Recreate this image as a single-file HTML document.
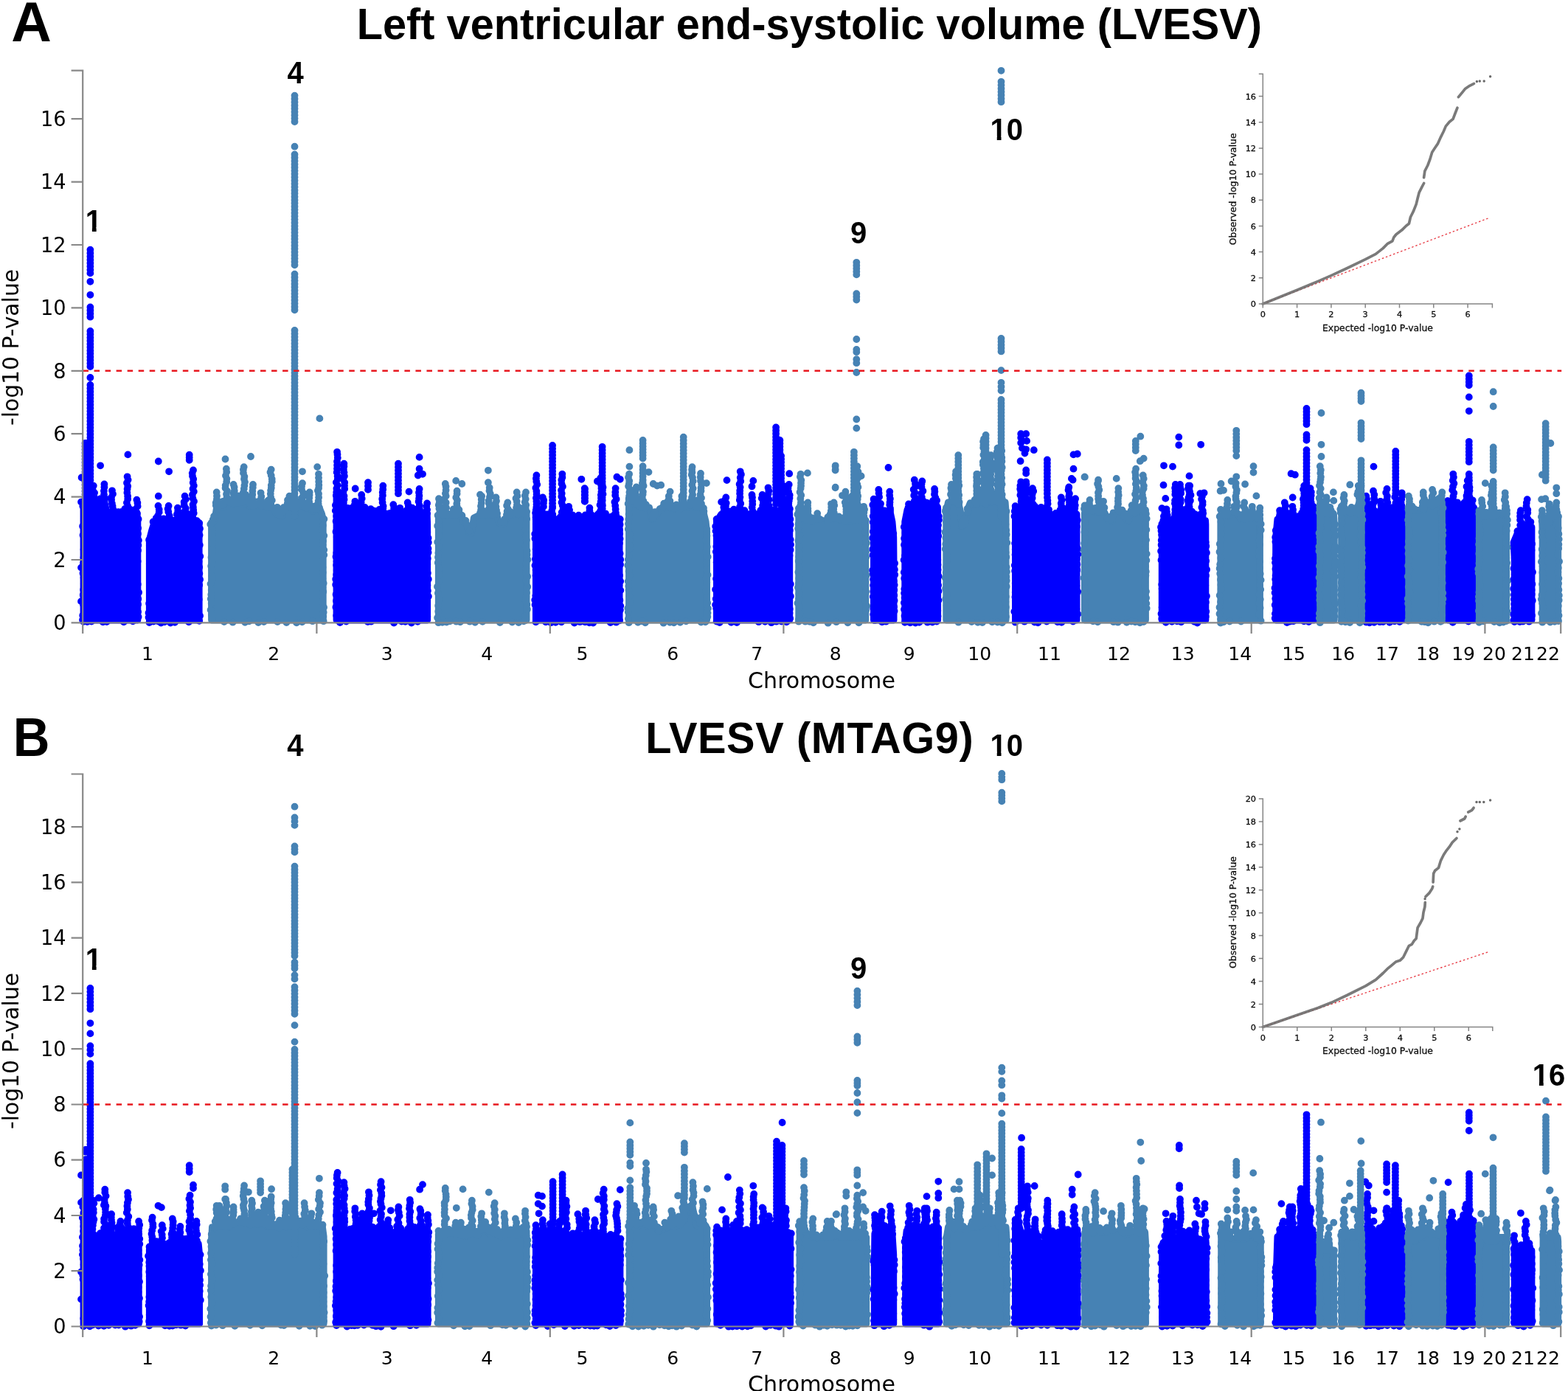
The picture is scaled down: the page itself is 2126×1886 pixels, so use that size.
<!DOCTYPE html>
<html lang="en">
<head>
<meta charset="utf-8">
<title>LVESV Manhattan plots</title>
<style>
html,body{margin:0;padding:0;background:#fff}
body{width:2126px;height:1886px;overflow:hidden}
svg{display:block}
text{font-family:"DejaVu Sans","Liberation Sans",sans-serif;fill:#000}
.tk text{font-size:28.2px}
.xl text{font-size:25.6px}
.at{font-size:30.1px}
.ti{font-family:"Liberation Sans",sans-serif;font-weight:bold;font-size:58.5px}
.le{font-family:"Liberation Sans",sans-serif;font-weight:bold;font-size:75.5px}
.an text{font-family:"Liberation Sans",sans-serif;font-weight:bold;font-size:42px}
.qt text{font-size:11.3px;fill:#111;stroke:#111;stroke-width:0.3px}
.qa{font-size:12.4px;fill:#111;stroke:#111;stroke-width:0.3px}
</style>
</head>
<body>
<svg width="2126" height="1886" viewBox="0 0 2126 1886">
<defs><filter id="bl" x="-5%" y="-5%" width="110%" height="110%"><feGaussianBlur stdDeviation="0.55"/></filter></defs>
<rect width="2126" height="1886" fill="#fff"/>
<path d="M113.2 840.8L113.2 686.2L126.4 679.2L126.8 679.2L130.8 679.2L141.4 679.2L144.9 695.2L152 695.2L154.6 695.2L156.7 705.6L160.8 696.8L166 695.2L169.6 695.2L172.6 695.2L175.4 695.2L177.5 695.2L181 695.2L185.4 695.2L186.7 703.8L186.7 840.8ZM202.5 840.8L202.5 732L205.7 719.7L208.3 711.1L210.1 711.1L214.5 711.1L216.2 711.1L221.5 711.1L225 711.1L228.6 711.1L231.2 711.1L235.6 709.1L240.9 709.1L246.2 709.1L250.6 702.1L255 703.8L258.5 709.1L262 709.1L265.6 709.1L266.4 709.1L267.3 709.1L270 709.1L270 840.8ZM456.2 840.8L456.2 672.1L457.1 672.1L462.9 695L466.4 695L468.2 695L469.1 695L472.6 695L475.2 695L481.4 695L484 695L490.2 698.7L496.4 698.7L499.9 698.7L506 700.3L510.4 698.7L512.2 698.7L515.7 698.7L519.3 698.7L521.4 698.7L528.1 699.4L533.3 698.7L540.4 698.7L545.7 698.7L552.7 698.7L559.8 695L563.3 695L568.6 698.7L573.8 698.7L579.1 698.7L579.5 710.9L579.5 840.8ZM726.5 840.8L726.5 704L727.4 704L728.8 704L734.1 704L735.9 704L737.6 704L744.7 705.6L749.1 704L755.3 709.1L759.7 704L762.3 704L767.6 704L769.3 704L771.1 704L775.5 704L781.7 705.6L787.8 704L794 707.4L780 705.6L787.9 704.7L792.3 707.4L796.7 710.9L799.4 704L804.7 704L810.8 702.1L812.6 695L814.3 696.8L816.6 703.8L821.4 703.8L824 703.8L826.7 703.8L829.3 704L832 704L834.6 704L838.1 704L840.8 704L839.9 704L839.9 840.8ZM971.6 840.8L971.6 705.6L973.7 703.8L978.1 697L984.3 697L989.6 697L994.9 697L996.6 697L1000.1 697L1003.7 697L1007.2 697L1009 697L1010.7 707.4L1014.2 697L1019.5 697L1023.9 697L1026.6 707.4L1030.1 697L1033.6 697L1038.9 697L1041.5 697L1044.2 697L1047.7 697L1054.7 697L1061.8 696.8L1065.3 696.8L1069.7 696.8L1070.6 696.8L1070.6 840.8ZM1184.6 840.8L1184.6 686.2L1186 686.2L1191.3 686.2L1195.7 695.2L1201 695.2L1206.3 695.2L1207.2 695.2L1209.8 707.4L1211.6 728.5L1211.9 763.7L1211.9 840.8ZM1226.9 840.8L1226.9 707.4L1230.1 691.5L1231.8 689.1L1236.2 689.1L1239.8 689.1L1243.3 689.1L1245.9 689.1L1250.3 689.1L1255.6 689.1L1256.5 689.1L1262.7 689.1L1267.1 689.1L1271.5 689.1L1271.5 691.5L1271.5 840.8ZM1376.6 840.8L1376.6 688L1380.7 688L1384.2 688L1391.2 679.2L1396.5 696.8L1400 696.8L1403.6 697L1408.8 697L1414.1 700.3L1417.6 697L1419.9 697L1422.9 697L1428.2 707.4L1433.5 697L1438.8 697L1442.3 697L1445.8 697L1449.3 697L1452.9 697L1458.1 697L1459.9 697L1459.9 840.8ZM1575.4 840.8L1575.4 719.7L1577.1 705.8L1581.5 705.8L1585 705.8L1588.6 705.8L1590.3 705.8L1593.8 705.8L1600 700.3L1600.9 700.3L1607.9 696.8L1611.5 696.8L1613.2 696.8L1615 696.8L1620.3 696.8L1625.6 705.8L1630 705.8L1634.4 705.8L1634.7 710.9L1634.7 840.8ZM1729.8 840.8L1729.8 728.5L1732.1 703.8L1736.5 702.3L1741.8 702.3L1748.8 702.3L1752.4 702.3L1755.9 707.4L1759.4 702.3L1762.9 702.3L1768.2 702.3L1771.4 693.3L1775.3 689.7L1777 689.7L1776.6 689.7L1781.9 689.7L1781.9 840.8ZM1852.3 840.8L1852.3 688L1857.6 689.7L1862 693.3L1866.4 695L1871.7 695L1875.2 695L1880.5 695L1883.1 695L1887.5 695L1892.3 695.2L1896.3 695.2L1900.7 695.2L1901.6 695.2L1901.6 840.8ZM1963.3 840.8L1963.3 679.2L1966.8 686.2L1970.3 688.2L1972.9 688.2L1974.7 688.2L1977.3 688.2L1981.7 700.3L1986.1 688.2L1989.7 688.2L1992 688.2L1995 688.2L1998.5 689.8L1998.5 840.8ZM2053.4 840.8L2053.4 756.7L2052.2 735.6L2056.6 725L2058.4 721.6L2061.9 721.6L2065.4 721.6L2068.9 721.6L2070.7 714.4L2074.2 714.4L2076.8 714.4L2076.8 840.8Z" fill="#0000ff" stroke="#0000ff" stroke-width="9.2" stroke-linejoin="round"/>
<path d="M113.2 682.2h0M113 686.4h0M118.4 674.1h0M119.3 677.6h0M117 682.7h0M122.8 679.6h0M127.5 668.9h0M126.5 672.4h0M127.2 676.8h0M132.9 678.1h0M136.2 676.1h0M136.4 680.2h0M139.7 676.6h0M157 697.4h0M158 701h0M155.8 705.1h0M160.3 694.1h0M165 693.9h0M169.3 689.9h0M168.2 693.3h0M172.8 692.1h0M176.7 690.8h0M176.2 694.4h0M180.7 693.4h0M186 696.1h0M185.1 699.6h0M141.4 656.5h0M141.4 660.6h0M140.9 665.6h0M141 670.7h0M142.1 675.5h0M152 665.3h0M153 669.8h0M151 674.4h0M151.1 677.8h0M151.9 682.8h0M152.6 686.3h0M153.2 690.3h0M151.7 693.7h0M172.6 646.3h0M173.6 650.6h0M172 654.8h0M173.2 659.3h0M172.6 663h0M172.4 668h0M173.1 672.7h0M173.2 676.8h0M171.9 681.6h0M173.2 686.2h0M172.2 690.8h0M172.7 695.1h0M185.4 677.6h0M186.4 681.7h0M186.6 686.4h0M184.1 690.2h0M185.1 694.4h0M126.8 658.6h0M125.6 663.6h0M128.1 668.1h0M127.5 673h0M127.7 677.2h0M112.3 686.2h0M114.1 693.6h0M114.3 700.7h0M114.6 707.7h0M112.1 713.5h0M114 719.3h0M112.5 725.6h0M114.1 732.7h0M114.2 739.9h0M113.6 745h0M114 750.8h0M113.5 755.9h0M113.1 763.5h0M114.6 769.5h0M112.5 777.3h0M113.6 783.3h0M113.8 791.4h0M113.2 799.4h0M112.7 806.7h0M112.5 814.5h0M113.1 819.8h0M114.3 825.4h0M112.2 834.4h0M112 840.4h0M187.6 703.8h0M185.3 711h0M187.2 716.1h0M187 723.7h0M187.9 732.6h0M187.4 739.2h0M187.1 746.2h0M185.3 752.1h0M186.7 761.1h0M186.1 766.7h0M185.9 773.5h0M185.9 780.5h0M185.6 785.7h0M186.8 792.3h0M186 798.2h0M188.1 803.2h0M187.3 812h0M187.1 819.5h0M185.2 824.6h0M187.1 829.6h0M187.6 836.4h0M113.2 842.9h0M118.3 843h0M124 842.5h0M139.6 843.4h0M144.7 843h0M167.8 843.4h0M180.1 842.4h0M136.1 631.3h0M173.4 616.4h0M110.6 647.5h0M110 680.6h0M110 769.6h0M110 815.4h0M122.4 381.8h0M122.4 399.8h0M122.4 512h0M115.5 600.9h0m0 4.34h0m0 4.34h0m0 4.34h0m0 4.34h0m0 4.34h0m0 4.34h0m0 4.34h0m0 4.34h0m0 4.34h0m0 4.34h0m0 4.34h0m0 4.34h0m0 4.34h0m0 4.34h0m0 4.34h0m0 4.34h0m0 4.34h0m0 4.34h0m0 4.34h0M117.6 600.9h0m0 4.34h0m0 4.34h0m0 4.34h0m0 4.34h0m0 4.34h0m0 4.34h0m0 4.34h0m0 4.34h0m0 4.34h0m0 4.34h0m0 4.34h0m0 4.34h0m0 4.34h0m0 4.34h0m0 4.34h0m0 4.34h0m0 4.34h0m0 4.34h0m0 4.34h0M122.4 338.6h0m0 4.54h0m0 4.54h0m0 4.54h0m0 4.54h0m0 4.54h0m0 4.54h0m0 4.54h0M122.4 416.4h0m0 4.43h0m0 4.43h0m0 4.43h0M122.4 448.9h0m0 4.38h0m0 4.38h0m0 4.38h0m0 4.38h0m0 4.38h0m0 4.38h0m0 4.38h0m0 4.38h0m0 4.38h0m0 4.38h0m0 4.38h0M122.4 522h0m0 4.45h0m0 4.45h0m0 4.45h0m0 4.45h0m0 4.45h0m0 4.45h0m0 4.45h0m0 4.45h0m0 4.45h0m0 4.45h0m0 4.45h0m0 4.45h0m0 4.45h0m0 4.45h0m0 4.45h0m0 4.45h0m0 4.45h0m0 4.45h0m0 4.45h0m0 4.45h0m0 4.45h0m0 4.45h0m0 4.45h0m0 4.45h0m0 4.45h0m0 4.45h0m0 4.45h0m0 4.45h0m0 4.45h0m0 4.45h0m0 4.45h0m0 4.45h0m0 4.45h0m0 4.45h0m0 4.45h0m0 4.45h0m0 4.45h0m0 4.45h0m0 4.45h0m0 4.45h0M207.6 707.4h0M209 712.2h0M211.7 702.5h0M211.5 707.7h0M213.1 711.5h0M221.8 703.3h0M222.3 707.5h0M234.3 705.6h0M233.7 709h0M239.1 705h0M239.6 708.8h0M244.2 707h0M247.7 696.8h0M248.6 700.6h0M246.5 705.3h0M252.1 694.7h0M250.7 698.1h0M251.6 702.9h0M255.6 697.3h0M256.7 700.9h0M259 698.6h0M258.9 702.7h0M259 707.4h0M263.3 706.1h0M267 706.2h0M214.5 685.9h0M215.7 690.8h0M215.7 694.4h0M214.1 699.2h0M215.8 703.4h0M214.1 706.8h0M228.6 685.9h0M227.6 689.9h0M228.3 694h0M229.7 699.1h0M229.8 703.1h0M229.2 708.2h0M262 637.5h0M260.7 641.6h0M261 645.5h0M262.2 649.5h0M261.7 654.4h0M262.8 658.5h0M261.5 662.8h0M262.8 666.5h0M260.9 670.7h0M261.4 675.6h0M263 679.7h0M261.5 684.2h0M261.9 687.8h0M262.2 691.4h0M262.7 695.7h0M261.2 699.3h0M261.9 703.2h0M261.7 707.2h0M240.9 688.6h0M241.2 693h0M239.9 697.4h0M240.9 701.4h0M240.7 705.5h0M250.6 672.7h0M251.8 676.9h0M249.6 680.6h0M249.7 685h0M251.8 689.1h0M249.7 694.2h0M250 698.7h0M202.1 732h0M202.8 739.6h0M203 745.1h0M203.6 752.4h0M203.1 758.7h0M202.8 764.8h0M203.3 772.6h0M202.9 779h0M203.4 786.8h0M203.1 795.4h0M203.3 803.8h0M202.8 811h0M202.1 818.3h0M203.6 826h0M201.5 831h0M201.5 837h0M270.2 709.1h0M271 716.7h0M270.6 725.6h0M268.6 731.8h0M270.8 739h0M268.8 747.7h0M271.3 754.3h0M269.5 761.3h0M270.2 769h0M270.4 777.6h0M271.1 785.7h0M270.2 793.2h0M269.1 801.4h0M269.1 806.8h0M269.7 812.8h0M268.6 819.4h0M268.7 826.3h0M271.1 834.9h0M270.2 841.9h0M202.5 844.1h0M208.2 842.6h0M214.2 842.3h0M218.3 844.6h0M223 843.3h0M231.2 844.5h0M237.1 843.8h0M256 843.3h0M214.8 625.5h0M229.1 639.3h0M214.8 672.7h0M256.7 616.7h0m0 3.55h0m0 3.55h0M456.2 667.5h0M455.8 671.6h0M460.1 680.2h0M459.6 684.2h0M463.3 688.4h0M463.5 692.6h0M471.2 688.8h0M470.5 692.5h0M474.5 689.3h0M473.5 694h0M478.8 687.7h0M479.7 691.1h0M477.3 695.9h0M487 687.7h0M486.8 692.4h0M487.5 696.4h0M490.5 688.4h0M490.6 692.6h0M491.1 697.6h0M494.7 688h0M495.8 693h0M493.6 697.2h0M502.7 690.2h0M502.7 694.3h0M503.1 699.3h0M507.3 692.7h0M508.1 697.8h0M514.4 690.8h0M515.5 694.8h0M513.6 698.9h0M519.3 689.2h0M518.5 693.7h0M519.4 698.6h0M523.6 696.4h0M528.7 696h0M529.3 700h0M534.2 695.7h0M534.8 699.1h0M537.7 690h0M536.3 693.5h0M538.4 697.4h0M542.3 688.8h0M543.5 692.5h0M541.9 697.6h0M546.6 696.4h0M551.7 691.6h0M550.3 696.7h0M559 688.7h0M559.4 693.9h0M564.3 690.6h0M565.4 695.2h0M569 691.3h0M569.3 696.4h0M576.1 695h0M575.4 698.9h0M457.1 612.8h0M457.5 616.3h0M457.8 620.7h0M457 625.7h0M457.1 630.7h0M457 635.5h0M456.7 640.4h0M457.6 645.5h0M457.8 649.6h0M455.9 653.9h0M457.5 658h0M456.4 662.5h0M458.2 666.4h0M458.1 670.9h0M490.2 671h0M490.7 675.9h0M489.7 681h0M489.3 686.1h0M491.2 690.3h0M491.2 695.5h0M519.3 658.6h0M519.2 663.5h0M518.7 667.6h0M518.9 671.8h0M518.2 676.4h0M518.6 681.3h0M519.6 686.3h0M518.6 691.3h0M520.2 695.3h0M533.3 684.2h0M534.1 689.1h0M533.1 693.8h0M532 697.4h0M568.6 663h0M568 667.8h0M568.4 672.1h0M568.1 676h0M567.6 680h0M568.7 685.2h0M568.8 690h0M568.5 694.1h0M466.4 628.7h0M466.4 632.3h0M465.9 636.8h0M466.5 640.6h0M466.9 645.5h0M465.4 649.8h0M467.2 654.2h0M467 658.6h0M467.2 662.8h0M465.4 668h0M466.5 672.4h0M466.6 677.3h0M465.9 681.9h0M466.1 685.6h0M467.2 690.7h0M465.3 694.6h0M481.4 679.8h0M480.9 684.1h0M482.2 688h0M482.1 693.2h0M552.7 681.5h0M553.7 685.4h0M553.7 688.9h0M552.2 692.8h0M552.3 696.5h0M579.1 682.4h0M578.3 686.6h0M579.1 691.1h0M579.2 696.1h0M456.8 672.1h0M456.9 679.5h0M454.9 685h0M454.8 692.4h0M456.2 699.7h0M455.6 706.7h0M457.6 714.5h0M455.5 720.9h0M456.7 728.1h0M457 735.1h0M457.6 741.8h0M456.3 749.7h0M455.5 754.8h0M456.6 761.2h0M456.2 766.3h0M456.7 773.1h0M456.2 779.2h0M455.2 785.3h0M455.2 792.7h0M456.9 799.3h0M455.6 806h0M456 814.7h0M455.4 823.3h0M457.4 828.4h0M456.2 834.6h0M457.3 840.3h0M578.1 710.9h0M578.2 716.2h0M579.3 721.4h0M580.6 729.5h0M580.8 735.5h0M580.5 743.8h0M580.6 749.1h0M579.8 757.2h0M579.3 765h0M578.9 770.1h0M579.9 776.9h0M580.8 785.2h0M579.4 793.4h0M579.9 800.9h0M580.9 808.6h0M579 814.3h0M578 821.3h0M578.3 828.8h0M579.3 835.9h0M461 844.1h0M469.4 842.5h0M498.7 843h0M503.1 842.7h0M534.1 844.6h0M544.6 842.5h0M549.6 842.8h0M557.9 844.5h0M566.3 842.8h0M554.5 666.6h0M481.7 662.5h0M568.6 619.9h0M568.6 635.7h0M573 642.8h0M566.8 644.5h0M499 654.2h0m0 4.85h0m0 4.85h0M540 628.7h0m0 4.5h0m0 4.5h0m0 4.5h0m0 4.5h0m0 4.5h0m0 4.5h0m0 4.5h0m0 4.5h0m0 4.5h0M726.5 701.4h0M731.8 698.3h0M732.3 703.1h0M737.3 701.2h0M741.9 697.5h0M743 702.5h0M746.4 703.2h0M749.9 702.1h0M754.7 704.9h0M753.3 709.3h0M759.6 701.1h0M763.8 696.5h0M765 700.8h0M763.2 704.4h0M768.1 697.5h0M768 702h0M772.4 698.4h0M772.1 702.5h0M776.3 698.3h0M775.8 702.3h0M780.7 703h0M784.6 698.6h0M784 703.3h0M793.5 698.4h0M792.6 702.4h0M794.3 705.9h0M801.8 697.9h0M802.2 702.7h0M806.1 700.5h0M810.5 697.4h0M812 702.2h0M815.9 691h0M815 695h0M815.5 698.8h0M821 696.3h0M821.5 700.9h0M828.8 700.7h0M829.9 704.5h0M833.8 696.9h0M834.9 701.8h0M727.4 644.5h0M726.9 648.8h0M727.3 652.7h0M728.2 656.9h0M726.4 661.5h0M727.4 665.9h0M727.6 670.2h0M726.9 675.2h0M727.4 679.7h0M727.5 683.9h0M727.3 688h0M726.7 691.7h0M726.1 695.4h0M726.6 699.1h0M728.2 703.2h0M749.1 688.6h0M748.2 692.8h0M749.3 697.5h0M750.2 701.8h0M762.3 642.8h0M762.4 647.3h0M761.3 650.8h0M761.5 655.9h0M762.9 659.8h0M761 664.6h0M761.7 668.9h0M761.3 673.3h0M762.7 676.8h0M761.5 681.2h0M762.7 685.3h0M763.6 689.8h0M761.7 694.6h0M762.3 698.5h0M761.3 703.3h0M814.3 648.1h0M814.8 652.6h0M815.1 657.4h0M815.4 662h0M815.4 666.9h0M814.8 671.1h0M815 675.2h0M814.6 680.1h0M813.5 684.6h0M815.2 688.1h0M814.4 692.1h0M816.6 648.1h0M816.3 652.7h0M816.6 656.8h0M817.5 660.7h0M816.9 664.8h0M817.5 669.9h0M816.4 674.5h0M816.7 678.3h0M816.3 682h0M816.9 685.5h0M816.7 689.8h0M815.7 694.1h0M816.9 698.4h0M817.7 703.2h0M834.6 662.1h0M834.3 667.2h0M834.2 671.6h0M835.6 676.8h0M833.4 680.7h0M834.2 685.8h0M834.6 690.5h0M834.9 695.4h0M835.5 699.5h0M835.3 703.5h0M735.9 674.5h0M737.2 678.3h0M736.9 681.9h0M736.9 686.9h0M734.8 691h0M735.5 695h0M736.6 699h0M771.1 686.8h0M772.1 691.6h0M772.2 696.3h0M770.9 700.3h0M799.4 688.6h0M799.4 692.5h0M799.8 696.4h0M800.6 700.5h0M726.7 704h0M726.8 710.2h0M728 715.3h0M725.2 724h0M725.4 730.3h0M728 736.5h0M726.6 744.7h0M728 750h0M725.9 758h0M725.4 766.6h0M726.6 772.7h0M726.5 780.4h0M727.8 788.4h0M727.8 795.5h0M727 802.4h0M726.3 807.7h0M725.2 813.5h0M725.5 819.9h0M726.8 825h0M727.3 830.3h0M727.3 838.9h0M840.7 704h0M840.6 711.1h0M840.1 718.6h0M840.2 723.7h0M840.6 730.4h0M839.9 736.5h0M838.4 744.7h0M840.6 750.4h0M841.2 758.7h0M841 765.5h0M839 771.9h0M840 780.2h0M841.2 788.1h0M839.4 793.8h0M841.3 800.4h0M838.5 807.5h0M840.4 813.8h0M841.3 821.6h0M840.9 827h0M839.1 834.3h0M840.1 841.3h0M726.5 843.4h0M740 843.3h0M747 844.2h0M753.3 843.8h0M761.1 843.4h0M778.8 844.6h0M786.3 843.2h0M793.2 843.4h0M799.1 844.3h0M804.2 844.6h0M827.7 844.1h0M835.4 843.7h0M788.4 649.8h0M788.3 649.8h0M836.4 646.7h0M840.8 649.8h0M809.9 652.5h0M749.1 604h0m0 4.36h0m0 4.36h0m0 4.36h0m0 4.36h0m0 4.36h0m0 4.36h0m0 4.36h0m0 4.36h0m0 4.36h0m0 4.36h0m0 4.36h0m0 4.36h0m0 4.36h0m0 4.36h0m0 4.36h0m0 4.36h0m0 4.36h0m0 4.36h0m0 4.36h0M793.1 663h0m0 4.2h0m0 4.2h0m0 4.2h0m0 4.2h0M792.7 662.1h0m0 4.42h0m0 4.42h0m0 4.42h0m0 4.42h0M816.6 605.8h0m0 4.31h0m0 4.31h0m0 4.31h0m0 4.31h0m0 4.31h0m0 4.31h0m0 4.31h0m0 4.31h0m0 4.31h0m0 4.31h0m0 4.31h0m0 4.31h0m0 4.31h0m0 4.31h0m0 4.31h0m0 4.31h0m0 4.31h0m0 4.31h0M971.6 704h0M981.3 687.8h0M981.6 693h0M982.4 697.7h0M986.4 695.8h0M990.9 693.3h0M990.7 697.8h0M995 690.7h0M995.3 695.1h0M1004.3 692.3h0M1003.8 697.5h0M1009.5 692.2h0M1008.8 697h0M1008.5 700.7h0M1026.1 697.3h0M1024.9 701.8h0M1031.3 692h0M1032.2 696.2h0M1036.3 690h0M1037.3 695h0M1041.3 695.7h0M1046.2 691.3h0M1044.9 696.2h0M1050.2 691.3h0M1051.7 696.3h0M1053.7 692.6h0M1053.6 697.7h0M1059.1 690.5h0M1059 695.7h0M1063.9 686.2h0M1063.7 691.1h0M1065.2 696.3h0M1067.8 691h0M1066.6 695h0M984.3 674.5h0M983 677.9h0M984.7 682.1h0M983.9 686.1h0M984.2 690.4h0M984.5 694.6h0M1003.7 639.3h0M1004.9 643.2h0M1003.7 647.6h0M1004.2 652.4h0M1002.6 656.5h0M1003.6 660.6h0M1003.2 665.2h0M1003.1 669.3h0M1003.4 674.1h0M1002.8 678h0M1004.2 682.8h0M1003.1 687.1h0M1004.4 690.7h0M1002.8 695.2h0M1019.5 671h0M1020 674.5h0M1020.2 679.6h0M1020.3 683.6h0M1019.7 687.9h0M1020.5 693h0M1033.6 671h0M1032.7 675.6h0M1034.8 680.7h0M1034.1 685.4h0M1034.2 689h0M1033.8 694.1h0M1041.5 661.3h0M1042.3 665.4h0M1041.7 669.6h0M1040.7 673.4h0M1042.6 677.4h0M1041.3 681.8h0M1042.6 685.6h0M1041.9 689.1h0M1041.4 692.6h0M1040.3 696.7h0M1061.8 658.6h0M1061.8 662.1h0M1063 665.9h0M1061 671h0M1061.5 674.8h0M1061.3 678.9h0M1060.6 683.9h0M1060.8 687.4h0M1062.2 692.3h0M1062 696.6h0M1069.7 656.9h0M1068.5 661.5h0M1069.1 666.7h0M1070.7 671.2h0M1070.5 675.3h0M1069.8 678.9h0M1069.3 682.6h0M1069.5 686.4h0M1070.9 689.9h0M1070.1 693.6h0M972.2 705.6h0M970.2 713.7h0M970.5 720.1h0M971.4 726h0M972.8 732.5h0M971.3 740.9h0M970.8 748.1h0M972.5 756.2h0M971.6 762.5h0M972.8 769.3h0M972.4 776.4h0M971 784.8h0M972.1 790.4h0M970.1 799.2h0M972.2 805.5h0M970.7 812h0M970.1 820h0M971.2 825h0M973 833.9h0M972.7 842.2h0M1069.3 696.8h0M1071.4 704h0M1071.6 711.5h0M1070.9 718.9h0M1070.2 726.5h0M1071.7 731.6h0M1072 738.4h0M1071.6 745.5h0M1070.5 753.3h0M1069.1 761.6h0M1069.1 769.3h0M1069.2 776.9h0M1069.2 783.3h0M1071.8 792h0M1070.6 800h0M1071.9 808.4h0M1069.6 817h0M1070.8 825.7h0M1070.5 831.2h0M1071.2 838.4h0M971.6 842.5h0M975.7 844h0M991.5 843.9h0M999 844h0M1028.7 843.2h0M1037.3 842.8h0M1045.9 844.2h0M1052.6 842.7h0M1059.7 842.6h0M1066.4 843.4h0M985.5 651.1h0M1021.3 651.9h0M1019.5 659.5h0M1070.2 642.2h0M978.1 680.6h0M1052.1 579.4h0m0 4.33h0m0 4.33h0m0 4.33h0m0 4.33h0m0 4.33h0m0 4.33h0m0 4.33h0m0 4.33h0m0 4.33h0m0 4.33h0m0 4.33h0m0 4.33h0m0 4.33h0m0 4.33h0m0 4.33h0m0 4.33h0m0 4.33h0m0 4.33h0m0 4.33h0m0 4.33h0m0 4.33h0m0 4.33h0m0 4.33h0m0 4.33h0M1057.4 597h0m0 4.31h0m0 4.31h0m0 4.31h0m0 4.31h0m0 4.31h0m0 4.31h0m0 4.31h0m0 4.31h0m0 4.31h0m0 4.31h0m0 4.31h0m0 4.31h0m0 4.31h0m0 4.31h0m0 4.31h0m0 4.31h0m0 4.31h0m0 4.31h0m0 4.31h0m0 4.31h0M1059.1 618.1h0m0 4.35h0m0 4.35h0m0 4.35h0m0 4.35h0m0 4.35h0m0 4.35h0m0 4.35h0m0 4.35h0m0 4.35h0m0 4.35h0m0 4.35h0m0 4.35h0m0 4.35h0m0 4.35h0m0 4.35h0M1184.6 676.7h0M1185.3 680.1h0M1183.3 684.5h0M1189.3 682.2h0M1190.1 685.8h0M1194 683h0M1193.2 686.5h0M1193.6 691.6h0M1199.3 692.3h0M1207.1 691.1h0M1205.7 695.3h0M1211.3 723.4h0M1191.3 663.9h0M1191.6 668.7h0M1192.1 673.8h0M1190 679h0M1192.2 682.5h0M1206.3 666.6h0M1206.2 671.6h0M1206.9 676.2h0M1206.5 681h0M1206.3 684.5h0M1207 689.3h0M1207 692.8h0M1184.7 686.2h0M1185.9 691.6h0M1183.7 700h0M1183.7 708.1h0M1184.9 715.6h0M1183.8 720.8h0M1183.2 729.5h0M1184.9 735.9h0M1183.3 744.7h0M1183.5 752.6h0M1185.1 760.7h0M1184.9 767.4h0M1183.1 773.2h0M1183.8 778.5h0M1184.1 785.4h0M1184.1 793.6h0M1184.3 802h0M1183.9 809h0M1184.9 817.4h0M1184.3 825.3h0M1184.2 833.1h0M1185.9 841.2h0M1213.1 763.7h0M1212.9 772.3h0M1213.2 779.2h0M1212 788h0M1212.7 793.1h0M1212.3 800h0M1212.3 807.2h0M1212.6 814.2h0M1212.1 822.7h0M1212.6 828.4h0M1210.7 836.1h0M1196 843.4h0M1201.3 842.7h0M1204.5 634h0M1232 683.4h0M1231.5 688.3h0M1235.8 685.4h0M1235.2 688.8h0M1239.8 686.8h0M1244.4 688h0M1248.2 678.9h0M1248.2 683.5h0M1248.3 687.8h0M1251.8 681.4h0M1252.7 685.6h0M1256.6 681.7h0M1255.5 686.6h0M1261.4 686.8h0M1265 678.9h0M1264.2 683.4h0M1264.3 687h0M1270.1 678.5h0M1269 683h0M1271 687.5h0M1239.8 650.7h0M1241 655.8h0M1241.1 659.9h0M1238.7 663.8h0M1240.1 667.5h0M1239.2 671.7h0M1241.1 675.2h0M1239.6 679.7h0M1239.2 683.6h0M1239.9 687.5h0M1250.3 652.5h0M1249.5 656.2h0M1249.5 660.6h0M1251.4 665.7h0M1249.1 669.3h0M1249.8 674h0M1251.3 678.6h0M1250 683h0M1249.7 687.8h0M1267.1 663h0M1267.4 666.4h0M1267 670.3h0M1268.3 674.8h0M1266.6 679h0M1265.9 684h0M1266.1 687.5h0M1228 707.4h0M1225.8 714.4h0M1227.6 722.6h0M1226.1 729.9h0M1226 738.7h0M1227.9 747.4h0M1227 753.4h0M1225.6 759.3h0M1228.3 767.7h0M1225.8 775.9h0M1226.2 784.3h0M1228 791.4h0M1226.3 798.6h0M1226.1 804.2h0M1226.6 810.6h0M1225.9 817.2h0M1226 826.2h0M1226.5 835.1h0M1228.1 840.5h0M1271.1 691.5h0M1272.8 699.9h0M1272.9 705h0M1272 712.1h0M1271.7 719.5h0M1272.2 726.7h0M1270.6 733.6h0M1271.3 738.9h0M1270.1 746.9h0M1270.4 753h0M1271.3 759h0M1271.5 765.8h0M1271.6 772.6h0M1272.6 781.2h0M1270.9 786.3h0M1272.1 793.4h0M1272.5 801.6h0M1271.2 808.8h0M1272.4 813.9h0M1270.2 821.6h0M1271.3 828h0M1271.5 835.4h0M1226.9 843.8h0M1234.1 844.4h0M1241.2 844.5h0M1246.3 843.9h0M1257.6 843.7h0M1264.2 843.6h0M1270.1 842.6h0M1376.6 686.1h0M1393.6 682.6h0M1392.4 686h0M1397.9 688.2h0M1397.2 693.4h0M1403.1 686.4h0M1402.7 691.4h0M1403.6 695.7h0M1407.4 695.7h0M1411.6 688h0M1410.3 692.5h0M1410.7 697h0M1416.8 689.8h0M1415.5 694.9h0M1422 691h0M1422.9 695.7h0M1426.5 699.7h0M1426.3 703.9h0M1431.4 695.9h0M1431 700.6h0M1436.7 695.4h0M1440.9 693.6h0M1444.3 690.2h0M1444.2 694.4h0M1448.7 688.1h0M1449.8 691.9h0M1447.4 695.7h0M1456 694.4h0M1384.2 653.3h0M1383.4 658.4h0M1383.2 663h0M1384.1 666.6h0M1383.4 671.3h0M1385 676.2h0M1384.6 680h0M1384.4 685.2h0M1391.2 653.3h0M1391.6 656.8h0M1390.9 661.8h0M1391.7 665.3h0M1390.5 669.5h0M1390.4 674.1h0M1392.1 678.8h0M1419.9 669.2h0M1420 674.4h0M1420.4 678.8h0M1420.6 683.1h0M1418.9 687.6h0M1420.3 692.4h0M1419.5 696.2h0M1438.8 674.5h0M1439.7 678.1h0M1438.7 682.5h0M1439.2 686.5h0M1437.5 691.5h0M1439.9 696.1h0M1449.3 660.4h0M1448.5 664.5h0M1449.9 669.3h0M1449.3 673h0M1449.2 676.8h0M1450 680.9h0M1449.8 684.9h0M1449.1 689.8h0M1449.1 694.7h0M1400 662.1h0M1401.2 666h0M1399.6 670.3h0M1399.6 675.2h0M1398.7 679h0M1400.8 683.8h0M1399 688.5h0M1399 692.5h0M1458.1 676.2h0M1457.1 680.5h0M1457.8 685.1h0M1457.3 689h0M1456.9 693.6h0M1378.1 688h0M1375.8 693.2h0M1375.5 700h0M1378 707.7h0M1377.3 713.9h0M1377.5 719.5h0M1377.1 727.8h0M1376.1 736.6h0M1376.7 745h0M1376.5 752.1h0M1376.8 759.1h0M1375.8 766.4h0M1376.1 774.2h0M1377.7 781.8h0M1376.7 790.7h0M1377.5 795.9h0M1376.7 803.1h0M1376.4 809.4h0M1376.8 814.7h0M1377.9 821.8h0M1375.3 829.3h0M1377.5 837.3h0M1458.4 697h0M1460.8 705.3h0M1459.9 714.1h0M1458.8 723h0M1458.5 728.2h0M1458.5 734.8h0M1460.9 743.7h0M1461.3 751.6h0M1459.9 757.7h0M1460.4 765.2h0M1460.3 772.6h0M1458.5 778.5h0M1458.5 785.2h0M1459.4 794.1h0M1461.2 802.3h0M1459.2 809.9h0M1458.9 816.7h0M1459.4 825.6h0M1461.3 832.6h0M1458.6 840.4h0M1376.6 843.7h0M1389 842.7h0M1402.8 843.6h0M1407.3 844.4h0M1419.2 842.6h0M1434 843.4h0M1439.3 843.9h0M1454.9 842.5h0M1384.2 588.2h0M1391.2 588.2h0M1384.2 593.5h0M1392.1 597.9h0M1384.2 600.5h0M1385.9 607.6h0M1391.2 609.3h0M1389.5 614.6h0M1383.6 625.2h0M1401.8 610.2h0M1391.2 637.5h0M1391.2 641.9h0M1455.5 616.4h0M1460.8 615.5h0M1455.5 635.7h0M1452.9 648.9h0M1454.6 650.7h0M1449 661.3h0M1419.9 623.4h0m0 4.58h0m0 4.58h0m0 4.58h0m0 4.58h0m0 4.58h0m0 4.58h0m0 4.58h0m0 4.58h0m0 4.58h0m0 4.58h0M1575.4 710.4h0M1574 714.8h0M1574.5 719.7h0M1579.3 695.2h0M1577.9 700h0M1580.8 703.7h0M1582.8 698.6h0M1583.6 702.9h0M1593.2 696.8h0M1592.5 701.4h0M1592.6 705.7h0M1605.2 691.2h0M1604.3 695.7h0M1608.8 691.2h0M1608.5 694.9h0M1616.2 693.7h0M1625.3 698.3h0M1626.5 703h0M1630 695.4h0M1630.6 699.9h0M1629.3 704.8h0M1581.5 690.3h0M1581.9 694h0M1580.6 698.6h0M1581.3 703.5h0M1593.8 656.9h0M1593.1 661.6h0M1593.5 666.3h0M1593.3 670.4h0M1594.8 674.2h0M1593.1 678.6h0M1592.9 682.6h0M1593.9 686.8h0M1593.3 690.9h0M1593.2 695.7h0M1594 700.4h0M1593.8 704.4h0M1600 656.9h0M1600.1 660.5h0M1601.2 664.3h0M1601.1 668.9h0M1599.2 673.2h0M1600.7 677.2h0M1600.6 681.3h0M1599.2 685.1h0M1600.3 689.9h0M1600.3 694.6h0M1598.8 698.5h0M1611.5 658.6h0M1611 662.5h0M1612.4 666.1h0M1612.6 671.2h0M1611.5 674.9h0M1610.5 678.8h0M1611.5 683h0M1611.2 686.6h0M1610.4 691.1h0M1612.2 695.2h0M1613.2 658.6h0M1612.4 663.1h0M1613.1 666.6h0M1614.5 671.2h0M1612.5 674.8h0M1613.9 678.8h0M1612.4 682.6h0M1612.6 687.5h0M1613.3 691.5h0M1614.2 695.1h0M1630 672.7h0M1629.1 676.8h0M1630.6 680.4h0M1630.6 684h0M1629.4 688h0M1630.8 692.4h0M1631.2 696h0M1629.9 700.1h0M1630.2 704.7h0M1575.3 719.7h0M1575.1 725.1h0M1574.7 732.6h0M1574.6 738.8h0M1574.1 747.2h0M1576.8 753.6h0M1574.5 759.4h0M1576.7 767.8h0M1576.3 773.6h0M1576.7 779.8h0M1576 786.3h0M1575.2 792.4h0M1575.6 798.2h0M1575.8 803.7h0M1576.8 809.4h0M1575.8 815.1h0M1575.6 823.4h0M1574.5 832.1h0M1575.3 839h0M1634 710.9h0M1633.5 718.4h0M1633.7 726.3h0M1634.7 735.2h0M1635.3 740.5h0M1635.9 749.5h0M1634.2 755.1h0M1635.2 760.6h0M1633.8 765.8h0M1636.1 772.2h0M1635 780.4h0M1633.3 786.4h0M1634.3 793.4h0M1633.7 801.8h0M1635.9 808.2h0M1634.9 816.6h0M1633.7 821.7h0M1635.3 829.1h0M1634.8 835.9h0M1580.8 843.8h0M1589 842.8h0M1595.9 842.4h0M1601.5 843.3h0M1619.3 842.9h0M1623.4 844.5h0M1598.3 592.6h0M1598.3 603.5h0M1628.2 602.8h0M1578 631.3h0M1590 632.6h0M1612.5 645.4h0M1577.5 657.7h0M1580.3 675.9h0M1575.4 689.1h0M1627.3 669.2h0M1632.6 668.3h0M1729.8 719.2h0M1730.8 724.2h0M1730.9 728.5h0M1735.1 692.2h0M1735.5 695.7h0M1735 699.2h0M1740 698.3h0M1739.7 702.6h0M1743.4 694.1h0M1743.7 698.7h0M1744.8 702.6h0M1748.7 696.2h0M1748.5 700.9h0M1756.8 702.5h0M1755.6 706h0M1761 699.9h0M1765.1 695.4h0M1763.6 700.4h0M1768.9 698.9h0M1772.6 690.7h0M1776.8 685.8h0M1780.9 687h0M1741.8 681.5h0M1742.9 685.4h0M1742 690h0M1741 694.9h0M1741.5 699.4h0M1768.2 658.6h0M1767 663.6h0M1768.2 668.8h0M1768.3 672.8h0M1766.9 676.7h0M1767.6 681.3h0M1767.7 685.6h0M1767.2 690.2h0M1767.9 694.8h0M1768.4 698.2h0M1766.9 701.9h0M1771.4 658.6h0M1771.1 662.3h0M1771.9 666.4h0M1771.1 671.3h0M1771.9 675h0M1770.9 678.4h0M1770.2 683.6h0M1771.7 687.1h0M1771.3 691.5h0M1776.6 662.1h0M1777.8 667.3h0M1777.7 671.8h0M1777.2 676.2h0M1777.7 681.3h0M1776.1 685.9h0M1752.4 686.8h0M1753.1 691.3h0M1753.3 696.2h0M1751.2 700.8h0M1729.2 728.5h0M1729.4 734.6h0M1730.9 743.1h0M1730.4 751.7h0M1729 757.3h0M1729 762.7h0M1729.4 771.5h0M1729.6 780.4h0M1729.2 785.5h0M1729.8 791h0M1728.5 797.2h0M1728.6 803.8h0M1729.2 811.6h0M1728.7 820.2h0M1731.3 826.6h0M1728.9 832.1h0M1728.7 838.3h0M1782.5 689.7h0M1782.8 696.8h0M1782 703.2h0M1781 711.5h0M1780.5 716.9h0M1780.9 724.4h0M1781.3 731.9h0M1783.3 739.5h0M1780.6 744.7h0M1781 753.2h0M1781.8 761.4h0M1780.7 769.9h0M1782.4 777.1h0M1782.2 784h0M1783.3 789.1h0M1782.4 797.5h0M1782.6 803h0M1782.6 811.1h0M1781.9 817.4h0M1783 823.2h0M1782.4 831.3h0M1783.1 838.5h0M1745 844.1h0M1749.2 842.5h0M1753.5 842.2h0M1768 842.4h0M1774.5 843.1h0M1750.6 642.2h0M1755.9 643.7h0M1752.7 674.5h0M1771.5 554h0m0 4.24h0m0 4.24h0m0 4.24h0m0 4.24h0m0 4.24h0M1771.5 589.4h0m0 3.75h0m0 3.75h0M1771.5 610.1h0m0 4.49h0m0 4.49h0m0 4.49h0m0 4.49h0m0 4.49h0m0 4.49h0m0 4.49h0m0 4.49h0m0 4.49h0m0 4.49h0m0 4.49h0m0 4.49h0m0 4.49h0m0 4.49h0m0 4.49h0m0 4.49h0m0 4.49h0m0 4.49h0m0 4.49h0m0 4.49h0M1852.3 682h0M1852.3 686.4h0M1856.1 683.9h0M1857.2 688.2h0M1859.7 685h0M1860.8 689.2h0M1864.3 693.1h0M1875.4 688.5h0M1874.2 692.4h0M1883.9 691h0M1884.4 695h0M1888.2 688.2h0M1889.3 693.1h0M1893.1 693.1h0M1898.3 685.3h0M1897.8 688.9h0M1897 693.9h0M1852.3 672.7h0M1853.1 676.8h0M1852.5 681.4h0M1851.4 685.5h0M1862 665.7h0M1863.3 670.7h0M1863.1 675.9h0M1863 680.8h0M1861.3 684.5h0M1861.4 689.2h0M1862.6 693.2h0M1880.5 663h0M1879.2 668h0M1880.8 672.8h0M1880.4 677.1h0M1881.3 681.5h0M1880.7 686.3h0M1879.5 689.7h0M1881.5 694.5h0M1892.3 669.2h0M1891.3 673.9h0M1893.6 677.9h0M1892.4 682h0M1893.2 686h0M1893.2 690.4h0M1891.1 694.6h0M1900.7 668.3h0M1901.2 672.3h0M1900.2 676.9h0M1899.6 681.2h0M1900.3 685.2h0M1900.3 689.4h0M1900.6 692.9h0M1871.7 679.8h0M1872.4 684.2h0M1872.6 689.3h0M1871.8 694.1h0M1851.8 688h0M1852.1 694h0M1853 702.6h0M1853.8 709.3h0M1852.7 716.8h0M1851.3 725.1h0M1851 731.4h0M1851.1 738.5h0M1851.7 743.5h0M1851.6 748.6h0M1852.5 755.5h0M1850.9 760.8h0M1852.4 767.3h0M1850.8 773.7h0M1850.9 778.7h0M1850.8 787.5h0M1851.3 794.9h0M1853.1 800.9h0M1852.9 806.2h0M1852.7 814.4h0M1853.3 820.7h0M1852.4 829.1h0M1851.3 836.5h0M1902.5 695.2h0M1901.5 703.9h0M1902.6 711.1h0M1902 719.5h0M1902.8 726.7h0M1901.3 732.2h0M1901.7 737.2h0M1902.9 745.4h0M1901.9 751.3h0M1900.9 759h0M1901.3 766.9h0M1900.1 775.4h0M1900.9 784.2h0M1902.9 792.3h0M1902.8 800.3h0M1901.7 808.5h0M1902.3 815.3h0M1902.1 822.6h0M1901.8 830.5h0M1901.6 835.5h0M1852.3 843.5h0M1856.9 844.3h0M1863.1 843.9h0M1871 843.2h0M1875.3 843h0M1884.1 843.8h0M1890.8 842.4h0M1897.7 843h0M1862.5 632.6h0M1892.3 612h0m0 4.4h0m0 4.4h0m0 4.4h0m0 4.4h0m0 4.4h0m0 4.4h0m0 4.4h0m0 4.4h0m0 4.4h0m0 4.4h0m0 4.4h0m0 4.4h0m0 4.4h0M1966.7 683.5h0M1970.9 682.8h0M1970 687.7h0M1976 681.3h0M1977.1 685.9h0M1980.2 695h0M1985.5 681.4h0M1984.9 684.9h0M1985.2 689.6h0M1989.3 682.3h0M1989.2 685.8h0M1992.9 682.6h0M1991.8 687.5h0M1996.7 678.3h0M1995.8 683.4h0M1998.1 688.2h0M1970.3 642.8h0M1970.9 647h0M1969.8 651.5h0M1971.4 655.5h0M1970 659.8h0M1969.2 664.4h0M1971.3 668.4h0M1970.4 672.9h0M1969.9 676.7h0M1969.8 681.1h0M1970.8 685.7h0M1989.7 651.6h0M1990.9 656.4h0M1988.5 659.8h0M1990 664.2h0M1989.6 667.8h0M1988.5 672.2h0M1988.8 675.9h0M1990 680.3h0M1988.6 683.8h0M1988.7 687.5h0M1992 651.6h0M1991.5 656.1h0M1992.5 660.8h0M1992.5 665.2h0M1991.3 669h0M1992.6 673.9h0M1991.4 679h0M1991.8 683.6h0M1962.7 679.2h0M1963.9 687h0M1963.4 692.2h0M1963.2 700h0M1961.9 708.5h0M1964.2 716.3h0M1962.4 723.5h0M1962 730.1h0M1961.8 739.1h0M1963.4 745.1h0M1964.1 751.8h0M1964.6 758.8h0M1962.8 764.6h0M1962.9 770.5h0M1964.2 776.9h0M1964.1 783.3h0M1962.8 789.6h0M1962 796.8h0M1963.7 802.8h0M1962.1 809.5h0M1964.6 818.1h0M1963.1 825.5h0M1964.2 830.7h0M1964.4 838.7h0M1997.1 689.8h0M1998.5 698.4h0M1999.8 704.6h0M1997.5 713.3h0M1997.1 719.6h0M1997.7 725.7h0M1999.2 732.8h0M1997.5 740.6h0M1997.6 746.6h0M1999.8 753.3h0M1997.5 758.7h0M1997.8 766h0M1999 772.9h0M1997.1 781.8h0M1997.6 787.8h0M1999.7 793.7h0M2000 799.1h0M1999.5 806.9h0M1998.2 813.5h0M1999.1 821.9h0M1998.9 828.9h0M1998.1 834.9h0M1969.8 843.9h0M1991 842.6h0M1991.8 538.4h0M1991.8 557.3h0M1991.8 509.5h0m0 4.27h0m0 4.27h0m0 4.27h0M1991.8 598.8h0m0 4.57h0m0 4.57h0m0 4.57h0m0 4.57h0m0 4.57h0m0 4.57h0M1991.8 643h0m0 4.38h0m0 4.38h0m0 4.38h0m0 4.38h0m0 4.38h0m0 4.38h0m0 4.38h0m0 4.38h0m0 4.38h0m0 4.38h0m0 4.38h0m0 4.38h0m0 4.38h0M2057.4 720.2h0M2065.2 713.6h0M2065.9 717.2h0M2064.4 720.9h0M2070.1 714.2h0M2075.4 707.8h0M2074.7 712.5h0M2061.9 692.1h0M2061.2 695.6h0M2061.1 699.9h0M2061.1 704.9h0M2062.6 708.4h0M2061.2 712.1h0M2062.8 715.8h0M2061.5 720.3h0M2070.7 677.1h0M2069.8 681.7h0M2069.5 686.4h0M2071.3 691.2h0M2071.3 695.2h0M2070 700.2h0M2071.9 704.1h0M2071.9 708.7h0M2071.7 713.2h0M2053.7 756.7h0M2054.8 765.5h0M2052.5 770.7h0M2053.7 778.5h0M2052.1 786h0M2054.5 792.8h0M2052.2 798.3h0M2053.1 806.4h0M2052.9 812.6h0M2053.2 818.9h0M2053.3 825h0M2052.2 833h0M2052.2 841.2h0M2075.3 714.4h0M2076 723.4h0M2075.9 732h0M2077.1 737.4h0M2076.5 746h0M2076 751.9h0M2075.7 760.7h0M2075.9 767.3h0M2078 775.8h0M2075.8 783.6h0M2077.4 791.9h0M2076.7 800h0M2076.8 805.8h0M2077.8 814.3h0M2075.9 820h0M2075.8 827.9h0M2077 834.5h0M2076.4 840h0M2053.4 843h0M2060.7 843h0M2065 842.5h0M2073.2 842.7h0" fill="none" stroke="#0000ff" stroke-width="9.8" stroke-linecap="round"/>
<path d="M286.7 840.8L286.7 710.9L291.1 705.6L293.7 688.2L298.1 688.2L302.5 688.2L305.2 680.9L306.9 682.7L310.5 682.7L311.3 682.7L316.6 682.7L319.3 682.7L325.4 682.7L330.7 682.7L333.4 670.4L338.6 686.2L343 686.2L346.6 686.2L353.6 686.2L358.9 686.2L362.4 688.2L367.7 688.2L369.5 688.2L374.7 696.8L381.8 700.3L387.1 688.2L392.4 688.2L399.4 688L406.4 686.2L410 686.2L413.5 688.2L419.7 688.2L424.1 693.3L429.3 688.2L432 688.2L432.9 688.2L436.4 696.8L438.1 703.8L438.1 840.8ZM594.5 840.8L594.5 698.7L595 698.7L599.4 698.7L601.1 698.7L603.8 698.7L606.4 698.7L607.3 698.7L613.5 698.7L616.1 698.7L619.6 698.7L624.9 698.7L626.7 698.7L626.7 707.4L632 709.1L635.5 721.5L639 723.2L642.5 702.1L649.6 698.7L653.1 698.7L658.4 698.7L663.7 698.7L669 698.7L672.5 698.7L674.2 700.3L676.9 709.1L683 710.9L688.3 698.7L693.6 698.7L698.9 695L700.7 695L704.2 696.8L709.5 696.8L713 696.8L713.9 696.8L713.9 840.8ZM852.7 840.8L852.7 677.4L853.1 677.4L857.5 677.4L862.8 682.7L868.1 688L871.6 688.2L875.1 688.2L880.4 688.2L883.9 703.8L889.2 700.3L894.5 689.8L901.5 688.2L906.8 688.2L913.8 689.8L920.9 691.5L924.4 688.2L929.7 688.2L933.2 688.2L935.9 686.2L938.5 679.2L941.1 688.2L945.6 688.2L950 688.2L951.7 688.2L953.5 693.3L957 707.4L958.4 721.5L958.4 840.8ZM1082.9 840.8L1082.9 696.8L1085.6 696.8L1090 705.8L1090.8 705.8L1095.3 705.8L1100.5 705.8L1105.8 706.5L1114.6 705.8L1121.7 705.8L1127 705.8L1120 705.8L1125.3 705.8L1130.6 703.8L1135.9 703.8L1141.1 705.8L1146.4 705.8L1149.1 705.8L1152.6 707.4L1155.2 705.8L1157.9 705.8L1162.3 705.8L1164 705.8L1168.4 705.8L1171.1 705.8L1173.7 705.8L1173.7 840.8ZM1282.9 840.8L1282.9 693.3L1285.6 681.1L1290 681.1L1294.4 681.1L1296.1 681.1L1299.3 681.1L1302.3 693.3L1304 714.4L1308.4 709.1L1313.7 686.2L1315.5 681.8L1320.8 684.5L1322.5 681.1L1325.2 681.1L1327.8 681.1L1331.3 681.1L1334 681.1L1339.3 681.1L1343.7 681.1L1345.4 679.2L1347.2 679.2L1350.7 679.2L1352.5 681.1L1357.4 681.1L1362.2 681.1L1363 681.1L1363.9 693.3L1363.9 840.8ZM1470.6 840.8L1470.6 721.5L1470.6 695.2L1477.6 695.2L1482 695.2L1484.7 691.5L1489.1 695.2L1490.8 695.2L1496.1 695.2L1497.9 695.2L1502.3 705.6L1507.6 707.4L1509.3 695.2L1516.4 695.2L1518.1 695.2L1523.4 695.2L1528.7 707.4L1532.2 695.2L1535.7 695.2L1538.4 695.2L1540.1 695.2L1546.3 691.5L1549.8 691.5L1551.6 691.5L1553.3 691.5L1553.3 840.8ZM1655 840.8L1655 700.3L1659 700.3L1664.3 700.3L1669.6 696.8L1671.3 696.8L1675.7 696.8L1678.4 696.8L1681.9 703.8L1687.2 703.8L1692.5 703.8L1697.8 703.8L1703 703.8L1708.3 702.9L1708.3 840.8ZM1789.8 840.8L1789.8 696.8L1789.8 696.8L1792.4 696.8L1794.2 696.8L1797.7 697L1798.6 697L1803 697L1808.3 697L1809.1 710.9L1809.1 840.8ZM1818.8 840.8L1818.8 695L1822.4 695L1828.5 696.8L1834.7 696.8L1838.2 696.8L1841.7 696.8L1845.6 696.8L1846.1 696.8L1846.1 840.8ZM1909.9 840.8L1909.9 691.7L1915.7 691.7L1921 691.7L1926.3 691.7L1929.8 691.5L1935.1 686.2L1942.1 686.2L1949.2 680.9L1955.3 680.9L1955.3 840.8ZM2005.5 840.8L2005.5 696.8L2009 700.3L2014.3 700.3L2019.6 700.3L2022.3 700.3L2024.5 700.3L2027.5 700.3L2033.7 696.8L2040.7 696.8L2042.5 696.8L2042.5 840.8ZM2091.3 840.8L2091.3 721.5L2090.9 709.3L2095.3 709.3L2100.6 709.3L2105.9 700.3L2110.3 700.3L2112.6 700.3L2112.6 840.8Z" fill="#4682b4" stroke="#4682b4" stroke-width="9.2" stroke-linejoin="round"/>
<path d="M286.7 708.6h0M290.1 699.9h0M288.7 704.5h0M293.3 680.4h0M292.8 685.2h0M294.8 690.3h0M297.3 685h0M302.1 680h0M301.9 684.9h0M310.7 680.7h0M315 678.5h0M315 682h0M323.5 672.3h0M323.6 677.1h0M322.9 682h0M328 681h0M332.4 671.2h0M332.2 674.7h0M338 680.1h0M339 683.8h0M342.8 680.5h0M341.3 685.5h0M346.8 680.3h0M345.3 685.2h0M353.8 677.2h0M354.1 680.7h0M353.9 685.7h0M358.3 683.4h0M363.4 678.6h0M362.9 683.3h0M362.1 688h0M375.9 687.8h0M376.2 692.4h0M377.3 696.2h0M380.6 691.3h0M381.8 695h0M379.5 698.7h0M384.9 687.8h0M386.3 692.1h0M390 678h0M389.7 682.8h0M388.7 686.4h0M399.7 679.8h0M400.8 683.3h0M399.1 687.4h0M404.4 680.8h0M403.3 685.6h0M409 675.4h0M408.4 680.1h0M409.7 684.2h0M414.3 685h0M414.8 688.9h0M418.4 680.6h0M417.2 685.4h0M423.1 686.3h0M424 690.3h0M428.6 685.7h0M429.7 689.7h0M306.9 635.7h0M307.2 640h0M306 644.9h0M307.4 649.1h0M307.2 653.3h0M305.7 658.1h0M305.6 661.7h0M308 665.7h0M307 669.9h0M307.5 674.5h0M306.4 679.1h0M330.7 633.1h0M329.9 636.7h0M330 641.4h0M331.4 646.1h0M331 649.5h0M332 653.6h0M331.4 658.3h0M330.8 662.7h0M329.9 667.6h0M331.7 671.8h0M330.5 676.7h0M330.3 680.3h0M353.6 668.3h0M354.3 673.2h0M352.6 678.2h0M353.9 682h0M354.1 686h0M367.7 636.6h0M366.5 640.3h0M367.7 644.6h0M368.7 649.4h0M368.8 652.9h0M367.8 657.9h0M367.8 661.6h0M367.1 665.1h0M366.8 669.6h0M367.1 674.1h0M368.8 678.4h0M367.3 683.1h0M368.3 687.2h0M392.4 672.7h0M392.3 676.9h0M392.7 680.4h0M392.8 685h0M410 655.1h0M409 659.5h0M409 663.8h0M411.2 668.4h0M410.4 673.6h0M409.6 678h0M410.1 682.6h0M419.7 667.4h0M419.6 671.1h0M419.3 675.1h0M419.2 680.2h0M418.6 685h0M432 642.8h0M432 647.8h0M432.2 652.9h0M432.3 657.7h0M432.1 661.7h0M430.9 665.2h0M432 669.5h0M432.1 674.4h0M431.6 679.5h0M431.7 683.5h0M432.9 688.1h0M293.7 667.4h0M294 672.5h0M293.9 676.9h0M292.7 681.7h0M294.3 686.2h0M316.6 656.9h0M317.6 660.5h0M317.8 665.4h0M316.8 669.5h0M317.1 673.4h0M316.1 678.1h0M316.7 682.3h0M343 656.9h0M342.8 660.9h0M342.3 665.7h0M342.3 670.5h0M341.8 674.3h0M342.8 678.8h0M343.6 682.8h0M285.3 710.9h0M287.7 717.7h0M288.1 725.2h0M287.5 731h0M288.2 736.5h0M287.8 744.6h0M288 749.8h0M286.5 755.7h0M288 762.3h0M286.2 767.5h0M287.3 772.6h0M287.5 780.9h0M287.5 786h0M285.5 791.6h0M286.7 800.1h0M286.3 806.3h0M285.8 812h0M286.7 818h0M285.6 826.9h0M287 833.9h0M288 839.2h0M439.4 703.8h0M437.8 712.5h0M436.8 718.5h0M439.3 726.3h0M438 733.5h0M437.6 738.8h0M439.3 745.6h0M439.3 752.4h0M437.2 760.6h0M437.5 769.2h0M437.7 776.3h0M437.4 784.4h0M438.7 790.8h0M437.4 796.6h0M438.3 802.2h0M436.9 808.5h0M437 816.1h0M439.1 823.5h0M438.7 830.2h0M438.3 835.8h0M438.7 842.2h0M303.9 843.1h0M315.6 843.7h0M332.2 843.8h0M337.8 842.3h0M350.3 844.1h0M357.7 843.1h0M376.2 843h0M388.4 844h0M402.1 844.4h0M409.6 843.4h0M423.8 842.2h0M305.5 622.5h0M340 619h0M410 639.3h0M430.2 633.1h0M433.4 567.4h0M399.5 198.7h0M399.5 129.6h0m0 4.43h0m0 4.43h0m0 4.43h0m0 4.43h0m0 4.43h0m0 4.43h0m0 4.43h0m0 4.43h0M399.5 209.4h0m0 4.41h0m0 4.41h0m0 4.41h0m0 4.41h0m0 4.41h0m0 4.41h0m0 4.41h0m0 4.41h0m0 4.41h0m0 4.41h0m0 4.41h0m0 4.41h0m0 4.41h0m0 4.41h0m0 4.41h0m0 4.41h0m0 4.41h0m0 4.41h0m0 4.41h0m0 4.41h0m0 4.41h0m0 4.41h0m0 4.41h0m0 4.41h0m0 4.41h0m0 4.41h0m0 4.41h0m0 4.41h0m0 4.41h0m0 4.41h0m0 4.41h0m0 4.41h0m0 4.41h0m0 4.41h0M399.5 371.6h0m0 4.43h0m0 4.43h0m0 4.43h0m0 4.43h0m0 4.43h0m0 4.43h0m0 4.43h0m0 4.43h0m0 4.43h0m0 4.43h0m0 4.43h0M399.5 448h0m0 4.42h0m0 4.42h0m0 4.42h0m0 4.42h0m0 4.42h0m0 4.42h0m0 4.42h0m0 4.42h0m0 4.42h0m0 4.42h0m0 4.42h0m0 4.42h0m0 4.42h0m0 4.42h0m0 4.42h0m0 4.42h0m0 4.42h0m0 4.42h0m0 4.42h0m0 4.42h0m0 4.42h0m0 4.42h0m0 4.42h0m0 4.42h0m0 4.42h0m0 4.42h0m0 4.42h0m0 4.42h0m0 4.42h0m0 4.42h0m0 4.42h0m0 4.42h0m0 4.42h0m0 4.42h0m0 4.42h0m0 4.42h0m0 4.42h0m0 4.42h0m0 4.42h0m0 4.42h0m0 4.42h0m0 4.42h0m0 4.42h0m0 4.42h0m0 4.42h0m0 4.42h0m0 4.42h0m0 4.42h0m0 4.42h0m0 4.42h0m0 4.42h0m0 4.42h0m0 4.42h0m0 4.42h0m0 4.42h0m0 4.42h0m0 4.42h0M597.9 688.4h0M598 692.3h0M599.4 697h0M601.9 693.4h0M600.9 698h0M605.1 688.6h0M604 693.4h0M605.3 698.3h0M609.4 697.1h0M614.7 690.4h0M615.9 694.3h0M614.1 698.2h0M618.2 693.7h0M618.8 698.1h0M622.4 691.2h0M623.3 696.4h0M631.5 706h0M636.4 719.9h0M652.1 691.5h0M651.1 695.3h0M651.7 698.8h0M657.6 693.5h0M657.7 698.3h0M660.8 696.9h0M666.1 690.9h0M664.9 694.7h0M667.3 698.1h0M674.1 696.3h0M679 708.2h0M684.3 703.8h0M683.9 707.5h0M687.6 693.3h0M686.9 697.9h0M690.9 693.1h0M692.2 697.6h0M695.1 695.3h0M700.1 688.5h0M700.3 692.9h0M703.8 688.1h0M703.2 692.5h0M703 697.3h0M711.1 687.7h0M710.9 691.6h0M710 696.3h0M603.8 656h0M604.6 659.6h0M604.6 664.6h0M603.9 669.1h0M604.7 672.6h0M602.5 676.7h0M604.7 681.5h0M604.1 686.5h0M603.2 691.3h0M602.7 696h0M619.6 665.7h0M619.6 669.4h0M618.3 674.5h0M619.9 678.1h0M619.3 682.9h0M619.9 687.4h0M620.2 691.7h0M619.1 695.5h0M663.7 661.3h0M663.5 665.4h0M664.8 669.5h0M663.9 673.9h0M662.7 678.9h0M662.9 682.5h0M664 686h0M663.2 689.4h0M663.4 693h0M664.2 696.9h0M700.7 667.4h0M701.4 672.4h0M699.5 675.8h0M700.7 679.8h0M700.9 684.6h0M701.9 688.3h0M701 692.5h0M713 667.4h0M711.8 672h0M712.7 676.6h0M711.7 680.7h0M713.2 684.8h0M712.7 688.9h0M714.1 693.7h0M595 676.2h0M595.7 681.3h0M594.8 684.8h0M595.4 689.6h0M596.3 694.5h0M653.1 672.7h0M652.7 677.2h0M652.7 682.1h0M652 686.2h0M652.8 690.9h0M652 695.1h0M672.5 674.5h0M673 679.2h0M671.9 682.9h0M672.5 687.1h0M673.1 692h0M672.6 696h0M688.3 681.5h0M687.1 685.5h0M688.8 690.1h0M688.3 693.6h0M688.4 698.7h0M593.6 698.7h0M594.9 707h0M593.2 713h0M595.4 719.3h0M595.4 727.2h0M593.2 734.9h0M595.4 741.3h0M594.4 749.8h0M594 755.5h0M593.8 763h0M596 770.7h0M595.8 779.7h0M594.9 788.6h0M593 795.4h0M593.9 804.2h0M595.3 813.1h0M594.2 821.3h0M594.3 829h0M593.1 837.6h0M712.5 696.8h0M714.2 703.6h0M712.9 710.9h0M712.7 718.4h0M712.8 726.7h0M713.8 732.2h0M712.6 740.7h0M714.5 746.7h0M714.5 752h0M715.4 758.8h0M713.3 764.1h0M713.3 771.1h0M713.2 776.5h0M715.2 781.7h0M713.3 787.2h0M715.3 795.6h0M713.9 803.8h0M713.3 809.2h0M712.7 814.5h0M714.3 819.7h0M714.9 826.1h0M712.6 834.9h0M712.5 841.1h0M594.5 844.2h0M599.8 843.9h0M605.5 843.5h0M610 842.4h0M618.7 842.7h0M624 843.3h0M636.9 842.7h0M644.1 843.8h0M654.3 842.8h0M677.9 844h0M694.5 843.6h0M703.2 844.1h0M710.1 842.4h0M661.9 637.8h0M661.9 654.2h0M618.2 651.9h0M626.3 656h0M651 670.6h0M852.7 675.8h0M856.1 673.7h0M854.6 677.5h0M861 671.9h0M862.3 675.4h0M860.7 680.4h0M865.2 680.5h0M863.7 684.1h0M868.6 677.8h0M869.8 681.7h0M867.4 686.3h0M872.3 679.3h0M871.5 684h0M873.2 688h0M875.9 684.2h0M875.4 688.7h0M884.7 698.1h0M885.5 703.1h0M888 694.1h0M888.2 698.2h0M900.2 682.6h0M898.7 687.3h0M904.9 680.4h0M905.6 685.4h0M908.4 679.3h0M909.4 683.6h0M908.3 687.7h0M912 685.9h0M917 684.4h0M915.6 688.7h0M926.5 677.5h0M927.3 682.5h0M927 687.7h0M936 680.1h0M935.8 685.1h0M945.1 678.3h0M944.6 682.5h0M944.2 687.6h0M948.5 679.4h0M948.4 682.9h0M948.2 686.6h0M954 689h0M954.4 693.2h0M958.2 717.3h0M853.1 642.8h0M852 647.3h0M853.2 651.9h0M852.9 655.8h0M852.1 659.3h0M854 663.4h0M853.4 667.5h0M853.1 672.6h0M853.1 676.7h0M871.6 651.6h0M870.9 655.3h0M872.6 658.8h0M870.8 662.3h0M871.9 666.7h0M871.6 670.3h0M870.8 674.6h0M871.3 679.3h0M871.5 683.9h0M906.8 672.7h0M906.6 677.4h0M906 682.2h0M907.8 685.6h0M938.5 633.1h0M938.1 636.8h0M938.4 640.4h0M937.7 643.8h0M939 647.5h0M939.6 652.4h0M938.3 657.4h0M939.6 662.2h0M938.5 665.8h0M939.1 670.8h0M938 674.5h0M937.7 678.9h0M950 641.9h0M949.7 647h0M950 652h0M951.1 656.8h0M950.5 661.4h0M950.5 665.6h0M949.5 670.8h0M951 675.1h0M949.3 679.2h0M951 682.9h0M951.1 687.3h0M862.8 660.4h0M861.9 665.2h0M861.9 670.2h0M862.9 674.2h0M862.5 678.3h0M924.4 672.7h0M924.4 677.9h0M924.4 682.6h0M924.1 686.6h0M852.7 677.4h0M851.6 682.9h0M853 689.9h0M852.6 697.2h0M852.3 704h0M852 710.1h0M851.8 717.4h0M853.9 724.5h0M853.5 731.5h0M854 739.3h0M853.3 744.5h0M852.8 753.4h0M851.8 758.6h0M851.3 766.5h0M852.6 774.4h0M853.6 780.7h0M851.7 788.1h0M852.3 794.7h0M852.5 800h0M853.4 808.3h0M854.2 817.1h0M851.3 824.6h0M851.8 829.9h0M851.9 838.9h0M958.3 721.5h0M958.4 726.5h0M957.2 732.9h0M958.8 741.4h0M957 748.2h0M959.6 754.9h0M957.7 763.1h0M957.8 772h0M959.5 779.4h0M957.1 784.5h0M958.3 789.7h0M957.8 796h0M957 801.5h0M957.9 810.4h0M959.2 817.4h0M959.9 824.9h0M959.5 831.1h0M959.3 836.2h0M852.7 844.2h0M865 843.8h0M870.7 842.2h0M874.9 844.3h0M899.6 844.7h0M908.3 843.8h0M913.7 844.4h0M922.2 843.9h0M930.2 842.3h0M950.6 843.6h0M956.4 843.4h0M853.4 610.2h0M853.4 632.6h0M879.5 640.1h0M885.7 656h0M891 658.6h0M896.2 657.7h0M908.6 666.6h0M957.9 655.1h0M871.6 597h0m0 4.1h0m0 4.1h0m0 4.1h0m0 4.1h0m0 4.1h0m0 4.1h0M871.6 632.2h0m0 4.58h0m0 4.58h0m0 4.58h0m0 4.58h0m0 4.58h0M926.7 592.6h0m0 4.45h0m0 4.45h0m0 4.45h0m0 4.45h0m0 4.45h0m0 4.45h0m0 4.45h0m0 4.45h0m0 4.45h0m0 4.45h0m0 4.45h0m0 4.45h0m0 4.45h0m0 4.45h0m0 4.45h0m0 4.45h0m0 4.45h0m0 4.45h0M1082.9 689.2h0M1082.9 693.9h0M1081.4 697.4h0M1087.6 693.7h0M1088.9 698.5h0M1091.5 701h0M1092.9 704.7h0M1096.9 699.9h0M1097.3 703.8h0M1100.5 702.1h0M1100.7 706.7h0M1108.2 696.1h0M1108.1 699.7h0M1107.7 703.8h0M1112.1 704.1h0M1122.4 701.1h0M1121.9 706.2h0M1127.9 698.5h0M1126.6 703.3h0M1132.5 701.9h0M1137.4 700.4h0M1138.4 704.5h0M1141.7 702.7h0M1145.2 701.9h0M1145.5 706.7h0M1149.2 700.2h0M1148.9 704h0M1153.9 699.5h0M1153.4 703.7h0M1158 697.2h0M1158.5 700.7h0M1158.2 705.1h0M1162.1 697.5h0M1161.8 701.1h0M1162.2 705.7h0M1166.2 704.4h0M1170.7 695.8h0M1170.7 700h0M1171.8 704.2h0M1085.6 642.8h0M1084.9 646.5h0M1086.3 651h0M1086 655h0M1086 658.8h0M1085.6 662.3h0M1084.6 667.2h0M1086.2 671.5h0M1085.3 676h0M1085.9 681.2h0M1085.3 685.1h0M1086.5 688.9h0M1085 692.4h0M1086.2 695.8h0M1127 683.3h0M1127.2 687.7h0M1126.8 692.8h0M1125.8 697h0M1127.7 701.3h0M1130.6 681.5h0M1131.2 685.2h0M1130.2 690.2h0M1130.8 695.2h0M1129.9 699.8h0M1146.4 667.4h0M1146.2 672.3h0M1147.7 675.9h0M1145.7 681.1h0M1146.7 685.4h0M1147.4 690.4h0M1147.4 694h0M1147.4 697.8h0M1147 702.8h0M1155.2 672.7h0M1155.4 677.6h0M1154.6 682.1h0M1155.5 685.9h0M1155.1 690.5h0M1154.3 695.5h0M1154.2 699.4h0M1156 703.2h0M1162.3 632.2h0M1161.5 635.8h0M1163.5 639.6h0M1161.3 644.4h0M1163.5 647.8h0M1161.2 652h0M1162.3 656.7h0M1163.4 660.4h0M1162 664.2h0M1162.2 667.7h0M1163.2 672.5h0M1162.7 676.7h0M1162.1 681.5h0M1163.5 685.1h0M1163.2 690.2h0M1162.4 693.9h0M1162.5 699.1h0M1162.7 704.1h0M1095.3 681.5h0M1095.1 685.6h0M1095.4 689.6h0M1095.5 693.1h0M1095.6 697.4h0M1095.8 701.2h0M1096.1 705.1h0M1171.1 686.8h0M1172.1 690.7h0M1171.4 694.7h0M1171.3 699.9h0M1172.1 703.5h0M1083.6 696.8h0M1083.8 704.1h0M1082.6 710.8h0M1082.2 716.8h0M1084.3 725.8h0M1082.5 732.9h0M1083.4 741.4h0M1083.6 750h0M1083.2 755.1h0M1082.7 760.7h0M1083.8 769.4h0M1082.4 775.7h0M1083.3 784.3h0M1082.9 791.4h0M1082 796.5h0M1083.4 805h0M1083.1 812.3h0M1081.5 817.7h0M1083.8 823.1h0M1084.4 832h0M1083 840.1h0M1173.7 705.8h0M1172.6 712.4h0M1173.2 721.2h0M1173.8 730.2h0M1175 736.3h0M1173.2 742.1h0M1174 747.8h0M1174.1 755.4h0M1172.4 762.6h0M1172.9 771.3h0M1174.7 780h0M1173.3 788.8h0M1173.1 793.8h0M1174 802.2h0M1173.1 807.4h0M1172.7 814.7h0M1175.2 821.7h0M1174 827.4h0M1173 835.5h0M1082.9 842.7h0M1091.9 842.7h0M1097.7 842.8h0M1102.8 844.4h0M1122.7 844.7h0M1134 843.2h0M1149.5 844.3h0M1164.5 844.4h0M1094.9 641.4h0M1132.6 632.2h0M1132.6 637.5h0M1132.6 661.3h0M1132.7 631.3h0M1132.7 636.6h0M1132.7 660.7h0M1146.4 666.6h0M1142 671.8h0M1167.6 645.4h0M1161.9 632.2h0M1161.3 460h0M1161.3 505h0M1161.3 568.5h0M1161.3 580.6h0M1157.9 612.8h0m0 4.41h0m0 4.41h0m0 4.41h0m0 4.41h0m0 4.41h0m0 4.41h0m0 4.41h0m0 4.41h0m0 4.41h0m0 4.41h0m0 4.41h0m0 4.41h0m0 4.41h0m0 4.41h0m0 4.41h0m0 4.41h0M1161.3 355.8h0m0 4.15h0m0 4.15h0m0 4.15h0m0 4.15h0M1161.3 398.2h0m0 4.15h0m0 4.15h0M1161.3 473.9h0m0 3.3h0M1161.3 487.2h0m0 5h0M1282.9 688.4h0M1282 692.2h0M1291 674h0M1290.9 678h0M1295.8 675.9h0M1296.3 679.8h0M1299.8 679.8h0M1300.2 683.4h0M1304 708.5h0M1304.3 712.8h0M1307.4 703.5h0M1308.2 706.9h0M1307.7 711.1h0M1311.6 689.8h0M1312.5 693.9h0M1321.6 677.7h0M1322.4 681.5h0M1326.3 675.8h0M1326.2 679.5h0M1330.8 677.6h0M1335.5 675.6h0M1335.2 680.1h0M1340.9 670.5h0M1339.4 675.4h0M1340.1 680.2h0M1346.4 671.1h0M1346.2 675.4h0M1347.5 679h0M1349.8 677.7h0M1353.2 676h0M1353.8 681.1h0M1357.3 670.8h0M1358.6 675.6h0M1356.4 679.5h0M1360.6 679.6h0M1290 656.9h0M1289.4 661.7h0M1290.1 665.3h0M1289 670.2h0M1290.6 674.3h0M1290 678.8h0M1296.1 639.3h0M1295.6 643.8h0M1295.9 648.6h0M1296.7 652h0M1295.1 656.8h0M1296.4 661.9h0M1295.7 666.4h0M1295 670.2h0M1296.9 675.3h0M1296.6 678.8h0M1299.3 639.3h0M1298.5 643.9h0M1298.6 648.1h0M1299.7 653.1h0M1300.3 658.2h0M1298.5 662.4h0M1299.3 667.2h0M1300.2 671.3h0M1299.7 675.9h0M1300.6 680.7h0M1325.2 642.8h0M1324.1 647h0M1326.2 651.3h0M1325.2 654.8h0M1324 659h0M1325.8 662.6h0M1326.4 667.4h0M1324.6 670.9h0M1326.4 675.5h0M1324.9 679.9h0M1334 595.2h0M1333.1 598.8h0M1333.4 603.6h0M1333.2 607.1h0M1334.5 612.3h0M1333.4 616.8h0M1334.9 621.8h0M1332.8 626.2h0M1332.9 630.3h0M1333.9 635.2h0M1333.7 640.2h0M1334.2 645.1h0M1334.1 650.1h0M1334.2 655.2h0M1334.7 659.4h0M1334.1 663.8h0M1334.7 668.3h0M1333.6 672.2h0M1334.3 676.1h0M1352.5 607.6h0M1351.8 612.6h0M1352.4 616.7h0M1352.3 620.4h0M1352.9 623.9h0M1351.3 627.3h0M1351.6 631.2h0M1353 635.5h0M1353.1 640.5h0M1353 645.6h0M1352.7 650.2h0M1353.4 654.4h0M1352.8 658.9h0M1353.6 663.9h0M1352.3 668.1h0M1353.4 673.2h0M1351.9 677.5h0M1357.4 607.6h0M1358.2 611.3h0M1356.3 615.3h0M1358.3 620.4h0M1358.4 625.4h0M1357.5 629.2h0M1358.7 633.8h0M1357.8 637.9h0M1357 642.9h0M1358.2 648h0M1357.7 652.7h0M1358.6 656.6h0M1357.3 660.4h0M1357.6 665.5h0M1358.7 670.5h0M1357.6 674.6h0M1356.6 678.7h0M1343.7 617.2h0M1342.5 621.3h0M1342.8 624.8h0M1344.1 629.2h0M1344.7 633.9h0M1343.9 638.1h0M1343.2 643h0M1343 647.7h0M1344 651.1h0M1343.9 655.9h0M1342.5 660h0M1343.8 664.3h0M1344.2 669.3h0M1343.7 672.8h0M1344.1 677.2h0M1281.9 693.3h0M1284.4 701.2h0M1283.1 707.4h0M1283.7 714.5h0M1281.6 721.5h0M1282.4 729.2h0M1282.3 737.6h0M1281.8 744.4h0M1283.7 752.5h0M1283.9 760h0M1283.1 768.8h0M1282.7 776.4h0M1281.7 783.3h0M1283.3 792.2h0M1282.1 798.2h0M1284.1 805.7h0M1282.2 812.2h0M1283.6 821.1h0M1283.9 829.1h0M1284.4 834.5h0M1364.5 693.3h0M1363 700.2h0M1362.9 706h0M1363.5 711h0M1364.3 719h0M1364.7 724.8h0M1363.6 730.6h0M1365.3 735.9h0M1362.8 742.7h0M1363.7 749.1h0M1364.4 755.3h0M1363.2 762.4h0M1364.6 768.9h0M1364.9 775.3h0M1364.4 781.9h0M1364.7 787.3h0M1364.7 795.3h0M1362.5 801.1h0M1363.9 808.9h0M1363.4 815.9h0M1363.9 823.3h0M1363.3 830.3h0M1364 836.2h0M1299.5 843.7h0M1317.4 843h0M1325.8 843.9h0M1332 844h0M1345.3 843.3h0M1352.5 843.6h0M1358.8 844.4h0M1357.5 95.8h0M1357.5 502.1h0M1299.3 617.2h0m0 4.41h0m0 4.41h0m0 4.41h0m0 4.41h0m0 4.41h0m0 4.41h0m0 4.41h0m0 4.41h0m0 4.41h0m0 4.41h0m0 4.41h0m0 4.41h0m0 4.41h0m0 4.41h0m0 4.41h0M1324.3 642.8h0m0 4.5h0m0 4.5h0m0 4.5h0m0 4.5h0m0 4.5h0m0 4.5h0m0 4.5h0m0 4.5h0m0 4.5h0M1336.6 589.9h0m0 4.45h0m0 4.45h0m0 4.45h0m0 4.45h0m0 4.45h0m0 4.45h0m0 4.45h0m0 4.45h0m0 4.45h0m0 4.45h0m0 4.45h0m0 4.45h0m0 4.45h0m0 4.45h0m0 4.45h0m0 4.45h0m0 4.45h0m0 4.45h0m0 4.45h0m0 4.45h0m0 4.45h0M1357.5 110.8h0m0 4.57h0m0 4.57h0m0 4.57h0m0 4.57h0m0 4.57h0m0 4.57h0M1357.5 458.9h0m0 4.38h0m0 4.38h0m0 4.38h0m0 4.38h0M1357.5 518.8h0m0 5.4h0m0 5.4h0M1357.5 542h0m0 4.39h0m0 4.39h0m0 4.39h0m0 4.39h0m0 4.39h0m0 4.39h0m0 4.39h0m0 4.39h0m0 4.39h0m0 4.39h0m0 4.39h0m0 4.39h0m0 4.39h0m0 4.39h0m0 4.39h0m0 4.39h0m0 4.39h0m0 4.39h0m0 4.39h0m0 4.39h0m0 4.39h0m0 4.39h0m0 4.39h0m0 4.39h0m0 4.39h0m0 4.39h0m0 4.39h0m0 4.39h0m0 4.39h0m0 4.39h0m0 4.39h0m0 4.39h0m0 4.39h0m0 4.39h0m0 4.39h0m0 4.39h0M1470.6 685.5h0M1470 689.7h0M1471.9 693.4h0M1481.7 693.1h0M1485.3 689h0M1488.9 688.9h0M1488.8 692.9h0M1493.2 689.9h0M1493.8 694h0M1497.4 688.2h0M1496.5 693.2h0M1501.6 702.7h0M1505.8 700.6h0M1505.9 704.7h0M1516.1 688.9h0M1516.9 692.8h0M1521.6 691.7h0M1525.3 696.3h0M1523.8 700.1h0M1529.3 697h0M1527.8 701.1h0M1530.4 705.2h0M1534.7 685.1h0M1535.2 688.6h0M1533.5 692.4h0M1539.4 691.3h0M1538.3 695.9h0M1542.6 689.6h0M1542 693h0M1548.1 686h0M1549.6 690h0M1489.1 651.6h0M1488.1 656h0M1489.4 659.8h0M1490.3 664.3h0M1489 667.9h0M1489.2 672.6h0M1489.2 676.4h0M1489.7 680.1h0M1490.2 685.2h0M1489.9 689.5h0M1489.3 693.5h0M1516.4 662.1h0M1516.2 667.1h0M1516.7 671.5h0M1516 675.6h0M1515.9 679.5h0M1516.1 683.3h0M1515.1 687.7h0M1516.4 692.3h0M1540.1 635.7h0M1539.1 640.1h0M1539.8 644.2h0M1539.6 648.4h0M1540.7 652h0M1539.9 656.3h0M1540.8 661.4h0M1540.3 665.7h0M1539 670.1h0M1540.6 675h0M1539.5 678.7h0M1538.9 683.1h0M1539.7 686.5h0M1539.2 690.7h0M1477.6 678h0M1477 682.2h0M1478.1 686.7h0M1478.3 690.8h0M1549.8 644.5h0M1550.7 649h0M1549.4 653.9h0M1550.9 658.6h0M1550.6 662.5h0M1548.9 666.6h0M1549 671.3h0M1550 675.9h0M1550.6 680.7h0M1550 685.8h0M1550.9 690.6h0M1470.4 721.5h0M1471.2 729.6h0M1470.1 736.6h0M1469.5 745.6h0M1471.8 751.4h0M1471.7 758.4h0M1470.8 766.4h0M1470.5 775.1h0M1469.4 783.6h0M1471.4 788.9h0M1471 796.4h0M1470.4 805h0M1471.7 811.6h0M1470.8 819.4h0M1470.9 825.4h0M1470.1 832.1h0M1471.5 837.6h0M1552.6 691.5h0M1553.9 696.7h0M1554.7 703.3h0M1552.6 710.6h0M1554.4 718.3h0M1552.2 723.8h0M1554.1 732.1h0M1552.7 737.7h0M1552.8 744.1h0M1554.7 751h0M1554.4 759.8h0M1553.1 767.8h0M1553.8 775h0M1553.4 780.3h0M1551.8 788.4h0M1552.2 794.3h0M1554 801.9h0M1554.1 810.8h0M1554.3 818.2h0M1554.7 824.7h0M1552 832.7h0M1552.5 838h0M1482 842.3h0M1488.3 843.4h0M1509.8 843.2h0M1515.7 843.7h0M1527.7 843.8h0M1533.9 842.5h0M1539.2 843.4h0M1545.6 844.3h0M1550.6 843.1h0M1470.9 646.7h0M1489.1 650.7h0M1513.7 648.9h0M1546.3 591.7h0M1545.8 625.2h0M1550.7 621.6h0M1496.1 679.8h0M1470.5 646.7h0M1539.8 597.9h0m0 4.4h0m0 4.4h0m0 4.4h0M1655 690.9h0M1656.2 695.5h0M1654.1 699.8h0M1659.9 698.3h0M1663.9 689.7h0M1663 693.6h0M1664.3 698.1h0M1673.1 686.8h0M1674.1 690.8h0M1672.8 694.2h0M1676.7 694.9h0M1681.2 697.9h0M1681.8 702.3h0M1691.5 699.2h0M1691.4 703.2h0M1696.5 694.9h0M1695.7 698.6h0M1696.3 702.2h0M1704.7 697h0M1704.4 701.9h0M1664.3 678h0M1664 683h0M1663.3 688.1h0M1663.6 692.5h0M1664.2 696.5h0M1675.7 655.1h0M1675.4 659.8h0M1676.9 664.4h0M1676.4 668h0M1675.4 672.9h0M1675.6 676.8h0M1676.9 680.9h0M1676.8 684.5h0M1676.6 688h0M1674.6 691.5h0M1676.2 695.4h0M1687.2 681.5h0M1686.2 686.5h0M1688.2 690.2h0M1688.2 694.3h0M1686.3 698.6h0M1687.5 703.8h0M1697.8 686.8h0M1697.8 691.5h0M1697.5 695.7h0M1697.3 699.7h0M1708.3 688.6h0M1708 692.9h0M1708.3 698h0M1707.2 702.8h0M1653.7 700.3h0M1655.5 707.5h0M1656 715.2h0M1656.1 723.8h0M1655.8 731.8h0M1653.8 737.5h0M1655.2 743.2h0M1653.5 748.3h0M1655.3 756.7h0M1654.2 765.2h0M1653.6 770.8h0M1654.2 777.7h0M1655 785.9h0M1655.5 792.9h0M1655.7 798.7h0M1653.7 807.2h0M1655.1 816.1h0M1653.5 823.5h0M1653.5 832.3h0M1655.1 839.6h0M1708 702.9h0M1709.7 710.4h0M1709.7 718.7h0M1708.1 727.5h0M1707.3 733.2h0M1708.1 738.5h0M1706.9 747.3h0M1707.3 753.6h0M1708 761.5h0M1707.9 770h0M1708.7 777.9h0M1709.6 786.4h0M1708 793.8h0M1709.2 799.2h0M1707.5 805.7h0M1708.8 812.6h0M1707.1 818h0M1708.6 824.3h0M1706.9 832.7h0M1709.6 841.7h0M1655 844.5h0M1659 843.4h0M1667.2 842.5h0M1682.7 842.5h0M1676.3 618.1h0M1676.3 646.3h0M1655.5 656h0M1654.6 665.7h0M1669.6 652.5h0M1688.1 656.5h0M1699.5 632.2h0M1699.5 640.5h0M1703.4 672.4h0M1659 664.8h0M1676.3 583.8h0m0 4.55h0m0 4.55h0m0 4.55h0m0 4.55h0m0 4.55h0m0 4.55h0M1794.6 686.6h0M1795 690.4h0M1793.4 694.9h0M1798.3 695.4h0M1803.4 687.8h0M1804.6 691.7h0M1803 696.3h0M1807 695.6h0M1789.8 632.2h0M1790.8 637.3h0M1790.3 641.6h0M1790.9 646.6h0M1790.5 650.1h0M1790 653.8h0M1789 658.4h0M1790.7 662.4h0M1789.5 667.5h0M1790.8 670.9h0M1788.6 675.3h0M1790 678.7h0M1789.9 683.2h0M1789.3 686.9h0M1789.5 690.6h0M1789 694.9h0M1798.6 674.5h0M1798.8 678.1h0M1797.5 682.6h0M1797.9 687.8h0M1797.7 692.9h0M1791.1 696.8h0M1791.1 703h0M1790.8 708.3h0M1790.6 715.6h0M1788.5 722.8h0M1789.3 728.3h0M1789.8 734.4h0M1788.4 741.1h0M1788.4 747.2h0M1790.3 752.7h0M1790 760.8h0M1788.9 767.5h0M1789.9 776.1h0M1788.5 783.1h0M1789.8 791.1h0M1788.7 799h0M1789.4 807.7h0M1789.3 813.6h0M1790.3 820.2h0M1790.7 826.3h0M1788.9 831.7h0M1788.8 838.1h0M1810 710.9h0M1809.3 718.2h0M1810.6 726.5h0M1808.3 732.5h0M1810.4 741.1h0M1809.4 747h0M1809.3 753.6h0M1810.5 760.8h0M1810.2 766.5h0M1807.6 774.8h0M1809.6 782.1h0M1808.2 787.5h0M1808.7 795.2h0M1809 800.6h0M1808.6 806.6h0M1808.8 813.3h0M1810.4 818.6h0M1809.7 827.1h0M1809.2 835.6h0M1789.8 844.2h0M1791.5 560h0M1791.5 602.8h0M1791.5 619h0M1807.9 667.4h0M1808.3 678.9h0M1818.8 686.7h0M1817.3 690.4h0M1819 693.8h0M1822.9 688.4h0M1823.9 692.7h0M1828 693.2h0M1832.4 687.9h0M1832.8 692.3h0M1832 696.1h0M1835.8 690.6h0M1835.6 694.2h0M1840.2 690.6h0M1839.3 695.2h0M1822.4 671.8h0M1821.6 675.2h0M1822.8 679.1h0M1822.1 682.6h0M1821.8 687.4h0M1822.1 692.6h0M1841.7 658.6h0M1842.7 662.3h0M1841.3 666.9h0M1840.4 670.5h0M1842.9 675.6h0M1843 680h0M1842.3 683.5h0M1840.4 687.1h0M1842.3 691.5h0M1842.6 696.6h0M1845.6 658.6h0M1845.1 662.5h0M1845.5 665.9h0M1845.5 669.9h0M1846.4 674.3h0M1845.6 678.5h0M1846.8 682.5h0M1844.9 687.3h0M1844.5 692.1h0M1844.9 695.9h0M1817.7 695h0M1819.4 702.7h0M1819.5 709.5h0M1818.5 718.3h0M1818 724h0M1819.9 729.9h0M1820 737.9h0M1817.5 746.9h0M1818.5 754.2h0M1818.1 761.6h0M1817.5 768.7h0M1817.8 773.9h0M1818 780.9h0M1818.8 789.9h0M1818.6 798.8h0M1818.4 806.5h0M1818.5 814.7h0M1819.6 822h0M1820.1 827.8h0M1819.2 836.4h0M1846.7 696.8h0M1847.4 704.7h0M1845.6 710h0M1844.9 716.1h0M1845.9 721.7h0M1844.7 726.7h0M1844.9 735.4h0M1846.7 743.1h0M1846.9 749.5h0M1846.3 755.7h0M1846.4 763.8h0M1847.2 769.2h0M1845.7 775.1h0M1845.6 782.9h0M1846.6 789.7h0M1846.1 798.4h0M1846.6 805.9h0M1847.1 814.6h0M1845.4 821h0M1846.5 828.6h0M1846.2 834.5h0M1846 841.7h0M1818.8 842.8h0M1824.2 843.3h0M1830.2 844.1h0M1843.8 844.4h0M1830.3 657.2h0M1822.4 671h0M1845.5 532.7h0m0 3.77h0m0 3.77h0m0 3.77h0M1845.5 573.3h0m0 4.34h0m0 4.34h0m0 4.34h0m0 4.34h0m0 4.34h0M1845.5 624.3h0m0 4.45h0m0 4.45h0m0 4.45h0m0 4.45h0m0 4.45h0m0 4.45h0m0 4.45h0m0 4.45h0m0 4.45h0m0 4.45h0m0 4.45h0m0 4.45h0m0 4.45h0m0 4.45h0m0 4.45h0m0 4.45h0m0 4.45h0M1909.9 687.2h0M1909.4 690.8h0M1914.6 686.4h0M1914.7 691.4h0M1918.1 690.1h0M1931.9 678.5h0M1932.6 683.2h0M1930.5 687.8h0M1936.4 683.3h0M1941.1 681.4h0M1942.5 685.9h0M1945.4 679.4h0M1945.9 684h0M1950.8 675.9h0M1950.9 681.1h0M1954.2 678.4h0M1909.9 672.7h0M1911 676.6h0M1911 680.1h0M1910.8 684.2h0M1911.2 688.8h0M1929.8 667.4h0M1929.8 671.2h0M1931 676.2h0M1928.8 680.9h0M1928.8 686h0M1930.3 690.6h0M1942.1 663.9h0M1943.3 668.2h0M1941.6 673.3h0M1941.4 678h0M1942.6 682.1h0M1955.3 667.4h0M1954.8 671.8h0M1954.6 676h0M1954.1 680.6h0M1910.6 691.7h0M1909.9 699.6h0M1909 704.9h0M1909.8 710.7h0M1910.9 719.4h0M1911.3 725.6h0M1909.9 734h0M1909.2 742.1h0M1909.5 750.7h0M1910.5 758.7h0M1909.1 766.9h0M1911.2 772.7h0M1908.8 781.5h0M1911.2 789.4h0M1909.7 795.8h0M1911.4 802.9h0M1908.7 811.7h0M1909.1 818.3h0M1910 826.5h0M1910.4 835.3h0M1909.2 841.6h0M1954.3 680.9h0M1956.6 688.8h0M1953.9 695.2h0M1954.9 702.8h0M1955.6 711.8h0M1956.3 719.1h0M1956.3 725.8h0M1954.6 734.3h0M1955.5 740.7h0M1956.7 749h0M1955.4 754.7h0M1956.2 762.5h0M1954.7 769.6h0M1954.1 776.5h0M1955.3 781.6h0M1955.8 790.4h0M1954.5 798.1h0M1956.3 804h0M1956.5 811.9h0M1955.7 818.1h0M1954.2 825.8h0M1955.2 834.3h0M1954.3 842.2h0M1927.5 842.8h0M1931.7 843.2h0M1936.3 844.4h0M1944.6 842.7h0M1953.2 842.8h0M2005.5 692.5h0M2005.2 696.6h0M2009.8 695.4h0M2010.8 699.9h0M2015.1 695h0M2015.3 700.1h0M2024.1 696h0M2022.9 700.1h0M2028.3 695h0M2028 698.8h0M2033.1 695.4h0M2042.2 687h0M2043 692h0M2043.1 696.5h0M2009 678h0M2009.3 681.5h0M2010.2 686.4h0M2008.9 690.4h0M2007.9 693.9h0M2009.4 698.6h0M2022.3 658.6h0M2023.3 663.6h0M2022.5 667.9h0M2021.9 671.6h0M2022.9 676.8h0M2021.1 681.9h0M2022.7 686.1h0M2022.3 691.2h0M2022.6 695.1h0M2021.7 699.5h0M2024.5 658.6h0M2024.2 662.9h0M2024.5 666.4h0M2023.7 671h0M2024.8 675.2h0M2023.7 679.8h0M2023.5 684.2h0M2025.6 688.6h0M2023.3 692.9h0M2023.7 696.9h0M2040.7 668.3h0M2040.9 673.4h0M2039.8 677.7h0M2041.3 681.5h0M2040.9 685.9h0M2040.7 690.1h0M2039.5 694.5h0M2006.6 696.8h0M2005.8 702.8h0M2005.9 711.4h0M2006.7 718.9h0M2007 724.5h0M2005.5 730h0M2005.1 738.1h0M2005.8 743.5h0M2005.3 750.8h0M2006.3 758.6h0M2005.5 763.7h0M2004.2 771.5h0M2004.6 777.1h0M2006.1 785.5h0M2006.9 794.2h0M2005.4 803.1h0M2004.9 809.1h0M2005 814.5h0M2006.2 822.7h0M2004.9 828.2h0M2006.1 835.5h0M2005.4 841.5h0M2041.7 696.8h0M2043.9 704.9h0M2043.4 712h0M2042.7 719.8h0M2041.5 727.7h0M2042.1 736.4h0M2043.8 741.9h0M2042.2 749.8h0M2042.3 756.5h0M2043.1 763.2h0M2041.7 770.5h0M2041.4 778.9h0M2043.7 787.9h0M2042.1 793.4h0M2041.1 798.9h0M2043 806.5h0M2041.1 815.4h0M2041.6 821.1h0M2043.4 828.9h0M2042.4 835.9h0M2042.4 842.1h0M2005.5 843.8h0M2011.1 842.4h0M2026 843h0M2033.3 844.4h0M2038.3 843.5h0M2013.8 655.1h0M2024.7 531.2h0M2024.7 551h0M2024.7 606.4h0m0 4.44h0m0 4.44h0m0 4.44h0m0 4.44h0m0 4.44h0m0 4.44h0m0 4.44h0M2024.7 653h0m0 4.27h0m0 4.27h0m0 4.27h0m0 4.27h0m0 4.27h0m0 4.27h0m0 4.27h0m0 4.27h0m0 4.27h0m0 4.27h0m0 4.27h0M2091.3 699.1h0M2092.1 702.7h0M2090.6 706.4h0M2095.8 702.3h0M2096.3 706.1h0M2100.1 706.1h0M2098.6 709.8h0M2104.9 691.4h0M2106.3 695.7h0M2105.3 700.6h0M2110.4 691h0M2109.4 695.4h0M2110.1 700.3h0M2100.6 683.3h0M2100.2 686.7h0M2100.8 691.6h0M2100.8 696.6h0M2101 700.7h0M2099.4 704.1h0M2100.8 707.9h0M2110.3 681.5h0M2109.8 686h0M2109.4 690h0M2111.2 694.9h0M2110.8 699h0M2090.9 692.1h0M2091.1 696.4h0M2089.9 700.8h0M2091.5 705.3h0M2090.5 721.5h0M2091.1 728.2h0M2092.6 733.3h0M2092.6 739.3h0M2090.7 744.8h0M2091.2 753.5h0M2089.9 761.6h0M2091.6 767.8h0M2091.4 776.3h0M2092.5 783.6h0M2091 792.1h0M2091.9 799.7h0M2090.5 806.8h0M2089.9 812.5h0M2091.1 817.8h0M2092.5 823.6h0M2090 831.4h0M2092.7 839.4h0M2113 700.3h0M2111.7 708.1h0M2112.7 715.9h0M2113.4 723.9h0M2113.7 731.1h0M2113.4 738.1h0M2113.2 743.5h0M2111.9 752.2h0M2114.1 761.2h0M2112.8 770h0M2112.4 775.8h0M2113.4 784.1h0M2113.1 791.1h0M2113.4 799.7h0M2113.8 807.2h0M2113.7 813.8h0M2112.8 821.5h0M2112.6 828.4h0M2113.5 834.4h0M2113 842h0M2091.3 843.7h0M2101.9 843.5h0M2107.8 842.9h0M2102.4 601h0M2090.9 643.7h0M2090.1 677.1h0M2095.3 676.2h0M2110.3 661.3h0M2110.3 669.2h0M2095.7 574.1h0m0 4.31h0m0 4.31h0m0 4.31h0m0 4.31h0m0 4.31h0m0 4.31h0m0 4.31h0m0 4.31h0m0 4.31h0m0 4.31h0m0 4.31h0m0 4.31h0m0 4.31h0m0 4.31h0m0 4.31h0m0 4.31h0m0 4.31h0m0 4.31h0" fill="none" stroke="#4682b4" stroke-width="9.8" stroke-linecap="round"/>
<path d="M112.2 502.8H2117.2" stroke="#e8181f" stroke-width="2.45" stroke-dasharray="7.5 7.53" stroke-dashoffset="-0.35" fill="none"/>
<path d="M96.6 95.7H112.2V858.9M96.6 844.4H2116.2V858.9M96.6 759H112.2M96.6 673.6H112.2M96.6 588.2H112.2M96.6 502.8H112.2M96.6 417.4H112.2M96.6 332H112.2M96.6 246.6H112.2M96.6 161.2H112.2M429.4 844.4V858.9M745.8 844.4V858.9M1062.4 844.4V858.9M1379.2 844.4V858.9M1696.7 844.4V858.9M2013.4 844.4V858.9" stroke="#888888" stroke-width="2.2" fill="none"/>
<g class="tk" text-anchor="end" transform="scale(0.965 1)">
<text x="92.8" y="854.2">0</text>
<text x="92.8" y="768.8">2</text>
<text x="92.8" y="683.4">4</text>
<text x="92.8" y="598">6</text>
<text x="92.8" y="512.6">8</text>
<text x="92.8" y="427.2">10</text>
<text x="92.8" y="341.8">12</text>
<text x="92.8" y="256.4">14</text>
<text x="92.8" y="171">16</text>
</g><g class="tk xl" text-anchor="middle" transform="scale(0.98 1)">
<text x="204" y="895.5">1</text>
<text x="378.8" y="895.5">2</text>
<text x="535.4" y="895.5">3</text>
<text x="673.7" y="895.5">4</text>
<text x="805.6" y="895.5">5</text>
<text x="930.8" y="895.5">6</text>
<text x="1047.3" y="895.5">7</text>
<text x="1155.8" y="895.5">8</text>
<text x="1257.9" y="895.5">9</text>
<text x="1355.3" y="895.5">10</text>
<text x="1452.1" y="895.5">11</text>
<text x="1547.9" y="895.5">12</text>
<text x="1636.4" y="895.5">13</text>
<text x="1715.5" y="895.5">14</text>
<text x="1789.9" y="895.5">15</text>
<text x="1858.4" y="895.5">16</text>
<text x="1919.3" y="895.5">17</text>
<text x="1975.6" y="895.5">18</text>
<text x="2024.6" y="895.5">19</text>
<text x="2067.4" y="895.5">20</text>
<text x="2107.1" y="895.5">21</text>
<text x="2141.8" y="895.5">22</text>
</g>
<text class="at" text-anchor="middle" x="1114" y="932.6">Chromosome</text>
<text class="at" style="font-size:29.8px" text-anchor="middle" transform="translate(25 471) rotate(-90)">-log10 P-value</text>
<g class="an" text-anchor="middle" transform="scale(0.952 1)">
<text x="133.2" y="313.6" clip-path="url(#k844_0)">1</text>
<text x="420.8" y="112.8">4</text>
<text x="1222.7" y="330">9</text>
<text x="1433.6" y="190.1" clip-path="url(#k844_3)">10</text>
</g>
<defs><clipPath id="k844_0"><path d="M117.51 271.6H148.87V308.01H117.51ZM131.17 307.01H137.23V316.6H131.17Z"/></clipPath><clipPath id="k844_3"><path d="M1406.26 148.1H1460.97V184.51H1406.26ZM1419.91 183.51H1425.97V193.1H1419.91ZM1433.61 183.51H1460.97V193.1H1433.61Z"/></clipPath></defs>
<text class="ti" text-anchor="middle" style="letter-spacing:0px" transform="scale(0.9867 1)" x="1112.2" y="52.7">Left ventricular end-systolic volume (LVESV)</text>
<text class="le" style="font-size:75.5px" transform="scale(1 1)" x="15.3" y="56.2">A</text>
<g filter="url(#bl)">
<path d="M1712.3 412L2017.9 295.9" stroke="#e8414a" stroke-width="1.4" stroke-dasharray="2.5 2.9" fill="none"/>
<path d="M1712.3 412L1758.7 393.2L1787.1 381.4L1804.9 373.6L1826.2 363.8L1851.3 351.7L1865.4 344.4L1875.2 336.6L1881 330.7L1887.9 326.8L1889.8 321.9L1892.8 318L1900.6 312.1L1906.5 306.2L1910.4 303.3L1912.4 294.5L1916.3 286.7L1920.2 276.9L1922.1 269L1924.1 261.2L1928 253.4L1930.6 248.5" stroke="#6b6b6b" stroke-opacity="0.9" stroke-width="3.7" stroke-linecap="round" stroke-linejoin="round" fill="none"/>
<path d="M1930.6 240.7L1931.9 231.8L1935.9 224L1938.8 216.2L1941.7 206.4L1945.6 200.5L1949.6 194.6L1953.5 185.8L1957.4 178L1960.3 171.1L1965.2 165.3L1970.1 161.4L1973.1 153.5L1976 146.1" stroke="#6b6b6b" stroke-opacity="0.9" stroke-width="3.7" stroke-linecap="round" stroke-linejoin="round" fill="none"/>
<path d="M1977.4 131.6L1982.8 125.1L1986.8 120.2L1992.6 116.3L1998.5 113.4" stroke="#6b6b6b" stroke-opacity="0.9" stroke-width="3.7" stroke-linecap="round" stroke-linejoin="round" fill="none"/>
<path d="M2002.4 110.5h0M2006.3 110.1h0M2012.2 110.1h0M2020.6 103.8h0" stroke="#6b6b6b" stroke-width="3.5" stroke-linecap="round" fill="none"/>
<path d="M1706.8 100.3H1712.3V412M1706.8 412H2023.4V417.5M1706.8 376.8H1712.3M1706.8 341.6H1712.3M1706.8 306.5H1712.3M1706.8 271.3H1712.3M1706.8 236.1H1712.3M1706.8 200.9H1712.3M1706.8 165.7H1712.3M1706.8 130.6H1712.3M1712.3 412V417.5M1758.6 412V417.5M1804.9 412V417.5M1851.2 412V417.5M1897.5 412V417.5M1943.8 412V417.5M1990.1 412V417.5" stroke="#858585" stroke-width="1.5" fill="none"/>
<g class="qt" text-anchor="end">
<text x="1703" y="416.1">0</text>
<text x="1703" y="380.9">2</text>
<text x="1703" y="345.7">4</text>
<text x="1703" y="310.6">6</text>
<text x="1703" y="275.4">8</text>
<text x="1703" y="240.2">10</text>
<text x="1703" y="205">12</text>
<text x="1703" y="169.8">14</text>
<text x="1703" y="134.7">16</text>
</g><g class="qt" text-anchor="middle">
<text x="1712.3" y="430.3">0</text>
<text x="1758.6" y="430.3">1</text>
<text x="1804.9" y="430.3">2</text>
<text x="1851.2" y="430.3">3</text>
<text x="1897.5" y="430.3">4</text>
<text x="1943.8" y="430.3">5</text>
<text x="1990.1" y="430.3">6</text>
</g>
<text class="qa" text-anchor="middle" x="1868" y="449.2">Expected -log10 P-value</text>
<text class="qa" text-anchor="middle" transform="translate(1675.5 256.3) rotate(-90)">Observed -log10 P-value</text>
</g>
<path d="M113.2 1794.9L113.2 1644.2L126.4 1674.3L128.2 1674.3L131.7 1681.7L135.2 1680L137.9 1674.3L142.3 1674.3L143.1 1674.3L144 1674.3L151.1 1674.3L154.6 1674.3L158.1 1674.3L163.4 1674.3L167.8 1674.3L169.6 1674.3L173.1 1672.4L174.9 1673.3L175.7 1673.3L181 1673.3L186.3 1673.3L188.1 1673.3L188.1 1794.9ZM202.5 1794.9L202.5 1694.1L205.7 1690.6L206.6 1686.7L210.1 1686.7L214.5 1686.7L219.8 1686.7L223.3 1686.7L228.6 1686.7L233.8 1686.7L239.1 1681.2L244.4 1681.2L247.9 1681.2L253.2 1679.4L255 1679.4L257.6 1686.7L262 1686.7L264.7 1686.7L266.4 1686.7L269.1 1686.7L270.5 1701.1L270.5 1794.9ZM456.2 1794.9L456.2 1640.7L457.6 1640.7L463.8 1670.8L466.4 1670.8L468.2 1670.8L470.8 1670.8L474.3 1674.7L477.9 1670.8L481.4 1670.8L485.8 1670.8L491.1 1661.8L494.6 1662.7L499.9 1670.8L501.6 1670.8L506 1670.8L507.8 1670.8L512.2 1671.2L514 1670.8L516.6 1670.8L519.3 1670.8L521 1670.8L526.3 1670.8L531.6 1670.8L536.9 1670.8L540.4 1670.8L543.9 1670.8L549.2 1670.8L552.7 1670.8L555.7 1670.8L558 1670.8L563.3 1670.8L566.8 1671.2L570.3 1670.8L575.6 1670.8L580 1670.8L580 1670.8L580 1794.9ZM726.5 1794.9L726.5 1677.7L728.8 1677.7L735.9 1677.7L741.2 1675.9L745.6 1679.6L749.6 1679.6L755.3 1679.6L758.8 1679.6L762.6 1679.6L767.6 1679.6L769.3 1679.6L774.6 1679.6L779.9 1680L785.2 1679.6L788.7 1679.6L794 1679.6L780 1679.6L787 1679.6L794.1 1679.6L795.9 1679.6L797.6 1680L802.9 1679.6L806.4 1679.6L811.7 1679.6L813.5 1679.6L815.2 1679.6L818.7 1679.6L821.4 1679.6L824 1679.6L827.6 1679.6L832 1679.6L832.8 1679.6L836.4 1679.6L840.8 1679.6L840.8 1679.6L840.8 1794.9ZM972 1794.9L972 1674.3L979 1674.3L984.3 1674.3L989.6 1674.3L994.9 1668.9L998.4 1665.3L1002.8 1674.3L1007.2 1674.3L1009 1674.3L1012.5 1676.5L1016 1674.3L1019.5 1674.3L1022.2 1674.3L1023.9 1674.3L1026.6 1674.3L1031.8 1674.3L1034.5 1674.3L1037.1 1674.3L1042.4 1674.3L1045.9 1674.3L1049.5 1674.3L1053 1674.3L1060 1674.3L1065.3 1674.3L1069.7 1672.4L1071.5 1672.4L1071.5 1794.9ZM1185.5 1794.9L1185.5 1709.9L1186 1672.6L1190.4 1672.6L1195.7 1672.6L1199.3 1672.6L1204.5 1672.6L1208.1 1672.6L1209.8 1672.6L1211.6 1701.1L1211.6 1794.9ZM1227.8 1794.9L1227.8 1683.5L1229.2 1669.1L1232.7 1669.1L1238 1669.1L1243.3 1667.1L1248.6 1668.9L1253.8 1668.9L1256.5 1668.9L1259.1 1668.9L1264.4 1668.9L1269.7 1668.9L1272.3 1665.3L1272.3 1794.9ZM1376.6 1794.9L1376.6 1658.3L1380.7 1658.3L1384.7 1672.4L1389.5 1672.4L1393 1672.4L1393.9 1672.4L1396.5 1672.6L1403.6 1672.6L1407.1 1680L1410.6 1690.6L1415.9 1687L1418.5 1672.6L1420.3 1672.6L1422.9 1672.6L1428.2 1672.6L1431.7 1672.6L1437 1672.6L1439.7 1672.6L1444.1 1672.6L1449.3 1672.4L1454.6 1672.4L1456.4 1672.4L1460.8 1667.1L1460.8 1794.9ZM1575.7 1794.9L1575.7 1690.6L1577.1 1684.9L1581.5 1684.9L1586.8 1684.9L1590.3 1683L1595.6 1683L1597.4 1683L1600 1677.7L1602.7 1677.7L1606.2 1677.7L1613.2 1677.7L1620.3 1677.7L1623.8 1684.9L1629.1 1684.9L1634.4 1684.9L1635.2 1684.9L1635.2 1794.9ZM1730.7 1794.9L1730.7 1718.7L1732.1 1676.5L1736.5 1674.3L1740 1674.3L1745.3 1674.3L1748.8 1674.3L1752.4 1674.2L1754.1 1674.2L1757.6 1674.2L1761.2 1674.2L1763.8 1674.2L1771.4 1674.3L1777 1674.3L1776.6 1674.3L1781 1674.3L1781.9 1674.3L1781.9 1794.9ZM1852.3 1794.9L1852.3 1667.3L1854.1 1667.3L1855.8 1667.3L1861.1 1667.3L1864.6 1685.3L1868.1 1678.2L1873.4 1667.3L1877 1667.3L1880.5 1667.3L1884 1667.3L1888.4 1667.3L1891.9 1667.3L1896.3 1667.3L1899.8 1667.3L1901.6 1680L1901.6 1794.9ZM1963.3 1794.9L1963.3 1663.8L1968.5 1663.8L1975.6 1663.8L1982.6 1654.8L1987.9 1661.8L1992 1661.8L1996.7 1661.8L1998.5 1661.8L1998.5 1794.9ZM2053.4 1794.9L2053.4 1701.1L2053.1 1695.5L2056.6 1695.5L2061.9 1695.5L2068.9 1695.5L2073.3 1695.5L2075.1 1695.5L2076.8 1695.5L2076.8 1794.9Z" fill="#0000ff" stroke="#0000ff" stroke-width="9.2" stroke-linejoin="round"/>
<path d="M117.8 1649.4h0M118.9 1653.7h0M122.4 1660.3h0M120.9 1663.9h0M135.9 1672.1h0M135.4 1676.8h0M144.2 1670.8h0M143.2 1674.7h0M149.4 1665.8h0M148.9 1669.4h0M149.5 1673.3h0M159.4 1664.5h0M160.3 1668.9h0M158.7 1673.3h0M163.9 1667.8h0M164.9 1672.7h0M168.4 1668.3h0M169.3 1673h0M171.9 1667.2h0M172.9 1670.7h0M176.2 1667.9h0M175.6 1672.4h0M181.4 1666.2h0M180.9 1670.8h0M185.3 1671.5h0M113.2 1627.7h0M113.4 1632.2h0M112.4 1636.4h0M114.3 1640.8h0M126.4 1627.7h0M127.4 1631.6h0M125.4 1636h0M126.7 1639.7h0M126.8 1644.1h0M125.8 1648.9h0M127.4 1653.2h0M126.5 1656.8h0M125.9 1661.3h0M125.4 1666.4h0M125.3 1671.6h0M142.3 1612.7h0M142.3 1616.7h0M143.6 1621.6h0M141.6 1626.6h0M141.9 1630.7h0M143.4 1635.3h0M142.8 1639.1h0M143.1 1643.8h0M142.8 1648.1h0M141.1 1652.7h0M141.1 1656.5h0M143.1 1660.5h0M141 1665.2h0M142.5 1668.7h0M142.8 1672.9h0M151.1 1646.2h0M150.8 1650.5h0M151 1654.1h0M151.6 1658h0M151.5 1662.7h0M150.5 1667.8h0M150.6 1671.8h0M173.1 1617.1h0M173.3 1622.3h0M174 1626.3h0M172.9 1630.7h0M172.4 1635.2h0M172.8 1639.7h0M171.8 1644.3h0M174.3 1649.5h0M172.9 1654.5h0M172.8 1658.8h0M173.9 1663.5h0M173.7 1668.4h0M188.1 1655.9h0M189.2 1660.7h0M188.3 1665.2h0M188 1669.6h0M188.2 1673.1h0M163.4 1655.9h0M162.8 1659.5h0M164.3 1664h0M162.1 1669.2h0M162.5 1672.9h0M113.6 1644.2h0M111.8 1651.1h0M113.6 1656.9h0M113.4 1662.7h0M113.2 1669.2h0M111.9 1677.4h0M114.5 1683.4h0M112 1689.3h0M112.4 1694.9h0M111.9 1701.1h0M113 1706.5h0M113.6 1714.7h0M114.4 1723.1h0M112.3 1729h0M112.5 1734.6h0M114 1742.5h0M114.5 1747.9h0M114.4 1756.1h0M113.8 1763.4h0M114.5 1772.3h0M114.4 1779.8h0M113.3 1787.6h0M114.1 1795h0M188 1673.3h0M189.3 1679.8h0M189.3 1686.7h0M187.6 1695.3h0M187.7 1700.4h0M189.4 1708.2h0M188.7 1715h0M187.7 1720.7h0M187.9 1729.2h0M189 1737.8h0M187.7 1745.2h0M187.5 1751.8h0M189 1760.3h0M187.3 1768.6h0M187.1 1777h0M189.1 1785.2h0M188.7 1791.7h0M113.2 1798.4h0M121.8 1798.3h0M126 1796.4h0M133.6 1797.5h0M140.9 1797.9h0M147.5 1796.8h0M156.2 1796.5h0M161 1796.5h0M169.9 1798.7h0M177.8 1797.7h0M183.3 1796.9h0M133.8 1624.2h0M140.9 1633.9h0M110 1593.4h0M110 1630.4h0M110 1724.6h0M110 1761.6h0M122.4 1387.3h0M122.4 1401.4h0M115.9 1559h0m0 2.7h0M115.9 1572.2h0m0 4.41h0m0 4.41h0m0 4.41h0m0 4.41h0m0 4.41h0m0 4.41h0m0 4.41h0m0 4.41h0m0 4.41h0m0 4.41h0m0 4.41h0m0 4.41h0m0 4.41h0m0 4.41h0m0 4.41h0M117.6 1559h0m0 2.7h0M117.6 1572.2h0m0 4.41h0m0 4.41h0m0 4.41h0m0 4.41h0m0 4.41h0m0 4.41h0m0 4.41h0m0 4.41h0m0 4.41h0m0 4.41h0m0 4.41h0m0 4.41h0m0 4.41h0m0 4.41h0m0 4.41h0M122.4 1339.9h0m0 4.72h0m0 4.72h0m0 4.72h0m0 4.72h0m0 4.72h0m0 4.72h0M122.4 1418.1h0m0 5.4h0m0 5.4h0M122.4 1442.2h0m0 4.37h0m0 4.37h0m0 4.37h0m0 4.37h0m0 4.37h0m0 4.37h0m0 4.37h0m0 4.37h0m0 4.37h0m0 4.37h0m0 4.37h0m0 4.37h0m0 4.37h0m0 4.37h0m0 4.37h0m0 4.37h0m0 4.37h0m0 4.37h0m0 4.37h0m0 4.37h0m0 4.37h0m0 4.37h0m0 4.37h0m0 4.37h0m0 4.37h0m0 4.37h0m0 4.37h0m0 4.37h0m0 4.37h0m0 4.37h0m0 4.37h0m0 4.37h0m0 4.37h0m0 4.37h0m0 4.37h0m0 4.37h0m0 4.37h0m0 4.37h0m0 4.37h0m0 4.37h0m0 4.37h0m0 4.37h0m0 4.37h0m0 4.37h0m0 4.37h0m0 4.37h0m0 4.37h0m0 4.37h0m0 4.37h0m0 4.37h0m0 4.37h0m0 4.37h0m0 4.37h0m0 4.37h0m0 4.37h0m0 4.37h0m0 4.37h0m0 4.37h0m0 4.37h0M202.5 1690.4h0M203.5 1694.9h0M207 1682.2h0M207.7 1687.1h0M212.1 1683.1h0M215.3 1684.8h0M229.3 1685.2h0M239.6 1674.1h0M239 1679h0M244.8 1678.7h0M248.6 1679.8h0M257.8 1680h0M258.1 1683.6h0M258.4 1687.5h0M266.4 1682h0M265.1 1686.9h0M206.6 1650.6h0M206 1654.5h0M207.3 1659.4h0M207.4 1663.5h0M206.2 1668.2h0M205.5 1673h0M206.3 1676.9h0M206.4 1681.7h0M206.5 1686.2h0M219.8 1661.2h0M220.8 1665.9h0M218.7 1669.6h0M219.7 1674h0M220 1678.5h0M218.7 1682.3h0M220.1 1686.2h0M233.8 1652.4h0M234.7 1656.2h0M234.6 1660.8h0M234.2 1665.2h0M233.8 1669.5h0M232.6 1673.2h0M233.1 1677.8h0M232.8 1681.6h0M233.5 1685.2h0M257.6 1620.7h0M256.4 1625.4h0M258 1629.7h0M257.5 1634.3h0M258.1 1637.9h0M256.9 1641.9h0M258.1 1647h0M258.1 1652.1h0M256.5 1656.2h0M258.2 1659.9h0M256.7 1663.3h0M256.3 1667.7h0M257.8 1672.1h0M258.2 1676.6h0M256.3 1681.2h0M257.6 1685.4h0M244.4 1662.9h0M243.9 1666.5h0M244.4 1671h0M243.9 1675.3h0M245 1679.7h0M266.4 1655.9h0M266.7 1660.3h0M265.7 1664.9h0M266 1668.7h0M267.4 1673.7h0M265.4 1677.4h0M267 1682.2h0M266.4 1685.8h0M203 1694.1h0M201.1 1703h0M202.3 1711.5h0M202.5 1716.8h0M202.3 1724.4h0M202.7 1730.4h0M203.5 1738.2h0M202.8 1744.5h0M203.5 1751.8h0M202.4 1758.5h0M202.2 1765h0M201.6 1770h0M203.5 1777.7h0M202.7 1782.8h0M202.1 1791.5h0M271.6 1701.1h0M269.6 1706.7h0M270.7 1714h0M271.9 1722.8h0M270.1 1730.1h0M271 1735.5h0M271.1 1742.4h0M270.7 1750.4h0M269.2 1757.6h0M271.8 1762.7h0M269.5 1768.1h0M269.2 1773.9h0M269.5 1779.1h0M269.7 1788h0M269.7 1793.5h0M202.5 1797.3h0M223.8 1797.3h0M229.7 1797.8h0M234 1797.5h0M239 1796.3h0M245.1 1796.7h0M251.4 1797.6h0M214.5 1634.8h0M218.9 1637.1h0M256.7 1580.2h0m0 4.4h0m0 4.4h0M262 1606.6h0m0 4.4h0M456.2 1632.2h0M456.7 1637.3h0M456.8 1640.9h0M461.1 1655h0M464.5 1660.4h0M465.9 1665.3h0M464.6 1670.3h0M469.2 1667.3h0M469.2 1670.8h0M474.7 1666.6h0M475.4 1670.4h0M475.3 1674.7h0M478.2 1666h0M478.4 1670.3h0M482.2 1662.2h0M481.4 1666.6h0M481.4 1670.8h0M487.5 1661.2h0M487.1 1665h0M492.6 1651.5h0M492.4 1656.2h0M493.2 1660.1h0M498 1664.3h0M498.2 1668h0M505.5 1663.9h0M506 1668.9h0M510.5 1668.3h0M513.9 1663.2h0M514.2 1667.7h0M515.1 1671.2h0M518.8 1667.9h0M518.3 1671.6h0M524.2 1661h0M524.8 1665.4h0M525.6 1668.8h0M528.2 1664.8h0M527.8 1669h0M538.1 1662.6h0M538.6 1667h0M537 1671.5h0M543.2 1665.2h0M542.8 1670.1h0M553 1666.3h0M554.4 1670.1h0M557.1 1662.1h0M555.8 1666.9h0M557.4 1671.4h0M561.9 1664h0M561.3 1667.7h0M569.9 1660.9h0M570.3 1665.3h0M570.1 1670.1h0M574.8 1665.9h0M575.8 1670.1h0M578.8 1667.1h0M579.6 1671.4h0M457.6 1589.9h0M456.9 1593.4h0M456.7 1597.2h0M458.6 1601.5h0M456.5 1604.9h0M458.1 1608.6h0M457.6 1612.2h0M456.4 1617.2h0M458.2 1622.1h0M456.3 1626.7h0M458.5 1631.4h0M458.3 1635.3h0M456.8 1640.3h0M481.4 1638.3h0M481.2 1642.4h0M482.4 1646.1h0M481.8 1649.7h0M482.6 1654.3h0M482.6 1659.2h0M481.7 1663.3h0M480.4 1666.7h0M499.9 1616.3h0M500.5 1620.7h0M499.8 1625.8h0M499.3 1629.7h0M499.4 1633.3h0M500.9 1638h0M499.6 1642.8h0M499.9 1647.1h0M501 1651.1h0M500.6 1654.9h0M500.3 1659.8h0M499.3 1664.9h0M499.2 1668.5h0M516.6 1602.2h0M516 1606.3h0M517.5 1609.9h0M515.9 1613.4h0M517.2 1617.4h0M517.4 1621.2h0M516.5 1624.9h0M515.9 1628.9h0M516.5 1632.5h0M517.8 1637.3h0M515.5 1641.5h0M517 1645.9h0M516.7 1649.5h0M515.6 1653.8h0M517 1657.7h0M517.6 1662.7h0M515.5 1667.9h0M540.4 1636.5h0M539.9 1640.5h0M540.8 1643.9h0M541.6 1648.6h0M539.3 1653.4h0M540.5 1658.2h0M540.7 1663h0M540.1 1667.9h0M555.7 1626.8h0M556.2 1630.5h0M555.4 1634.8h0M555 1638.6h0M556.3 1642.8h0M555.4 1646.2h0M555.4 1650.5h0M555.5 1655.4h0M556.3 1660.3h0M554.6 1664.8h0M556.2 1668.9h0M570.3 1641.8h0M570.7 1646.8h0M569.3 1651.5h0M570.8 1655.4h0M571.2 1660.1h0M569.2 1664.3h0M571.1 1669.3h0M466.4 1603.1h0M466.6 1607.6h0M467.6 1611.8h0M465.9 1616.9h0M467.1 1621.1h0M466.7 1625.1h0M465.4 1629.3h0M466.6 1633.7h0M466.8 1638.4h0M467.5 1642.9h0M466.5 1647.4h0M467.1 1652.4h0M467.3 1656.4h0M466.8 1661h0M465.6 1665.6h0M465.6 1670.6h0M491.1 1645.3h0M491.7 1648.9h0M490.3 1653h0M492.3 1658h0M526.3 1654.1h0M525.8 1658.3h0M526 1662.6h0M527.5 1666.2h0M580 1647.1h0M579.7 1651h0M580.4 1655h0M580.9 1660.2h0M579.3 1665h0M580.4 1669.8h0M457 1640.7h0M455.9 1648.1h0M456.6 1656.9h0M454.7 1665.8h0M455.8 1672.5h0M455.6 1679.8h0M456.1 1687.5h0M455.6 1695.9h0M457.5 1702.3h0M457.1 1709h0M456.2 1715.7h0M456.2 1724.2h0M457.1 1729.5h0M455.9 1736.8h0M455.5 1744.3h0M455.2 1750.3h0M456.2 1759h0M455.6 1764.6h0M454.9 1770.3h0M456.2 1776.5h0M455.9 1784.5h0M455.2 1792.7h0M581.3 1670.8h0M580.6 1676.4h0M580.3 1683.5h0M578.6 1690.6h0M580.1 1696.8h0M580 1703.7h0M579.5 1710.7h0M579 1716.6h0M579 1724.7h0M579.4 1733.1h0M581 1739.9h0M579.7 1745.8h0M578.7 1752.3h0M580.6 1761h0M580.2 1769.3h0M579.2 1774.8h0M578.6 1782.1h0M580.5 1789.6h0M456.2 1797.1h0M470.5 1798.5h0M476.5 1797.1h0M480.6 1797.3h0M485 1796.9h0M493.4 1796.6h0M505.1 1796.8h0M509.8 1798.2h0M516.5 1798.8h0M533.7 1798.2h0M556.1 1797.2h0M564.5 1796.8h0M573 1606.1h0M569.1 1612.7h0M529.8 1641.3h0M569.4 1639.2h0M506.9 1645.3h0M726.5 1675.4h0M729.8 1672.4h0M729.5 1676.3h0M733.6 1674.7h0M737.8 1668.3h0M737.8 1672h0M737.4 1676.7h0M743.2 1669.3h0M744.6 1673.2h0M742.3 1677.7h0M746.9 1669.2h0M745.8 1673.8h0M747.8 1678.5h0M752.3 1677.5h0M757.3 1674.2h0M758.4 1678h0M762.8 1673.3h0M763.1 1676.9h0M766.1 1671.2h0M764.7 1676.3h0M767.5 1680.5h0M776.6 1672.3h0M777.8 1677.3h0M785 1676.5h0M790.3 1675h0M791.7 1678.8h0M795.8 1678.3h0M801 1671.4h0M801.2 1676.2h0M801.6 1680.3h0M805 1674.8h0M804.6 1679.7h0M808.8 1673.9h0M807.8 1677.5h0M813.2 1671.7h0M814.3 1675.2h0M813.4 1680.4h0M817.4 1673.1h0M817.3 1678h0M822.4 1676.5h0M827.9 1673.9h0M827 1677.7h0M831.3 1676.6h0M831.2 1680.2h0M735.9 1654.1h0M735.7 1658.8h0M736.4 1663.2h0M735 1667.2h0M735.6 1671h0M734.7 1675h0M745.6 1659.4h0M746.3 1664.1h0M745.2 1667.8h0M744.8 1671.5h0M746.2 1675.6h0M746.3 1679.6h0M749.6 1659.4h0M748.7 1663.5h0M749.8 1667.2h0M748.9 1671.8h0M749.9 1675.5h0M748.6 1679.3h0M758.8 1655.9h0M758.1 1660.4h0M757.8 1665.4h0M757.9 1669.7h0M759.7 1674.3h0M759.4 1678.3h0M767.6 1627.7h0M767.4 1631.3h0M768.4 1635.8h0M767.5 1639.3h0M767.9 1643.7h0M766.5 1648.1h0M767.4 1652.7h0M766.6 1656.4h0M768.7 1660.1h0M768.9 1664.8h0M766.4 1668.5h0M767.7 1672h0M768.1 1676h0M794 1641.8h0M794.3 1646.9h0M794.4 1651.7h0M793.4 1656.8h0M794.7 1660.3h0M793 1664.8h0M794.2 1669.4h0M793.6 1673.5h0M795 1677.9h0M794.1 1641.8h0M793.6 1646.7h0M795.2 1651.5h0M793.6 1656.3h0M793.5 1661h0M794.4 1664.6h0M794.8 1669.3h0M794.2 1674.5h0M793.7 1678.8h0M818.7 1612.7h0M817.6 1617.7h0M818.8 1621.8h0M818.8 1626.4h0M817.8 1630h0M819.3 1635.1h0M818.8 1639.4h0M820 1643.2h0M818 1646.7h0M818.4 1651h0M819.1 1654.9h0M819.1 1659h0M817.5 1662.8h0M817.9 1666.4h0M818 1670.2h0M818.4 1674.1h0M819.4 1678.9h0M836.4 1632.1h0M837.4 1635.8h0M836.1 1640.5h0M835.6 1644.1h0M835.1 1648.2h0M836 1651.8h0M836.7 1655.4h0M837.1 1659.2h0M837.2 1663.5h0M837.5 1668.7h0M835.3 1673.9h0M836.8 1678.6h0M726.5 1661.2h0M726.9 1666.4h0M725.7 1671.2h0M727.2 1676h0M785.2 1652.4h0M785.4 1656.6h0M786.4 1661h0M785.6 1665.6h0M784 1670.3h0M784.3 1674.6h0M786.2 1678.7h0M806.4 1654.1h0M807.1 1657.9h0M805.5 1662.9h0M806 1667.4h0M807.1 1672.3h0M805.8 1677.4h0M726.1 1677.7h0M726.5 1683.2h0M725.6 1689.4h0M727.7 1696.5h0M726.1 1705h0M725.9 1711h0M725.7 1717.4h0M726.8 1724h0M726.2 1729.4h0M725.4 1735.7h0M725.9 1741.3h0M725.3 1746.6h0M726.6 1754.2h0M726.4 1761.7h0M726.5 1770.1h0M725.6 1776.9h0M725.5 1782.3h0M726.7 1788.2h0M725.3 1793.6h0M841.5 1679.6h0M840.3 1685.4h0M841.2 1693.8h0M841.3 1702.7h0M840.9 1708.3h0M840.8 1714.9h0M839.8 1721.3h0M839.4 1729.9h0M841.8 1735.5h0M839.7 1743.9h0M839.6 1749h0M841.8 1754.4h0M842.2 1760.2h0M841.5 1768.7h0M842 1777.1h0M841.9 1782.9h0M841.1 1790.6h0M726.5 1797.1h0M742.6 1798.1h0M750.8 1796.4h0M765.9 1798h0M778.5 1797.9h0M784.9 1797h0M793.4 1797h0M800.3 1797.5h0M805.4 1797.9h0M809.8 1797.6h0M821.8 1796.3h0M826.8 1798h0M835 1797h0M729.7 1620.7h0M735 1621.9h0M729.7 1632.1h0M735 1635.6h0M730.6 1645.3h0M783.4 1646.2h0M840.8 1613.1h0M810.8 1626h0M749.6 1602.2h0m0 4.4h0m0 4.4h0m0 4.4h0m0 4.4h0m0 4.4h0m0 4.4h0m0 4.4h0m0 4.4h0m0 4.4h0m0 4.4h0m0 4.4h0m0 4.4h0m0 4.4h0M762.6 1592.5h0m0 4.53h0m0 4.53h0m0 4.53h0m0 4.53h0m0 4.53h0m0 4.53h0m0 4.53h0m0 4.53h0m0 4.53h0m0 4.53h0m0 4.53h0m0 4.53h0m0 4.53h0m0 4.53h0M972 1663.7h0M971.2 1668.6h0M972.8 1672.1h0M976.3 1668.1h0M977.7 1671.9h0M980.7 1669.5h0M980.5 1673.2h0M985.2 1665.4h0M983.8 1669.2h0M985.7 1672.7h0M989.2 1669.7h0M989.5 1673.8h0M994.1 1660.9h0M994.8 1664.8h0M994.5 1668.8h0M998.9 1656h0M999.3 1660.7h0M997.8 1664.4h0M1007.5 1668.5h0M1006.2 1672.1h0M1012.4 1667.1h0M1011.8 1670.7h0M1012.4 1675h0M1017.5 1668.7h0M1016.6 1672.6h0M1022.4 1668.9h0M1022.5 1673.5h0M1026.9 1664.4h0M1025.6 1668.9h0M1027.4 1672.9h0M1031.9 1663.5h0M1030.5 1668.6h0M1031.2 1673h0M1041.4 1667.6h0M1041.9 1671h0M1042.5 1674.8h0M1050.3 1663.7h0M1051.5 1667.6h0M1048.8 1671.8h0M1059.5 1666.8h0M1059 1670.6h0M1060.9 1674.6h0M1063.4 1664.4h0M1063.4 1669.3h0M1062 1673.6h0M1068.3 1670.9h0M1002.8 1613.6h0M1003.3 1618.6h0M1002.3 1623.5h0M1001.7 1628.2h0M1003.9 1631.8h0M1002.4 1636.5h0M1003.9 1640.5h0M1001.6 1644.2h0M1003.4 1648.8h0M1003.8 1653.6h0M1003.7 1658.7h0M1002 1663.6h0M1003 1667.5h0M1003.5 1672.2h0M1022.2 1618.9h0M1021.6 1622.8h0M1021.6 1626.8h0M1022.2 1630.9h0M1022 1635.3h0M1021.5 1639.1h0M1022 1643.3h0M1021.9 1647.3h0M1021.9 1651.6h0M1022 1656.8h0M1021.1 1660.4h0M1021.5 1663.9h0M1021.4 1668.9h0M1021.3 1672.6h0M1034.5 1638.3h0M1035.1 1643.1h0M1035.3 1646.8h0M1033.3 1650.9h0M1034.9 1655.2h0M1034.4 1658.6h0M1035.3 1663.6h0M1034 1667.8h0M1035.1 1672.6h0M1042.4 1648.8h0M1043.6 1652.8h0M1042 1657.6h0M1042.6 1662.6h0M1041.3 1666.3h0M1042 1671.2h0M1049.5 1661.2h0M1049.6 1665.2h0M1050.3 1668.7h0M1050.8 1672.5h0M1060 1638.3h0M1060 1642.9h0M1059.2 1648.1h0M1059.2 1651.5h0M1060.8 1655.7h0M1060 1660.1h0M1058.8 1664.2h0M1059.1 1667.9h0M1059.6 1671.3h0M1065.3 1638.3h0M1065.6 1642.6h0M1064.2 1646.9h0M1064.3 1651.1h0M1066 1654.5h0M1065.3 1658.1h0M1065.9 1662.1h0M1064.3 1666.9h0M1064.9 1670.7h0M984.3 1652.4h0M984 1656.8h0M984.6 1661.1h0M984.2 1664.8h0M984.8 1668.7h0M985.5 1672.8h0M971.1 1674.3h0M972.9 1680.1h0M972 1688.9h0M971.5 1697.9h0M972.5 1705.6h0M971.9 1711.5h0M973.1 1718.3h0M971.5 1727.1h0M973.1 1734.2h0M970.6 1739.7h0M970.8 1748.1h0M971.4 1756.9h0M971.4 1763.2h0M972.8 1769.5h0M973.1 1776.1h0M971.7 1782.2h0M973.2 1789.4h0M1072.8 1672.4h0M1071.1 1679.8h0M1070.7 1685.1h0M1072.5 1693h0M1071 1699.2h0M1071 1707.5h0M1070.6 1715.4h0M1072.6 1721.1h0M1071.8 1729.9h0M1071.6 1738.4h0M1070.1 1744.3h0M1071.5 1753h0M1072.1 1758.8h0M1072.1 1766.7h0M1071.2 1773.1h0M1071.1 1780.3h0M1070.2 1786h0M1070.7 1792.1h0M976.9 1796.9h0M987.9 1798.7h0M993.1 1798.5h0M999.1 1798.2h0M1006.3 1798.6h0M1013.5 1798.3h0M1018 1797.3h0M1038.3 1798.6h0M1044.5 1796.7h0M1051.9 1797.7h0M1056.2 1798.7h0M1070.8 1797.6h0M1060.6 1522h0M986.9 1596h0M1021.3 1607.8h0M979 1640.4h0M1033.6 1637.4h0M1053 1547.6h0m0 4.37h0m0 4.37h0m0 4.37h0m0 4.37h0m0 4.37h0m0 4.37h0m0 4.37h0m0 4.37h0m0 4.37h0m0 4.37h0m0 4.37h0m0 4.37h0m0 4.37h0m0 4.37h0m0 4.37h0m0 4.37h0m0 4.37h0m0 4.37h0m0 4.37h0m0 4.37h0m0 4.37h0m0 4.37h0m0 4.37h0m0 4.37h0m0 4.37h0m0 4.37h0M1057.4 1555.5h0m0 4.4h0m0 4.4h0m0 4.4h0m0 4.4h0m0 4.4h0m0 4.4h0m0 4.4h0m0 4.4h0m0 4.4h0m0 4.4h0m0 4.4h0m0 4.4h0m0 4.4h0m0 4.4h0m0 4.4h0m0 4.4h0m0 4.4h0m0 4.4h0m0 4.4h0m0 4.4h0m0 4.4h0m0 4.4h0m0 4.4h0m0 4.4h0M1060.4 1552.9h0m0 4.33h0m0 4.33h0m0 4.33h0m0 4.33h0m0 4.33h0m0 4.33h0m0 4.33h0m0 4.33h0m0 4.33h0m0 4.33h0m0 4.33h0m0 4.33h0m0 4.33h0m0 4.33h0m0 4.33h0m0 4.33h0m0 4.33h0m0 4.33h0m0 4.33h0m0 4.33h0m0 4.33h0m0 4.33h0m0 4.33h0m0 4.33h0m0 4.33h0M1185.5 1702.6h0M1184.8 1706.7h0M1190.5 1668.1h0M1192 1673.3h0M1199.7 1662.2h0M1198.7 1667h0M1198.9 1672.2h0M1205.2 1669.3h0M1205.3 1672.8h0M1209.9 1663.7h0M1209.7 1668.3h0M1210.2 1673.1h0M1195.7 1642.7h0M1194.8 1646.9h0M1195.5 1650.4h0M1194.4 1655.2h0M1195.5 1659.8h0M1194.6 1664.7h0M1194.8 1669.5h0M1208.1 1641.8h0M1207.8 1646.6h0M1207.2 1650.6h0M1208.6 1655h0M1208.7 1659.5h0M1207.7 1664.6h0M1207.9 1669.6h0M1186 1647.1h0M1186.3 1651h0M1186.6 1654.6h0M1186.7 1658.1h0M1186 1661.8h0M1186.7 1665.3h0M1187.2 1669.6h0M1184.2 1709.9h0M1185.5 1714.9h0M1186.6 1720.4h0M1185.9 1727.2h0M1185.6 1733h0M1185.8 1741.9h0M1184 1748.3h0M1185.8 1754.6h0M1184.7 1761.5h0M1186 1769h0M1187 1776.5h0M1185.3 1781.7h0M1185.1 1790.6h0M1210.9 1701.1h0M1212.5 1708.1h0M1212.7 1714.9h0M1212 1723.7h0M1210.2 1730.4h0M1210.4 1738.8h0M1211.6 1745.9h0M1212.7 1754.2h0M1211.4 1762.5h0M1210.3 1769.5h0M1210.4 1775.4h0M1211.3 1781h0M1211.3 1789.3h0M1185.5 1797.2h0M1198.6 1798.2h0M1205.9 1796.8h0M1206.7 1635.3h0M1227.8 1678.6h0M1228 1683.7h0M1232.3 1660.4h0M1231.1 1664.6h0M1233.4 1668.2h0M1240.1 1660.8h0M1239 1664.3h0M1241 1668.8h0M1244.8 1663.1h0M1245.4 1666.8h0M1249.5 1663.6h0M1248.1 1667.2h0M1257.5 1664.5h0M1257.8 1669.1h0M1265 1663.4h0M1264.2 1666.8h0M1232.7 1634.8h0M1233.5 1639.8h0M1232.4 1643.8h0M1233.2 1647.4h0M1234 1652.6h0M1231.6 1657.6h0M1233.4 1662.4h0M1232.4 1667.1h0M1253.8 1638.3h0M1253 1641.9h0M1254.2 1645.9h0M1254.3 1650.1h0M1254.6 1654.4h0M1252.9 1659.1h0M1253.3 1663.9h0M1252.9 1668.2h0M1256.5 1638.3h0M1257 1641.8h0M1256 1646.2h0M1256.3 1650h0M1257.1 1654.2h0M1255.5 1658.9h0M1257 1663.8h0M1256.1 1668.1h0M1269.7 1643.6h0M1269.7 1647.4h0M1268.9 1651.9h0M1269.7 1655.9h0M1269.6 1660.6h0M1270.9 1664.1h0M1270.2 1667.7h0M1243.3 1641.8h0M1242.4 1645.9h0M1243.3 1650.4h0M1243 1655.1h0M1242.4 1658.8h0M1243.6 1663.7h0M1226.5 1683.5h0M1227.8 1691.9h0M1227.7 1697.7h0M1227.9 1706.4h0M1229.3 1712.4h0M1228.1 1718.3h0M1228.3 1723.6h0M1228 1731h0M1227.2 1739.9h0M1226.3 1746.4h0M1228.2 1754.7h0M1227 1761.2h0M1227.3 1767h0M1226.8 1772.3h0M1227.1 1781h0M1227.8 1788.5h0M1272.2 1665.3h0M1271.8 1670.6h0M1272.5 1679.4h0M1271.4 1685.1h0M1273.1 1691.5h0M1271.3 1700.2h0M1272.5 1705.4h0M1273.5 1711.3h0M1271.6 1720h0M1273.2 1728h0M1272.4 1736.2h0M1272.6 1742.2h0M1273.7 1747.7h0M1271.8 1756.2h0M1273.3 1762.8h0M1272.3 1771.1h0M1273.5 1779.9h0M1271.1 1785.3h0M1273.2 1792h0M1252.6 1796.7h0M1260.2 1798.7h0M1272.3 1601.8h0M1272.3 1618h0M1272.3 1624.2h0M1256.5 1622.1h0M1376.6 1653.7h0M1376.5 1658.5h0M1399.2 1671.5h0M1402.8 1663.1h0M1403.5 1666.7h0M1402.6 1670.2h0M1407.9 1676.1h0M1406.4 1679.6h0M1412.9 1685.8h0M1417.6 1667.6h0M1416.6 1672.1h0M1416.4 1677.2h0M1427 1669.2h0M1426.9 1673.1h0M1435.4 1670.7h0M1440.1 1670.5h0M1444.6 1667.1h0M1445.2 1671.2h0M1447.8 1667.1h0M1448.8 1671.3h0M1453.2 1670.6h0M1456.8 1666h0M1456.8 1670.2h0M1380.7 1638.3h0M1380.1 1643.4h0M1380.8 1648.3h0M1380.1 1652.5h0M1381.9 1657h0M1393 1608.3h0M1392.8 1612.9h0M1393.7 1616.4h0M1392.4 1621.1h0M1393.8 1624.8h0M1393.3 1628.4h0M1392.5 1632.8h0M1392.8 1636.5h0M1394 1640.7h0M1394 1645.4h0M1392.7 1649.1h0M1392 1654.1h0M1392 1659.1h0M1393 1662.6h0M1393.3 1667.5h0M1393 1672h0M1403.6 1654.1h0M1403.2 1658.3h0M1403.4 1662.2h0M1402.6 1667.3h0M1404.5 1670.8h0M1420.3 1627.7h0M1420.5 1632.2h0M1419.5 1636.6h0M1420.5 1641.6h0M1420.1 1646.7h0M1419.2 1650.3h0M1419.3 1655.1h0M1420.1 1658.8h0M1420.9 1662.7h0M1420.7 1667.1h0M1420.2 1670.9h0M1439.7 1647.1h0M1440 1652.2h0M1440.1 1656.7h0M1439.7 1661.5h0M1440.8 1665.3h0M1439.5 1670.1h0M1456.4 1636.5h0M1455.4 1641.5h0M1457.2 1646.3h0M1455.1 1649.8h0M1457.6 1654.4h0M1456 1658.1h0M1457.4 1661.8h0M1457 1666.3h0M1456.9 1670.5h0M1377.9 1658.3h0M1376.2 1666h0M1377.4 1674.2h0M1375.3 1681.9h0M1377.9 1689.1h0M1376.7 1698h0M1375.5 1704h0M1375.5 1711.4h0M1376 1719.5h0M1377.9 1727h0M1377.8 1734.2h0M1377.2 1741h0M1376 1749.4h0M1376.6 1757.4h0M1377.9 1764h0M1375.4 1773h0M1376.7 1778.9h0M1375.8 1786.5h0M1375.5 1793.4h0M1459.8 1667.1h0M1461.6 1674h0M1459.9 1680.5h0M1459.7 1688.1h0M1461.5 1694.7h0M1461.7 1702.2h0M1459.6 1708.8h0M1462 1713.9h0M1462.2 1720.8h0M1461.8 1729.5h0M1461.6 1735.6h0M1460.3 1740.7h0M1460.5 1747.5h0M1460.8 1754.7h0M1460 1759.9h0M1461.9 1767.5h0M1460.6 1773.5h0M1459.6 1779.4h0M1461.5 1787.2h0M1460.5 1795.8h0M1385.1 1798h0M1391.7 1797h0M1399.5 1797.1h0M1411.7 1796.5h0M1420 1796.8h0M1433.8 1797.2h0M1438.9 1797.7h0M1447.1 1796.8h0M1451.9 1798.7h0M1459.3 1798.5h0M1385.1 1542.7h0M1402.7 1608h0M1461.7 1592.5h0M1453.7 1612.7h0M1453.7 1619.8h0M1403.6 1653.3h0M1439.7 1646.2h0M1384.7 1558.1h0m0 4.46h0m0 4.46h0m0 4.46h0m0 4.46h0m0 4.46h0m0 4.46h0m0 4.46h0m0 4.46h0m0 4.46h0m0 4.46h0m0 4.46h0m0 4.46h0m0 4.46h0m0 4.46h0m0 4.46h0m0 4.46h0m0 4.46h0m0 4.46h0M1392.1 1610.1h0m0 4.4h0m0 4.4h0m0 4.4h0m0 4.4h0M1420.3 1627.7h0m0 4.58h0m0 4.58h0m0 4.58h0m0 4.58h0m0 4.58h0m0 4.58h0m0 4.58h0m0 4.58h0m0 4.58h0m0 4.58h0M1575.7 1688.6h0M1579.3 1675.6h0M1580.5 1680.5h0M1578.2 1684.5h0M1584.5 1683.6h0M1588.1 1682.8h0M1593.7 1678.1h0M1594.9 1682.1h0M1599 1669.7h0M1599.6 1674.3h0M1599.2 1678.8h0M1604 1669.7h0M1603.6 1673.7h0M1605.5 1678.2h0M1608.5 1671.3h0M1607.1 1676.1h0M1612.6 1668.5h0M1612.7 1673.4h0M1613.6 1678.2h0M1617.1 1671.6h0M1616.3 1675.7h0M1622.5 1678.7h0M1622.6 1683.2h0M1627 1680.5h0M1626.4 1684.7h0M1630.5 1682.9h0M1581.5 1655.9h0M1582.2 1660h0M1582.2 1664.2h0M1581.3 1667.8h0M1582 1672.7h0M1581.2 1676.3h0M1581.6 1681.1h0M1600 1626h0M1600 1630.5h0M1599.7 1635h0M1600.5 1638.9h0M1601 1643.7h0M1600.8 1648.7h0M1600.9 1652.4h0M1600.2 1656.2h0M1599.4 1661h0M1598.7 1664.4h0M1599.6 1668.3h0M1600.3 1672.9h0M1599.7 1677.4h0M1620.3 1659.4h0M1621.3 1664.5h0M1620.6 1668.9h0M1620.3 1674h0M1619.2 1677.4h0M1634.4 1656.8h0M1634.6 1661.6h0M1633.6 1665.6h0M1633.6 1669.2h0M1634.3 1673.1h0M1635.6 1676.8h0M1634.7 1681.9h0M1590.3 1648.8h0M1589.2 1653.9h0M1591.1 1657.8h0M1590.4 1661.6h0M1589.3 1666.7h0M1590.7 1670.2h0M1590 1674.2h0M1589.2 1679.1h0M1574.5 1690.6h0M1574.5 1697.3h0M1577.1 1704.8h0M1574.3 1712.9h0M1577.1 1719.4h0M1576.2 1724.5h0M1574.5 1730h0M1574.6 1736.7h0M1576.4 1744.2h0M1575.4 1750.5h0M1575.5 1757h0M1575.9 1765.9h0M1574.9 1772.1h0M1576.6 1778.8h0M1576.4 1786h0M1576.9 1791.2h0M1634.3 1684.9h0M1636.7 1691.9h0M1636.3 1698.7h0M1635.4 1706.6h0M1634.6 1714.5h0M1635.1 1721.6h0M1634.2 1728h0M1634.9 1735.8h0M1634.7 1742.6h0M1635.8 1751.5h0M1634.3 1757.8h0M1635.4 1763.5h0M1636.2 1771.5h0M1636.4 1780.2h0M1636.1 1786.1h0M1636.6 1792.3h0M1575.7 1798.5h0M1582.3 1797.9h0M1590 1797.6h0M1603.3 1797.1h0M1616.8 1796.5h0M1623.7 1796.4h0M1630.6 1798.1h0M1598.8 1552.9h0M1598.8 1557.3h0M1599.1 1607.5h0M1599.1 1611h0M1580.6 1645.3h0M1622 1627.7h0M1622.9 1636.5h0M1625.6 1645.3h0M1633.5 1632.1h0M1633.5 1638.3h0M1629.1 1646.2h0M1730.7 1716h0M1735.1 1666.9h0M1735.4 1671.4h0M1738.3 1672.1h0M1743.5 1666.6h0M1743.7 1671.4h0M1747.7 1668.9h0M1746.2 1673h0M1752.6 1664h0M1753.5 1668.9h0M1753.7 1674h0M1756.1 1666.9h0M1755.1 1671.6h0M1759.5 1671.8h0M1764.2 1665.5h0M1764.8 1670.3h0M1764.5 1674.7h0M1769.1 1668.4h0M1770 1672.5h0M1779.7 1667.5h0M1779.7 1672.3h0M1748.8 1636.5h0M1748.1 1640.7h0M1747.6 1644.2h0M1748.5 1647.7h0M1749.1 1651.4h0M1747.9 1654.8h0M1747.8 1658.6h0M1749.2 1663.1h0M1748.3 1667.2h0M1748.4 1671h0M1752.4 1636.5h0M1752.8 1641.6h0M1752.1 1645.3h0M1751.9 1649.7h0M1752 1653.9h0M1753.4 1658.6h0M1751.4 1662.9h0M1753.4 1666.7h0M1753 1671.2h0M1763.8 1611.9h0M1764.6 1616.6h0M1763.3 1620.6h0M1763.2 1624.2h0M1762.6 1628.7h0M1763.3 1633h0M1763.9 1636.8h0M1764 1641.2h0M1763.8 1646.1h0M1762.5 1650.1h0M1763.6 1653.7h0M1763.2 1658.1h0M1763.1 1663.1h0M1764.3 1667.4h0M1764.4 1672.3h0M1771.4 1611.9h0M1771.2 1616.5h0M1770.7 1620.5h0M1770.7 1624.5h0M1770.2 1628.3h0M1772.7 1633.1h0M1770.4 1638.3h0M1771.5 1643.3h0M1772.3 1646.9h0M1770.7 1650.6h0M1771.3 1655.6h0M1771.1 1659.5h0M1772.2 1664.7h0M1770.5 1668.7h0M1772.4 1673.4h0M1776.6 1638.3h0M1777.6 1641.7h0M1776.9 1645.6h0M1775.7 1650.1h0M1775.9 1654.9h0M1775.4 1659h0M1776.3 1662.9h0M1777.6 1666.6h0M1777.4 1671.5h0M1740 1655.9h0M1738.7 1659.7h0M1739.2 1664.3h0M1739.2 1668.9h0M1741 1673.8h0M1729.8 1718.7h0M1729.2 1724.4h0M1729.4 1732h0M1731.1 1740.6h0M1729.4 1748.6h0M1729.5 1756.6h0M1729.3 1765.2h0M1729.8 1770.4h0M1729.3 1776.4h0M1731.5 1781.7h0M1730.9 1786.8h0M1729.3 1793.1h0M1782.9 1674.3h0M1781.3 1679.3h0M1781.3 1684.5h0M1782.1 1692.6h0M1783.3 1700h0M1783 1705.5h0M1780.9 1714.2h0M1781.3 1719.7h0M1781.4 1726.9h0M1780.7 1732.9h0M1781 1739.6h0M1782.2 1748.5h0M1780.6 1753.7h0M1781.4 1761.7h0M1782.5 1769.2h0M1782.4 1775.1h0M1783 1780.3h0M1782.2 1786.1h0M1781.2 1795h0M1730.7 1797.2h0M1738.3 1796.7h0M1743.1 1798.5h0M1751.1 1797.7h0M1756.8 1798.3h0M1763.2 1796.5h0M1771.8 1796.8h0M1777.9 1797.6h0M1737.4 1632.1h0M1771.5 1511.3h0m0 4.39h0m0 4.39h0m0 4.39h0m0 4.39h0m0 4.39h0m0 4.39h0m0 4.39h0m0 4.39h0m0 4.39h0m0 4.39h0m0 4.39h0m0 4.39h0m0 4.39h0m0 4.39h0m0 4.39h0m0 4.39h0m0 4.39h0m0 4.39h0m0 4.39h0m0 4.39h0m0 4.39h0m0 4.39h0m0 4.39h0m0 4.39h0m0 4.39h0m0 4.39h0m0 4.39h0m0 4.39h0m0 4.39h0m0 4.39h0m0 4.39h0m0 4.39h0m0 4.39h0m0 4.39h0m0 4.39h0m0 4.39h0m0 4.39h0m0 4.39h0m0 4.39h0m0 4.39h0m0 4.39h0m0 4.39h0m0 4.39h0M1856.1 1656.6h0M1857 1660.3h0M1857.1 1663.9h0M1857.1 1668.2h0M1860.5 1665.9h0M1870.2 1665.1h0M1869.5 1668.9h0M1871.1 1672.3h0M1875.4 1662.6h0M1874.9 1667.7h0M1878.7 1658.1h0M1880.1 1662.3h0M1880 1667.1h0M1883.2 1661h0M1884.2 1666h0M1888.5 1656.7h0M1889.5 1661.6h0M1889 1665.9h0M1892 1658.4h0M1891.7 1663.5h0M1891 1667.7h0M1895.4 1665.8h0M1899.8 1661.7h0M1901.2 1666.5h0M1854.1 1618.9h0M1854.1 1623.8h0M1853 1627.5h0M1853.4 1632.3h0M1854.7 1636.2h0M1854.9 1639.7h0M1854.1 1644.5h0M1854 1648.1h0M1854 1652.2h0M1855.3 1656.8h0M1854.6 1660.5h0M1853.6 1664.1h0M1880.5 1638.3h0M1879.3 1642.1h0M1880.2 1647.3h0M1881.4 1651.8h0M1880.5 1656.7h0M1879.7 1660.8h0M1881 1664.7h0M1888.4 1641.8h0M1888.9 1646.7h0M1889.1 1650.5h0M1889.2 1653.9h0M1887.9 1657.5h0M1887.4 1662.5h0M1889.1 1666h0M1896.3 1627.7h0M1895.9 1632.6h0M1896 1637.1h0M1896.1 1640.9h0M1897.3 1645.7h0M1897.5 1650.3h0M1897.4 1655.4h0M1896.4 1658.9h0M1895 1662.8h0M1851.1 1667.3h0M1852.6 1674.6h0M1853.3 1680.2h0M1853.6 1687.2h0M1851 1693.2h0M1851.3 1700.4h0M1852.1 1707.1h0M1851.9 1713h0M1851.8 1721.8h0M1852.5 1729.8h0M1851.2 1738.7h0M1851.4 1745.6h0M1852.1 1752h0M1851.4 1760.8h0M1853 1766.1h0M1852 1774.5h0M1851.3 1782.5h0M1852.2 1790.6h0M1901.8 1680h0M1902.2 1688.2h0M1903 1693.5h0M1901.8 1701.6h0M1901.2 1709.8h0M1902.5 1716.8h0M1901.3 1723.5h0M1901.4 1731.2h0M1901.1 1739.9h0M1902.6 1745.4h0M1902.1 1753.1h0M1902.8 1760.9h0M1900.3 1766.5h0M1900.6 1772.6h0M1900.7 1779.5h0M1900.4 1788.2h0M1901.8 1794.1h0M1852.3 1797.8h0M1857.9 1797.2h0M1862.9 1796.5h0M1869.1 1798.3h0M1873.4 1797.4h0M1881 1797.1h0M1889.9 1797.6h0M1897.5 1798.2h0M1851.4 1602.5h0M1855.8 1607.5h0M1880.1 1616.6h0M1862.5 1641.3h0M1862.5 1655.9h0M1880.1 1638.3h0M1880.1 1578.4h0m0 4.12h0m0 4.12h0m0 4.12h0m0 4.12h0m0 4.12h0m0 4.12h0M1891.9 1580.2h0m0 4.4h0m0 4.4h0m0 4.4h0m0 4.4h0m0 4.4h0m0 4.4h0m0 4.4h0m0 4.4h0m0 4.4h0m0 4.4h0m0 4.4h0m0 4.4h0m0 4.4h0m0 4.4h0M1963.3 1657.2h0M1963.6 1662.4h0M1970.4 1657h0M1970.2 1662.1h0M1975.2 1661.5h0M1980.1 1656h0M1984.1 1647.5h0M1983.9 1650.9h0M1985 1655.2h0M1989.7 1659.6h0M1993 1651.7h0M1992.8 1655.8h0M1993.6 1660.7h0M1997.7 1655.1h0M1998.6 1660.2h0M1987.9 1633h0M1986.6 1638h0M1989.1 1642.8h0M1988.9 1646.4h0M1986.6 1650.1h0M1987.6 1654.9h0M1988.2 1658.9h0M1992 1633h0M1991.9 1636.8h0M1993.1 1640.8h0M1991.5 1644.3h0M1991.2 1648.9h0M1991.1 1652.4h0M1993.1 1656.1h0M1991 1661h0M1968.5 1643.6h0M1969.3 1647.8h0M1967.6 1651.3h0M1969.2 1655.7h0M1968.8 1660.7h0M1964.2 1663.8h0M1961.8 1671.2h0M1964.2 1680.1h0M1963.6 1685.9h0M1962.4 1692h0M1963.1 1699.3h0M1963.4 1704.5h0M1964.2 1711.2h0M1963.4 1717.5h0M1962.5 1725.4h0M1963.8 1733.7h0M1963.2 1739.4h0M1964.7 1747.2h0M1963.3 1754.3h0M1961.9 1762.9h0M1964.6 1770.7h0M1962.7 1775.8h0M1964.4 1784.5h0M1961.9 1793.2h0M1998.3 1661.8h0M1997.8 1668.6h0M1998.4 1673.8h0M1999.2 1682.4h0M1999.9 1691h0M1997.1 1697.8h0M1997.4 1704.9h0M1997.2 1709.9h0M1997.9 1716.7h0M1997.6 1724.9h0M1998.3 1730.2h0M1997.1 1739h0M1997.3 1745.3h0M1999.5 1752.6h0M1999.1 1759h0M1999 1767.6h0M1999.3 1773.7h0M1998.1 1781.5h0M1997.1 1786.6h0M1997.3 1792.6h0M1963.3 1796.7h0M1968.1 1797.6h0M1972.4 1798.4h0M1984.4 1798.5h0M1988.4 1797.1h0M1996.9 1796.9h0M1963.6 1603.1h0M1991.8 1533h0M1992 1591.6h0m0 4.25h0m0 4.25h0m0 4.25h0m0 4.25h0m0 4.25h0m0 4.25h0m0 4.25h0m0 4.25h0m0 4.25h0m0 4.25h0m0 4.25h0M1991.8 1508.4h0m0 3.8h0m0 3.8h0m0 3.8h0M2053.4 1692.4h0M2062.5 1688.2h0M2063.9 1691.9h0M2063.2 1695.5h0M2068.1 1688.9h0M2066.7 1692.9h0M2073.5 1686h0M2074 1690.5h0M2073 1694h0M2068.9 1655.9h0M2069.7 1660.5h0M2067.6 1665.3h0M2068.1 1669.5h0M2067.7 1674.6h0M2069.5 1679.7h0M2069.7 1683.4h0M2069.2 1688.4h0M2069.9 1692.7h0M2053.1 1675.3h0M2052.1 1679.8h0M2053.7 1684.1h0M2054.3 1688h0M2052.6 1693h0M2053.1 1701.1h0M2053.6 1708.6h0M2052 1715.6h0M2054.4 1721.1h0M2052.4 1728.2h0M2053.6 1734.6h0M2053.9 1742.8h0M2052.1 1748.3h0M2053.6 1756.7h0M2053.5 1762.3h0M2052.5 1770.4h0M2053.2 1778.5h0M2052.9 1786.5h0M2052.9 1793h0M2076.2 1695.5h0M2076.7 1704.5h0M2076.9 1713.4h0M2077.2 1721.8h0M2076.6 1727.1h0M2076.4 1732.2h0M2076.1 1738.9h0M2078.3 1746.4h0M2075.6 1754.6h0M2077.5 1763.2h0M2076.4 1770.7h0M2076.4 1776.1h0M2075.6 1783.1h0M2077.7 1791.2h0M2058.3 1797.2h0M2065.9 1798.6h0M2074.7 1796.8h0M2061.9 1644.8h0" fill="none" stroke="#0000ff" stroke-width="9.8" stroke-linecap="round"/>
<path d="M286.7 1794.9L286.7 1683.5L287.6 1663.8L293.7 1663.8L297.3 1663.8L300.8 1663.8L304.3 1663.8L306.1 1663.8L309.6 1663.8L316.6 1658.3L321.9 1658.3L329 1658.3L330.7 1658.3L334.2 1658.3L337.8 1660.1L341.3 1660.1L344.8 1660.1L350.1 1660.1L353.6 1660.1L358.9 1660.1L364.2 1663.8L367.7 1663.8L373 1663.8L376.5 1663.8L381.8 1663.8L387.1 1663.8L390.6 1661.8L394.1 1661.8L399.6 1661.8L406.4 1661.8L412.6 1661.8L417 1663.8L422.3 1663.8L427.6 1663.8L431.1 1663.8L432.9 1663.8L434.6 1663.8L437.3 1663.8L439 1676.5L439 1794.9ZM594.5 1794.9L594.5 1674.3L595.9 1674.3L600.3 1674.3L601.1 1674.3L603.8 1674.3L606.4 1674.3L607.3 1674.3L612.6 1674.3L617.9 1674.3L624.9 1674.3L630.2 1676.5L635.5 1674.3L637.3 1674.3L639.9 1674.3L642.5 1674.3L647.8 1674.3L653.1 1667.1L658.4 1667.1L665.4 1674.3L668.1 1674.3L670.7 1674.3L673.4 1674.3L676 1674.3L679.5 1676.5L683.9 1674.3L688.3 1674.3L693.6 1674.3L698.9 1674.3L704.2 1674.3L707.7 1668.9L712.1 1668.9L713.9 1668.9L713.9 1794.9ZM853.4 1794.9L853.4 1662.4L857.5 1662L862.8 1662L866.3 1662L870.7 1658.3L873.3 1658.3L876 1654.8L877.7 1662L882.1 1662L885.7 1662L889.2 1662L892.7 1669.4L899.8 1665.9L906.8 1664.1L910.3 1662L917.4 1662L922.7 1658.3L926.2 1654.8L927.9 1654.8L931.5 1638.9L936.7 1638.9L939.4 1638.9L944.7 1661.8L946.4 1662L952.6 1662L954.4 1662L957 1662L958.4 1665.9L958.4 1794.9ZM1084.2 1794.9L1084.2 1661.8L1088.2 1661.8L1090 1668.9L1091.7 1668.9L1095.3 1674.2L1097 1674.2L1102.3 1677.7L1107.6 1677.7L1114.6 1677.7L1121.7 1677.7L1128.7 1674.2L1120 1677.7L1127 1677.7L1134.1 1674.2L1139.4 1677.9L1142.9 1677.9L1145.5 1677.9L1148.2 1677.9L1152.6 1678.2L1157 1677.9L1159.6 1677.9L1162.3 1677.9L1164.9 1677.9L1167.6 1677.9L1171.1 1677.9L1174.6 1677.9L1174.6 1794.9ZM1283.3 1794.9L1283.3 1678.2L1285.6 1663.8L1287.3 1663.8L1290.8 1665.9L1294.4 1663.8L1297.9 1663.8L1301.4 1663.8L1303.2 1663.8L1306.7 1665.9L1312 1665.9L1317.3 1664.1L1322.5 1663.8L1325.2 1663.8L1328.7 1663.8L1331.3 1654.8L1337.5 1658.3L1341.9 1658.3L1347.2 1658.3L1350.7 1658.3L1354.2 1663.8L1358.6 1663.8L1363.9 1663.8L1364.8 1676.5L1364.8 1794.9ZM1470.9 1794.9L1470.9 1687L1470.9 1671.2L1472.3 1670.8L1477.6 1670.8L1479.4 1670.8L1484.7 1670.8L1489.9 1670.8L1488.2 1670.8L1489.9 1670.8L1495.2 1671.2L1502.3 1670.8L1507.6 1670.8L1512.8 1670.8L1519.9 1670.8L1521.6 1670.8L1525.2 1674.7L1530.4 1672.9L1534 1670.8L1537.5 1670.8L1539.3 1670.8L1540.7 1670.8L1542.8 1670.8L1547.2 1670.8L1549.8 1670.8L1552.5 1670.8L1553.3 1683.5L1553.3 1794.9ZM1655.8 1794.9L1655.8 1675.9L1660.8 1675.9L1664.3 1675.9L1671.3 1679.6L1676.6 1679.6L1681.9 1679.6L1685.4 1679.6L1689 1679.6L1696 1672.4L1703 1679.6L1708.3 1679.6L1709.2 1683.5L1709.2 1794.9ZM1789.2 1794.9L1789.2 1690L1789.2 1690L1791.5 1690L1792.4 1690L1795.9 1695.3L1801.2 1695.3L1808.3 1695.3L1808.3 1794.9ZM1819.2 1794.9L1819.2 1677.9L1822.4 1677.9L1825.9 1677.9L1831.2 1677.9L1836.4 1677.9L1841.7 1677.9L1844.7 1672.4L1846.1 1672.4L1846.1 1794.9ZM1909.9 1794.9L1909.9 1677.9L1915.7 1677.9L1919.2 1683.5L1922.7 1677.9L1928.9 1677.9L1933.3 1674.2L1938.6 1674.2L1943.9 1674.2L1949.2 1674.2L1954.4 1672.4L1956.2 1672.4L1956.2 1794.9ZM2005.5 1794.9L2005.5 1683L2010.8 1683L2014.3 1683L2017.8 1683L2021.4 1683L2024.5 1683L2028.4 1683L2033.7 1677.7L2039 1677.7L2042.5 1677.7L2042.5 1794.9ZM2092.2 1794.9L2092.2 1678.2L2092.7 1677.9L2097.1 1677.9L2102.4 1677.9L2107.7 1677.9L2109.4 1677.9L2112.1 1677.9L2112.6 1683.5L2112.6 1794.9Z" fill="#4682b4" stroke="#4682b4" stroke-width="9.2" stroke-linejoin="round"/>
<path d="M286.7 1673.5h0M287.2 1678.2h0M285.4 1683h0M291.7 1656.2h0M292.5 1661h0M291.4 1664.6h0M300.8 1655.1h0M301.1 1658.9h0M299.3 1662.7h0M304.7 1653.8h0M304.8 1657.2h0M304.4 1661.4h0M308.4 1661.9h0M311.6 1653.4h0M312.9 1658.3h0M310.9 1662.5h0M316 1654.9h0M316.7 1659.3h0M320.9 1657.3h0M326.1 1652.4h0M326.9 1656.6h0M330.7 1655.5h0M336.2 1658h0M341 1652.5h0M342.5 1657.2h0M339.9 1660.6h0M344.6 1653h0M343.7 1657.7h0M349.9 1651.2h0M351.1 1655.1h0M349.3 1659.9h0M353.4 1653.1h0M353.3 1657.8h0M356.7 1657h0M361.2 1656.6h0M362.3 1660.4h0M370 1660.7h0M375 1659.9h0M374.8 1663.4h0M379 1654.6h0M378.4 1659.6h0M378.8 1664.6h0M383.3 1658.5h0M384.6 1662.1h0M387.3 1654h0M386.3 1659h0M387.2 1663.3h0M392.6 1653h0M393.1 1657.9h0M391.3 1662.4h0M396.3 1653.7h0M397.5 1658.8h0M396.6 1662.6h0M401.9 1657.8h0M400.9 1662.6h0M407.2 1655.7h0M408.6 1660.3h0M410.4 1655.5h0M410.8 1660.4h0M420.8 1657.2h0M419.9 1661.9h0M425.4 1657.7h0M425 1662.7h0M429 1658.1h0M428.3 1662.6h0M433.8 1660.7h0M437.5 1660.7h0M437 1665.1h0M293.7 1634.8h0M293.2 1639.8h0M293.7 1644.4h0M294.9 1648.1h0M293.5 1652.4h0M293.7 1657h0M293.8 1660.9h0M297.3 1634.8h0M298.2 1638.3h0M298 1642h0M298.1 1646.1h0M297.8 1650.1h0M298 1654.8h0M297.6 1659.9h0M306.1 1626h0M306.9 1630.7h0M307.4 1634.9h0M306 1638.8h0M307.2 1643.6h0M305.3 1648.2h0M307.1 1652.8h0M305.4 1656.7h0M306.3 1660.2h0M316.6 1636.5h0M316.6 1640h0M316.7 1643.5h0M316.3 1647.5h0M315.3 1651.6h0M315.5 1656h0M330.7 1611.9h0M330.2 1616.5h0M329.7 1621.4h0M330.4 1625.5h0M331.2 1630h0M329.9 1633.9h0M330.1 1637.5h0M331 1641h0M331.4 1646h0M331.8 1650h0M331.6 1654.2h0M331.9 1657.9h0M367.7 1622.4h0M367.2 1626h0M367.7 1631h0M367 1634.9h0M367.1 1639h0M367.8 1642.7h0M368.1 1647.5h0M368.8 1651h0M366.9 1654.9h0M368.4 1658.3h0M366.4 1662.5h0M387.1 1631.2h0M387.9 1635.8h0M387.4 1639.4h0M387.2 1644.2h0M386.8 1648.2h0M386.4 1652h0M385.9 1656.6h0M386 1660.7h0M412.6 1631.2h0M413.1 1636.2h0M413.8 1641h0M412.3 1645.7h0M413.2 1649.3h0M413 1653h0M413.1 1657.8h0M432.9 1617.1h0M432.7 1621.5h0M431.8 1626.6h0M434 1631.2h0M433.6 1635.1h0M432.1 1639.4h0M434 1643.5h0M432.3 1647.5h0M431.8 1652.6h0M431.8 1657.7h0M431.8 1661.3h0M341.3 1627.7h0M342 1631.5h0M341.1 1635.1h0M341.7 1638.6h0M340.9 1643h0M341.1 1646.9h0M341.9 1650.7h0M340.2 1655.6h0M342.5 1659.5h0M350.1 1643.6h0M350.4 1647h0M349.4 1652.1h0M350.8 1657.1h0M358.9 1627.7h0M359.8 1631.4h0M357.6 1635.6h0M358.2 1639.3h0M358.9 1644.2h0M358.2 1647.8h0M359.8 1651.3h0M360.1 1656.3h0M358.1 1660h0M399.6 1645.3h0M400.6 1650.4h0M399.2 1654.9h0M400.6 1659.3h0M422.3 1645.3h0M421.6 1649.1h0M421.2 1654.2h0M421.5 1658.9h0M422.1 1662.5h0M287.2 1683.5h0M286.5 1690.3h0M286 1699.3h0M285.9 1708.1h0M287.8 1713.6h0M286.8 1720h0M285.9 1727.6h0M287.8 1734.8h0M286.1 1743.4h0M285.8 1749.6h0M286.3 1758.5h0M288.1 1766.8h0M285.3 1774.6h0M287.1 1780.1h0M285.5 1785.3h0M285.9 1793.4h0M437.8 1676.5h0M439.2 1683.1h0M438.3 1689.1h0M437.8 1697.3h0M437.5 1705h0M438.5 1713.8h0M437.8 1721.7h0M440.2 1729.7h0M438.2 1736.7h0M439.1 1743.6h0M438.7 1752.4h0M438.5 1758.7h0M438.5 1764.7h0M438.7 1771.3h0M439.6 1779.6h0M438.6 1785.8h0M439 1791.3h0M286.7 1797.5h0M293 1796.6h0M301.9 1797.2h0M318.4 1797.9h0M339.1 1796.8h0M355.5 1797.3h0M381 1796.6h0M385 1797.1h0M405.7 1797.8h0M420.3 1797.8h0M427.3 1798.1h0M436.7 1796.7h0M331.1 1607.5h0M336.9 1616.3h0M368.1 1612.2h0M432.9 1597.8h0M305.2 1626h0M399.5 1093.7h0M399.5 1390.1h0M399.5 1412.6h0M305.2 1608.3h0m0 4.4h0M353.1 1601.3h0m0 3.95h0m0 3.95h0m0 3.95h0m0 3.95h0M396.4 1585.4h0m0 4.28h0m0 4.28h0m0 4.28h0m0 4.28h0m0 4.28h0m0 4.28h0m0 4.28h0m0 4.28h0m0 4.28h0m0 4.28h0m0 4.28h0m0 4.28h0m0 4.28h0m0 4.28h0M399.5 1108.4h0m0 5.25h0m0 5.25h0M399.5 1147.5h0m0 3.95h0m0 3.95h0M399.5 1174.6h0m0 4.34h0m0 4.34h0m0 4.34h0m0 4.34h0m0 4.34h0m0 4.34h0m0 4.34h0m0 4.34h0m0 4.34h0m0 4.34h0m0 4.34h0m0 4.34h0m0 4.34h0m0 4.34h0m0 4.34h0m0 4.34h0m0 4.34h0m0 4.34h0m0 4.34h0m0 4.34h0m0 4.34h0m0 4.34h0m0 4.34h0m0 4.34h0m0 4.34h0m0 4.34h0m0 4.34h0m0 4.34h0M399.5 1304.8h0m0 4.15h0m0 4.15h0M399.5 1322.1h0m0 5.3h0M399.5 1338.2h0m0 4.57h0m0 4.57h0m0 4.57h0m0 4.57h0m0 4.57h0m0 4.57h0m0 4.57h0m0 4.57h0M399.5 1423h0m0 4.4h0m0 4.4h0m0 4.4h0m0 4.4h0m0 4.4h0m0 4.4h0m0 4.4h0m0 4.4h0m0 4.4h0m0 4.4h0m0 4.4h0m0 4.4h0m0 4.4h0m0 4.4h0m0 4.4h0m0 4.4h0m0 4.4h0m0 4.4h0m0 4.4h0m0 4.4h0m0 4.4h0m0 4.4h0m0 4.4h0m0 4.4h0m0 4.4h0m0 4.4h0m0 4.4h0m0 4.4h0m0 4.4h0m0 4.4h0m0 4.4h0m0 4.4h0m0 4.4h0m0 4.4h0m0 4.4h0m0 4.4h0m0 4.4h0m0 4.4h0m0 4.4h0m0 4.4h0m0 4.4h0m0 4.4h0m0 4.4h0m0 4.4h0m0 4.4h0m0 4.4h0m0 4.4h0m0 4.4h0m0 4.4h0m0 4.4h0m0 4.4h0m0 4.4h0m0 4.4h0m0 4.4h0m0 4.4h0m0 4.4h0m0 4.4h0m0 4.4h0m0 4.4h0m0 4.4h0m0 4.4h0m0 4.4h0m0 4.4h0M594.5 1668.9h0M594.7 1673.4h0M600.1 1669.6h0M600 1673.3h0M603.8 1671.3h0M608.6 1666.9h0M610.1 1671.7h0M613 1671.3h0M617 1665.9h0M617.6 1669.9h0M618.1 1673.9h0M621.2 1663.6h0M622.6 1667.8h0M622.4 1672.1h0M625.9 1670.3h0M627 1675.1h0M630.9 1666.9h0M629.6 1670.4h0M631.5 1674.3h0M635.8 1664.3h0M636.9 1668.9h0M637.2 1673.1h0M641.1 1667.4h0M641.7 1671.2h0M646 1670h0M647.3 1674.9h0M651 1667.6h0M654.8 1666h0M658.2 1657h0M658.4 1660.9h0M657.2 1665.7h0M662 1664.1h0M663 1669h0M669.1 1671.7h0M674.1 1666.9h0M675.4 1670.8h0M674.8 1674.3h0M678.3 1673.9h0M682.8 1669.2h0M684.1 1674h0M688.2 1672.7h0M692.5 1667.5h0M691.4 1672.1h0M696.1 1669.8h0M695.6 1674.1h0M700 1666.3h0M699.6 1670.1h0M701.5 1675h0M704.5 1667.6h0M705.4 1671.3h0M709.1 1664.1h0M710.1 1667.7h0M713.3 1659.1h0M714 1663.3h0M712.6 1668.3h0M603.8 1611h0M603.7 1614.5h0M604.6 1619.1h0M604.8 1622.8h0M604.6 1626.8h0M602.6 1631h0M602.7 1634.5h0M602.9 1639.6h0M602.6 1643.9h0M602.7 1648.1h0M605 1651.9h0M602.9 1656h0M602.7 1660.3h0M603.4 1665.1h0M602.9 1669.3h0M603.7 1674.1h0M617.9 1657.7h0M617.2 1662.3h0M617 1667.1h0M618.8 1670.6h0M624.9 1657.7h0M624.5 1661.3h0M626.1 1665.3h0M624.3 1669.6h0M624.9 1673.6h0M639.9 1627.7h0M639.4 1632.1h0M640.6 1635.7h0M640.7 1640.3h0M639.5 1644h0M638.8 1647.6h0M639 1651.4h0M640.7 1654.9h0M639.4 1659.3h0M640.7 1662.7h0M640 1667h0M640.7 1670.8h0M670.7 1631.2h0M669.7 1635.5h0M670.8 1640h0M670.2 1645h0M671.4 1648.8h0M670.8 1652.9h0M671.8 1657.8h0M669.7 1662.1h0M671.2 1666h0M671.1 1670.2h0M683.9 1645.3h0M683.7 1650.2h0M684.7 1653.9h0M684.4 1658.4h0M684.9 1662.4h0M684 1667.1h0M684.2 1670.5h0M712.1 1641.8h0M711.9 1645.4h0M712.6 1650.1h0M711.8 1655.1h0M712.8 1658.9h0M710.9 1663.7h0M712.1 1667.5h0M653.1 1645.3h0M652.3 1649.3h0M652.8 1653.9h0M653 1657.6h0M651.9 1662.6h0M652.2 1666.8h0M698.9 1652.4h0M700.2 1657.5h0M699.8 1662.5h0M698.9 1667.5h0M699.7 1671.4h0M594.8 1674.3h0M595.5 1680.4h0M593.6 1686.3h0M593.5 1693.6h0M594.9 1698.8h0M595.4 1704h0M593.8 1712.7h0M593.3 1718.9h0M593.2 1724.2h0M595.8 1729.6h0M593.2 1735.6h0M593.9 1742.1h0M595.3 1748.7h0M593.8 1757.3h0M595.7 1764.2h0M593.4 1773.1h0M593.2 1779.7h0M595.1 1787.6h0M593.4 1793.6h0M713 1668.9h0M713.5 1675.7h0M715.4 1681.4h0M715.2 1688h0M713.1 1695.7h0M713.9 1704h0M713.6 1710.5h0M713.4 1715.6h0M714.9 1724.4h0M715.4 1732.5h0M715.2 1737.8h0M714.9 1745.4h0M714.2 1750.5h0M713.2 1759.2h0M714.8 1767.9h0M712.8 1774.3h0M714.9 1779.3h0M714.8 1787.1h0M714.4 1795.3h0M615.1 1797.4h0M630.4 1798.4h0M636.5 1798h0M665.1 1797.2h0M681.2 1796.3h0M685.9 1796.9h0M698.5 1797.8h0M712.2 1798.6h0M627.6 1612.4h0M662.8 1616.6h0M618.8 1637.8h0M853.4 1656.6h0M854.7 1660.9h0M857.1 1655h0M857.5 1658.8h0M865.9 1659.3h0M869.9 1657.3h0M875.3 1648.8h0M875 1653h0M879.5 1656.9h0M879.3 1661.5h0M883.2 1655.4h0M884.6 1660.2h0M892.1 1664.2h0M893.2 1668.6h0M901.3 1657.6h0M902.7 1662.4h0M904.6 1658.8h0M904.4 1663.9h0M911.6 1657.7h0M911.1 1661.3h0M916.1 1654h0M917.4 1658.7h0M920.3 1649.5h0M921.2 1653.1h0M920.7 1656.5h0M921.6 1660.7h0M923.8 1649.7h0M923.3 1653.8h0M924.7 1657.6h0M927.6 1653.6h0M932.9 1636.5h0M937.8 1633.9h0M937.4 1637.5h0M942.8 1649.6h0M948.3 1653.9h0M949.1 1659h0M953.5 1654.6h0M954.5 1659.2h0M876 1585.4h0M876.4 1588.8h0M875.7 1593.7h0M874.9 1597.9h0M875.5 1601.7h0M875 1606h0M877 1610.9h0M877 1614.7h0M877 1618.6h0M876.2 1622h0M875.4 1627.1h0M876 1632.1h0M876.5 1636.3h0M875.6 1640.3h0M874.7 1644.2h0M876 1648.6h0M877 1653.1h0M885.7 1636.5h0M886.1 1640.3h0M885.3 1644.5h0M886.9 1649.1h0M884.5 1653.5h0M886.9 1657.7h0M885.2 1661.2h0M926.2 1620.7h0M927.1 1625.7h0M926.5 1629.1h0M927.3 1633.8h0M925.2 1637.6h0M926.2 1641.4h0M926.4 1646.4h0M925.4 1650.6h0M925.8 1654.8h0M927.9 1620.7h0M927.1 1625.4h0M927.1 1630.5h0M928.7 1635.4h0M928.5 1640.2h0M927.7 1645.3h0M926.9 1650.1h0M939.4 1603.1h0M939.9 1608.2h0M939.5 1613.3h0M940.5 1617.1h0M940.5 1621.6h0M938.6 1626.1h0M940 1631h0M938.8 1636h0M862.8 1641.8h0M863.5 1646h0M862.2 1650.7h0M863 1655.4h0M863.1 1660.5h0M910.3 1641.8h0M911.5 1645.7h0M911.5 1649.8h0M909.2 1653.3h0M910.2 1657h0M952.6 1629.5h0M953.4 1633.1h0M953.3 1637.9h0M952.2 1642.3h0M953.2 1646.3h0M951.4 1649.8h0M953.1 1654.8h0M953.2 1659h0M852.1 1662.4h0M853.5 1670.7h0M853.8 1679.5h0M852.7 1686.6h0M852.9 1694.4h0M852.1 1701.5h0M854.6 1706.9h0M853.6 1715.7h0M854.7 1722.1h0M854 1730.7h0M852 1739.3h0M853.8 1747.6h0M852.1 1756.6h0M854.4 1764.3h0M852.9 1770.6h0M854.4 1776.7h0M852.8 1782.1h0M852.6 1788.4h0M852.2 1795.5h0M958.7 1665.9h0M958.4 1671.7h0M959 1680.4h0M959.5 1687.6h0M957 1693.7h0M957.9 1700.9h0M958.7 1709.6h0M959.1 1716.9h0M959.9 1724.5h0M959.7 1730h0M957.8 1736.1h0M959.2 1742.3h0M957 1750h0M959.9 1758.8h0M958.1 1766.1h0M959.3 1774.5h0M957.2 1782.7h0M959.2 1790.2h0M857.6 1798.3h0M865.7 1798.5h0M872.9 1797.9h0M879 1796.9h0M885.9 1798.7h0M894.4 1796.4h0M901 1797.3h0M906.6 1798.4h0M911.2 1797.3h0M917.2 1798.7h0M924.2 1797.5h0M938.7 1796.5h0M944.5 1798.5h0M854.3 1522.4h0M854.3 1600.4h0M876 1577h0M958.8 1611.9h0M860.1 1634.8h0M919.1 1621.2h0M885.7 1637.4h0M854.3 1548.5h0m0 4.4h0m0 4.4h0m0 4.4h0m0 4.4h0M854.3 1576.6h0m0 4.4h0M854.3 1610.1h0m0 4.58h0m0 4.58h0m0 4.58h0m0 4.58h0m0 4.58h0m0 4.58h0m0 4.58h0m0 4.58h0m0 4.58h0m0 4.58h0M927.9 1550.2h0m0 4.13h0m0 4.13h0m0 4.13h0M927.9 1582.8h0m0 4.6h0m0 4.6h0m0 4.6h0m0 4.6h0m0 4.6h0m0 4.6h0m0 4.6h0m0 4.6h0m0 4.6h0M1084.2 1656.1h0M1084.2 1660.7h0M1089.8 1657.5h0M1090.2 1662h0M1090.9 1667.1h0M1102.6 1675.6h0M1106.7 1674.3h0M1107.4 1678.5h0M1115.7 1674.5h0M1120 1669.3h0M1119.9 1674.2h0M1120.4 1677.9h0M1123.4 1668.9h0M1122.3 1673.5h0M1126.7 1666.4h0M1126.4 1671.6h0M1128.1 1676h0M1132.1 1669h0M1130.8 1673.4h0M1135.5 1671.6h0M1136.8 1675.2h0M1140.6 1673.1h0M1140.8 1678.2h0M1146.2 1669.3h0M1146.3 1673.8h0M1145.4 1677.6h0M1151.5 1668.9h0M1150.3 1672.4h0M1152.4 1677.1h0M1155.8 1671.3h0M1156.9 1675.7h0M1161 1668.2h0M1161.4 1672.5h0M1159.8 1677.4h0M1166.3 1676.3h0M1173.1 1672.4h0M1171.8 1677.4h0M1090 1610.1h0M1090.7 1614.7h0M1090.2 1619.9h0M1089.5 1624.6h0M1091 1628.3h0M1090.7 1632.3h0M1090.5 1636.7h0M1090.2 1641.3h0M1090 1645.7h0M1090.1 1650.3h0M1089.4 1654.4h0M1089.2 1658.8h0M1089.1 1663.3h0M1091.2 1666.7h0M1121.7 1655.9h0M1122.6 1659.8h0M1120.8 1663.9h0M1121.9 1667.7h0M1121.5 1671.8h0M1122.7 1675.5h0M1127 1655.9h0M1126.1 1660.4h0M1127.4 1665.2h0M1127.3 1668.6h0M1126.9 1672.5h0M1126.5 1676.8h0M1145.5 1638.3h0M1145.6 1642.9h0M1144.5 1647.2h0M1145.9 1652.1h0M1145.3 1655.7h0M1146 1659.4h0M1144.9 1663.3h0M1144.9 1667.1h0M1145.8 1670.5h0M1145.3 1674.1h0M1162.3 1620.7h0M1161.9 1624.9h0M1163.2 1628.9h0M1162.2 1632.3h0M1161.3 1636.7h0M1163.5 1641.6h0M1162 1645.3h0M1161.9 1648.7h0M1163.6 1653.1h0M1162.6 1656.6h0M1162.2 1660.1h0M1161 1665h0M1161.9 1668.6h0M1161.9 1672.1h0M1161.2 1675.8h0M1102.3 1652.4h0M1101.3 1656.9h0M1102 1662.1h0M1102 1666.7h0M1101.6 1671.1h0M1103.3 1675.9h0M1171.1 1659.4h0M1171.3 1664.2h0M1170 1668.7h0M1171 1673.2h0M1171.1 1677.5h0M1082.8 1661.8h0M1084.3 1670.1h0M1084.8 1676.4h0M1083.2 1684.6h0M1085.4 1692.8h0M1084.2 1701.4h0M1085.7 1709.4h0M1084.3 1716.3h0M1084.1 1724.6h0M1085.3 1732.9h0M1085.2 1741.7h0M1083.1 1748.2h0M1085.2 1754.5h0M1083.7 1759.8h0M1084.9 1768.5h0M1083.4 1776.5h0M1082.7 1785.2h0M1083.3 1791.9h0M1174.3 1677.9h0M1173.3 1684.9h0M1175.1 1690.7h0M1175.9 1695.9h0M1176.1 1704.3h0M1173.3 1712.7h0M1173.3 1718.2h0M1173.7 1723.6h0M1174.9 1731.8h0M1175 1737.4h0M1175.7 1745h0M1175.2 1752.8h0M1174.4 1760.9h0M1174.1 1767.9h0M1174.2 1776.7h0M1176 1782.4h0M1174.6 1790.8h0M1088.9 1797.6h0M1105.2 1796.6h0M1111.3 1798.7h0M1116.9 1796.8h0M1121.6 1797.9h0M1128.1 1796.4h0M1134.5 1796.7h0M1140 1796.9h0M1146.6 1798.6h0M1151.6 1797.6h0M1156.2 1797.9h0M1162.5 1797.3h0M1133.6 1646.7h0M1162.3 1607.5h0M1170.2 1617.1h0M1147.3 1616.3h0M1147.3 1621.6h0M1134.1 1646.2h0M1170.2 1636.5h0M1173.7 1641.8h0M1162.4 1482h0M1162.4 1494.5h0M1162.4 1509.1h0M1090 1574h0m0 4.62h0m0 4.62h0m0 4.62h0m0 4.62h0M1162.3 1586.3h0m0 3.55h0m0 3.55h0M1162.4 1343.6h0m0 4.88h0m0 4.88h0m0 4.88h0m0 4.88h0M1162.4 1405.5h0m0 4.15h0m0 4.15h0M1162.4 1464.9h0m0 3.55h0m0 3.55h0M1288.4 1654.2h0M1287.4 1658.2h0M1287.1 1662.6h0M1292.4 1656.7h0M1291 1661.9h0M1293.8 1665.3h0M1298 1658.6h0M1298.7 1662.5h0M1301.8 1654.3h0M1301.7 1658.1h0M1301.3 1661.5h0M1306 1662.8h0M1318.2 1656.4h0M1316.9 1660.5h0M1318.2 1664.1h0M1323.7 1653.4h0M1323.7 1657.1h0M1324.8 1662.2h0M1331.5 1648.9h0M1331.1 1653.3h0M1334.7 1649.6h0M1335.7 1654.6h0M1343.6 1653.6h0M1344.2 1657.9h0M1347.8 1651.2h0M1348.6 1656.1h0M1351.3 1657.5h0M1360.1 1655h0M1358.7 1659.8h0M1359.4 1663.7h0M1287.3 1641.8h0M1286.8 1646.9h0M1286.8 1650.5h0M1286.9 1654.9h0M1288 1659.3h0M1288.6 1663.2h0M1297.9 1627.7h0M1298.2 1632.2h0M1298.8 1636.6h0M1298.3 1640.7h0M1299.1 1644.2h0M1298 1648.4h0M1298.9 1653.5h0M1298.1 1658.6h0M1297.2 1662.9h0M1301.4 1627.7h0M1302.6 1631.3h0M1302.5 1635.9h0M1301.2 1641h0M1300.7 1645.3h0M1300.6 1650.2h0M1302.3 1654.6h0M1302 1658.4h0M1301.1 1662.7h0M1322.5 1638.3h0M1322.2 1642.1h0M1322.8 1645.6h0M1321.9 1649.7h0M1321.4 1654.4h0M1323 1658.4h0M1323.7 1663.3h0M1328.7 1620.7h0M1328.1 1625h0M1328.5 1628.4h0M1328.1 1633h0M1329.3 1638.2h0M1327.9 1643.3h0M1328.6 1647.5h0M1327.7 1652.2h0M1329.2 1657.1h0M1329.6 1661.6h0M1337.5 1638.3h0M1338.3 1642.6h0M1338.5 1646.1h0M1337.1 1649.6h0M1338 1654.5h0M1336.3 1658.1h0M1341.9 1638.3h0M1341.3 1643.2h0M1341.4 1647.6h0M1341.9 1651.4h0M1341.1 1655.2h0M1354.2 1617.1h0M1354.5 1621.2h0M1354.8 1625.8h0M1353 1630.7h0M1353.7 1635.7h0M1353.6 1640h0M1353.6 1645h0M1353.5 1648.9h0M1353.2 1653.3h0M1355.2 1658.2h0M1354.1 1661.7h0M1358.6 1617.1h0M1357.4 1621.7h0M1357.6 1626.2h0M1358.7 1630.8h0M1359.4 1634.7h0M1359.6 1639.9h0M1359.2 1644h0M1358.3 1649h0M1359.5 1653.2h0M1357.8 1656.6h0M1358.2 1660.6h0M1283 1678.2h0M1283.6 1686.7h0M1283.9 1692.5h0M1282.7 1698.5h0M1282.3 1707.4h0M1282.3 1714.4h0M1282.7 1720.2h0M1283.5 1728.2h0M1284.5 1735.3h0M1282.5 1740.3h0M1282.3 1748.2h0M1284.2 1756.6h0M1282.8 1764h0M1283.9 1769.6h0M1282.3 1775.7h0M1282.4 1781.9h0M1284.4 1788.7h0M1283.4 1794h0M1363.8 1676.5h0M1365.5 1682h0M1363.4 1690.9h0M1365.4 1699.3h0M1365 1707.3h0M1364.4 1713.2h0M1364.2 1721.6h0M1363.6 1728.7h0M1366 1734.8h0M1366.2 1741.1h0M1366.3 1749.1h0M1364.2 1756.1h0M1363.4 1761.4h0M1364.5 1769.3h0M1364.5 1777.5h0M1365.7 1786.5h0M1365.4 1793.9h0M1290.4 1797.9h0M1295.5 1796.4h0M1306.6 1796.4h0M1313.4 1797h0M1327.4 1796.9h0M1333.4 1796.8h0M1341.6 1798.7h0M1348.4 1797h0M1354.3 1797.9h0M1300.5 1602.2h0M1293.5 1612.4h0M1300.5 1612.4h0M1345.1 1570.5h0M1345.1 1593.4h0M1287.3 1640.9h0M1358.3 1509.4h0M1325.2 1579.3h0m0 4.54h0m0 4.54h0m0 4.54h0m0 4.54h0m0 4.54h0m0 4.54h0m0 4.54h0m0 4.54h0m0 4.54h0m0 4.54h0m0 4.54h0m0 4.54h0m0 4.54h0M1337.5 1564.3h0m0 4.35h0m0 4.35h0m0 4.35h0m0 4.35h0m0 4.35h0m0 4.35h0m0 4.35h0m0 4.35h0m0 4.35h0m0 4.35h0m0 4.35h0m0 4.35h0m0 4.35h0m0 4.35h0m0 4.35h0m0 4.35h0m0 4.35h0M1358.3 1048.9h0m0 4.15h0m0 4.15h0M1358.3 1074.7h0m0 3.9h0m0 3.9h0m0 3.9h0M1358.3 1447.6h0m0 5.3h0M1358.3 1465.4h0m0 5.8h0M1358.3 1485.3h0m0 4.2h0M1358.3 1523.6h0m0 4.41h0m0 4.41h0m0 4.41h0m0 4.41h0m0 4.41h0m0 4.41h0m0 4.41h0m0 4.41h0m0 4.41h0m0 4.41h0m0 4.41h0m0 4.41h0m0 4.41h0m0 4.41h0m0 4.41h0m0 4.41h0m0 4.41h0m0 4.41h0m0 4.41h0m0 4.41h0m0 4.41h0m0 4.41h0m0 4.41h0m0 4.41h0m0 4.41h0m0 4.41h0m0 4.41h0m0 4.41h0m0 4.41h0m0 4.41h0m0 4.41h0m0 4.41h0m0 4.41h0m0 4.41h0m0 4.41h0m0 4.41h0m0 4.41h0m0 4.41h0m0 4.41h0m0 4.41h0M1475.3 1664.1h0M1476.1 1669.2h0M1480.5 1662.8h0M1481.7 1666.9h0M1481.9 1671.7h0M1490.8 1664.8h0M1492.2 1670h0M1495.7 1667.3h0M1500.7 1664.4h0M1499.8 1669.3h0M1509.4 1667.8h0M1520 1660.6h0M1521 1665.2h0M1521.5 1669.1h0M1523.8 1667.5h0M1522.7 1671.9h0M1532.1 1661.8h0M1530.6 1666.1h0M1530.9 1671h0M1537.4 1669.1h0M1541.1 1665.8h0M1539.9 1669.8h0M1545.9 1666.7h0M1544.8 1671.5h0M1550.3 1659.9h0M1549.7 1664.6h0M1551.3 1669.3h0M1484.7 1617.1h0M1483.8 1621.4h0M1485.6 1625.3h0M1483.5 1628.9h0M1484.8 1632.6h0M1485.4 1636.1h0M1485.7 1639.9h0M1485.2 1644.1h0M1485.8 1648.6h0M1484.6 1653.6h0M1485.3 1657.7h0M1485.2 1662.4h0M1484 1666.8h0M1519.9 1634.8h0M1520.3 1639.7h0M1520.4 1644.5h0M1520.3 1647.9h0M1520.2 1651.5h0M1518.8 1655h0M1519.2 1658.5h0M1520.5 1662.2h0M1518.8 1666.6h0M1521 1670.3h0M1540.7 1597.8h0M1540.8 1602.3h0M1541.3 1605.9h0M1540.6 1610h0M1540.9 1614.6h0M1541 1619.2h0M1541.2 1624.1h0M1539.6 1628.3h0M1540.6 1632.6h0M1540.9 1637.7h0M1541.2 1642h0M1540.6 1646.2h0M1541.9 1650.9h0M1540.8 1655.7h0M1541.4 1659.2h0M1541.2 1663.1h0M1541.5 1668.2h0M1472.3 1640h0M1472.5 1643.8h0M1471.4 1648.2h0M1471.5 1653h0M1472.6 1657.5h0M1472.9 1661.7h0M1471.7 1666.1h0M1473 1670.2h0M1507.6 1645.3h0M1506.5 1650h0M1508.1 1653.9h0M1507.7 1658.8h0M1507.4 1663.7h0M1507.4 1667.8h0M1549.8 1638.3h0M1549.7 1643.4h0M1549.6 1648.5h0M1550.6 1652.9h0M1549.4 1656.6h0M1549.3 1660.9h0M1548.9 1665.8h0M1550.9 1670.2h0M1469.8 1687h0M1470.6 1693.9h0M1470.3 1700h0M1470.4 1708.8h0M1470.3 1714.8h0M1469.8 1722.7h0M1471.9 1730.9h0M1469.7 1736.1h0M1470.8 1743.1h0M1470.3 1750.5h0M1472.4 1756.4h0M1472.1 1764.6h0M1469.9 1771.8h0M1472.3 1777.9h0M1471.7 1783.3h0M1472.4 1790.8h0M1552.2 1683.5h0M1553.9 1688.9h0M1552 1696.8h0M1554.6 1703h0M1551.9 1709.9h0M1554 1715.6h0M1552.6 1722.8h0M1552.1 1728.1h0M1554.1 1734.5h0M1553.1 1739.9h0M1553.7 1747.1h0M1553.5 1755.7h0M1554.4 1763.9h0M1554.8 1772.2h0M1553.8 1779.6h0M1552.2 1785.3h0M1553 1792.5h0M1470.9 1796.6h0M1479.7 1798.3h0M1484.7 1797.6h0M1491.7 1796.4h0M1496.8 1798.7h0M1514 1797.1h0M1522.7 1798.2h0M1527 1796.4h0M1533.8 1798h0M1539.7 1797.8h0M1546.4 1798.3h0M1546.3 1548.8h0M1547.2 1574h0M1496.1 1642.2h0M1551.6 1639.2h0M1660.3 1666.4h0M1661 1671.5h0M1659.9 1675.3h0M1663.6 1672.3h0M1662.2 1676.3h0M1668.7 1670.4h0M1667.3 1674.4h0M1667.7 1678.5h0M1677.3 1669.6h0M1678 1673.8h0M1677.5 1678.4h0M1682.6 1674.3h0M1681.7 1678.4h0M1686.2 1669.4h0M1686.8 1673.1h0M1686.1 1678.2h0M1699.1 1673.2h0M1708.3 1670.3h0M1706.8 1675.2h0M1709.4 1679.3h0M1664.3 1651.5h0M1665 1656.4h0M1663.6 1660.4h0M1663.4 1664h0M1663.2 1667.6h0M1664.4 1672.3h0M1689 1648.8h0M1689.9 1653.4h0M1688.8 1657.3h0M1688.3 1662.2h0M1688.9 1666h0M1688.8 1669.5h0M1689.5 1673.4h0M1690.2 1678.4h0M1655.8 1659.4h0M1656.9 1663.4h0M1656 1668.1h0M1654.9 1672.1h0M1676.6 1655.9h0M1677.2 1659.3h0M1675.4 1664.1h0M1676 1669.2h0M1677.8 1674.3h0M1677.4 1677.8h0M1703 1654.1h0M1701.9 1658.3h0M1704.2 1662.9h0M1701.8 1667.2h0M1703.7 1671.3h0M1704.3 1675.5h0M1703.9 1679h0M1656 1675.9h0M1656.3 1684.3h0M1655.5 1689.8h0M1657.1 1696.3h0M1655.7 1705h0M1655.8 1710h0M1656.8 1717.2h0M1656.9 1724h0M1655.5 1732.8h0M1657.1 1741.1h0M1656.4 1746.7h0M1656.3 1753.8h0M1656.7 1759.7h0M1656.6 1766.2h0M1655.5 1772.4h0M1656.6 1780.7h0M1656.9 1788.4h0M1655.5 1795.3h0M1710 1683.5h0M1708.2 1691.4h0M1709 1698.8h0M1710.4 1704.4h0M1710.1 1710h0M1710.4 1715.6h0M1709 1724.1h0M1709.7 1731.2h0M1709 1737.1h0M1708.8 1745.4h0M1709.4 1754h0M1708.7 1760.5h0M1709 1768.4h0M1709.9 1776.4h0M1710.2 1783.7h0M1709 1792.5h0M1660.9 1798h0M1677.5 1796.9h0M1686 1798.4h0M1699.8 1798.4h0M1704.1 1796.6h0M1708.4 1796.8h0M1676.3 1615h0M1676.3 1626h0M1676.3 1636.5h0M1676.3 1641.8h0M1699.2 1590.4h0M1664.3 1640.4h0M1688.1 1640.9h0M1699.5 1640.4h0M1676.3 1574.9h0m0 4.62h0m0 4.62h0m0 4.62h0m0 4.62h0M1793.4 1683.6h0M1794 1688.8h0M1793.3 1692.2h0M1797.6 1685h0M1798 1688.8h0M1796.7 1693.2h0M1802.4 1686.6h0M1802.7 1691h0M1803 1695.1h0M1789.2 1587.2h0M1790.1 1592h0M1790 1596.2h0M1788.2 1600.3h0M1790.1 1605.3h0M1789.8 1609.3h0M1788.5 1614.4h0M1788.2 1618.4h0M1789.8 1622.2h0M1789.8 1626.4h0M1790 1630.3h0M1788.9 1635.1h0M1788.4 1639.5h0M1790.1 1644.2h0M1788.8 1649.2h0M1789.8 1654.4h0M1788.8 1658.4h0M1790.4 1662.7h0M1790.2 1667.5h0M1789.3 1672.1h0M1789.6 1676.2h0M1789.3 1680.4h0M1789 1684.3h0M1789.5 1688h0M1801.2 1673.5h0M1800.1 1677.1h0M1801.8 1680.7h0M1802.2 1685.7h0M1802.4 1690h0M1799.9 1695.1h0M1789.9 1690h0M1790.7 1696.2h0M1789.4 1703h0M1787.7 1708.7h0M1787.9 1714h0M1789.2 1719.7h0M1789.9 1726.9h0M1790.6 1735.1h0M1789 1740.8h0M1788.9 1746.7h0M1789.2 1753.7h0M1790 1759.3h0M1790.3 1768h0M1788.8 1773.5h0M1788 1779h0M1790.2 1787.4h0M1790.4 1794.4h0M1808.9 1695.3h0M1808.5 1702.7h0M1807.3 1708h0M1808 1714.7h0M1807.4 1719.8h0M1807 1726.9h0M1808.7 1734.1h0M1808 1742.7h0M1807.7 1748.2h0M1809.4 1755.1h0M1807.9 1760.1h0M1809 1765.3h0M1808.9 1771.7h0M1808.1 1779.1h0M1808.9 1788.1h0M1809.2 1795.6h0M1789.2 1797.1h0M1802.7 1797.2h0M1807.9 1796.7h0M1791 1521.7h0M1789.4 1571h0M1795.1 1655h0M1802.1 1664.7h0M1808.3 1657.7h0M1819.2 1670.7h0M1818.1 1674.9h0M1824.4 1667.3h0M1824.4 1671.1h0M1824.7 1675.5h0M1833.4 1670.3h0M1833.5 1674h0M1833.8 1677.9h0M1840.7 1667.8h0M1840.5 1672.5h0M1841 1676h0M1846 1671.2h0M1822.4 1640h0M1821.7 1643.6h0M1823.6 1648.6h0M1821.3 1653.3h0M1822.7 1657.8h0M1821.6 1661.2h0M1823.6 1665.9h0M1822.5 1669.5h0M1822.2 1674.6h0M1841.7 1645.3h0M1840.4 1649.2h0M1841.4 1653.6h0M1843 1658.3h0M1840.5 1662.6h0M1841.3 1667.1h0M1842 1672h0M1842.7 1675.9h0M1844.7 1645.3h0M1843.7 1648.9h0M1844.6 1653.8h0M1845.5 1657.4h0M1844.4 1661.8h0M1845.3 1665.7h0M1845.2 1670.2h0M1819.4 1677.9h0M1819.1 1686.1h0M1820 1694.8h0M1818 1702.4h0M1819 1710.6h0M1818.3 1717.4h0M1817.9 1725.9h0M1819.9 1734.4h0M1818.8 1740.6h0M1817.8 1747.8h0M1818 1754h0M1818.6 1761.3h0M1818.2 1766.4h0M1819.4 1771.7h0M1817.8 1777.5h0M1819.6 1785.3h0M1818.8 1791.5h0M1845.7 1672.4h0M1846.4 1679.1h0M1846.4 1687.7h0M1846.6 1696.5h0M1845.9 1705.4h0M1847.5 1710.7h0M1847.2 1719.7h0M1847.3 1728.1h0M1845.8 1736.4h0M1846.6 1745.1h0M1846 1752.3h0M1847.3 1758.5h0M1845.8 1766.5h0M1847.2 1773.1h0M1845.3 1780.3h0M1845.4 1789h0M1845.9 1795.6h0M1819.2 1798.4h0M1843.2 1796.4h0M1845.3 1547.1h0M1845.6 1577.5h0M1829.9 1604.3h0M1829.9 1621.9h0M1822.9 1627.7h0M1835.6 1640h0M1844.7 1587.2h0m0 4.29h0m0 4.29h0m0 4.29h0m0 4.29h0m0 4.29h0m0 4.29h0m0 4.29h0m0 4.29h0m0 4.29h0m0 4.29h0m0 4.29h0m0 4.29h0m0 4.29h0m0 4.29h0m0 4.29h0m0 4.29h0M1909.9 1674.7h0M1908.7 1678.2h0M1913.9 1667.5h0M1913.4 1672.2h0M1913.4 1677h0M1919.2 1673.3h0M1918.4 1676.9h0M1918.5 1682h0M1922.5 1667.5h0M1921.3 1672.4h0M1923.2 1676.3h0M1926.2 1667.6h0M1926.6 1672.5h0M1926.1 1676.6h0M1931.5 1664.9h0M1930.9 1668.8h0M1932.2 1672.5h0M1940.7 1670.2h0M1940 1673.9h0M1945.6 1672.9h0M1950.2 1666.3h0M1950 1671h0M1949.8 1674.4h0M1954 1663.5h0M1955.2 1668.2h0M1953.2 1672h0M1909.9 1641.8h0M1910.6 1645.9h0M1909 1649.8h0M1910.2 1653.7h0M1911.1 1658.3h0M1910.1 1662.8h0M1910.9 1667.4h0M1909.8 1671.5h0M1908.9 1676h0M1928.9 1638.3h0M1930.1 1641.7h0M1927.8 1646.4h0M1929 1651.2h0M1930.1 1654.6h0M1927.8 1658.3h0M1928.3 1662.8h0M1928.5 1666.9h0M1929.3 1671.3h0M1928.5 1675.4h0M1954.4 1645.3h0M1953.6 1649.4h0M1954.3 1653h0M1954.6 1657.2h0M1955.5 1661.1h0M1955.7 1665.1h0M1954.3 1669.6h0M1956.2 1645.3h0M1955.6 1649.5h0M1956.5 1653.5h0M1956.8 1658.1h0M1955.9 1663.2h0M1956.6 1667.3h0M1957 1671.8h0M1938.6 1657.7h0M1937.9 1662.4h0M1937.3 1667.5h0M1937.7 1671.7h0M1909.7 1677.9h0M1910.6 1685.4h0M1908.4 1691.2h0M1908.6 1696.4h0M1910.6 1703.2h0M1910.4 1709.2h0M1910.2 1717.1h0M1909.1 1726h0M1909 1734h0M1908.8 1740.6h0M1910 1747.9h0M1910 1756.4h0M1908.5 1762.2h0M1908.9 1770.5h0M1909.3 1777.8h0M1910.4 1784h0M1908.5 1792.4h0M1957.1 1672.4h0M1956.2 1679.2h0M1956 1684.3h0M1955.2 1692h0M1957 1697.4h0M1956.5 1705.6h0M1956.9 1711.1h0M1956.2 1716.4h0M1955.8 1723.8h0M1956.3 1732.6h0M1956.1 1740.3h0M1955.7 1746.2h0M1955.9 1751.3h0M1957.1 1759.1h0M1956.5 1767.8h0M1956.9 1773.4h0M1957 1778.9h0M1954.8 1786.9h0M1955 1792.5h0M1909.9 1798.4h0M1920.1 1796.4h0M1928.8 1797.5h0M1935 1798.1h0M1942.7 1797.5h0M1948.7 1798.1h0M1954.5 1796.6h0M1943.4 1600.8h0M1938.2 1624.2h0M1956.2 1618.9h0m0 4.62h0m0 4.62h0m0 4.62h0m0 4.62h0m0 4.62h0m0 4.62h0m0 4.62h0m0 4.62h0M2005.5 1672.6h0M2006.2 1677.7h0M2004.3 1681.5h0M2016 1677.4h0M2016.4 1682.2h0M2020 1679.2h0M2020.7 1683.2h0M2023.6 1681.8h0M2028.7 1677.4h0M2027.6 1682.4h0M2014.3 1654.1h0M2015.4 1658.1h0M2015.2 1662.9h0M2013.5 1667.1h0M2013 1670.6h0M2014.8 1675.5h0M2015.4 1680.3h0M2021.4 1652.4h0M2022.1 1657.1h0M2021.3 1661h0M2022.6 1665.2h0M2020.5 1669h0M2022.4 1673.1h0M2022.7 1677.6h0M2021.6 1681.1h0M2024.5 1652.4h0M2023.5 1657h0M2025.1 1661.4h0M2024.2 1665h0M2024.5 1669.3h0M2024.1 1673.1h0M2024.9 1677.7h0M2024.5 1682.6h0M2028.4 1652.4h0M2028.7 1656.2h0M2028.4 1660.3h0M2027.4 1664.5h0M2029.1 1668.3h0M2028.4 1672.1h0M2028.2 1676.1h0M2029.3 1680.7h0M2042.5 1657.7h0M2043.1 1661.8h0M2041.6 1665.6h0M2043.3 1669.2h0M2043.8 1674.1h0M2005.5 1661.2h0M2005.6 1664.7h0M2005 1669.3h0M2005.6 1672.9h0M2005.9 1677.7h0M2005.4 1682.3h0M2006.2 1683h0M2006.5 1689h0M2006 1696.6h0M2004.2 1704.6h0M2004.3 1710.1h0M2005.7 1715.7h0M2006.1 1721.1h0M2005 1729.2h0M2006 1734.6h0M2005.6 1741h0M2006.9 1747.7h0M2005.7 1753.5h0M2006.7 1761.9h0M2007 1768.9h0M2004.4 1774.8h0M2004.7 1780.6h0M2004.3 1788.1h0M2006.3 1793.9h0M2042.9 1677.7h0M2043.8 1684.8h0M2041.7 1691.3h0M2042.5 1697.4h0M2042 1706h0M2042.4 1712.9h0M2042.8 1720.7h0M2042.3 1726.3h0M2041.4 1734.9h0M2041.3 1741.1h0M2041 1746.4h0M2041.7 1754.5h0M2041 1761h0M2041.2 1770h0M2041.2 1776.2h0M2042.5 1782.3h0M2042.4 1789.7h0M2005.5 1796.6h0M2019 1797.7h0M2024.9 1798h0M2033.5 1796.5h0M2038.5 1796.8h0M2024.5 1542.3h0M2013.8 1591.6h0M2008.2 1645.7h0M2024.5 1583.7h0m0 4.51h0m0 4.51h0m0 4.51h0m0 4.51h0m0 4.51h0m0 4.51h0m0 4.51h0m0 4.51h0m0 4.51h0m0 4.51h0m0 4.51h0m0 4.51h0m0 4.51h0m0 4.51h0m0 4.51h0m0 4.51h0M2092.2 1676h0M2101.8 1672.2h0M2100.8 1677.3h0M2109.4 1676.4h0M2092.7 1638.3h0M2093.8 1642.9h0M2093.5 1647.7h0M2091.4 1651.2h0M2093.2 1655.5h0M2093.3 1660.7h0M2093.2 1665.3h0M2092.5 1670.1h0M2092 1674.1h0M2109.4 1636.5h0M2108.4 1640.2h0M2108.2 1645h0M2108.4 1648.5h0M2109.2 1653.7h0M2110.4 1657.8h0M2108.8 1661.5h0M2108.6 1666h0M2108.2 1669.5h0M2109.7 1674.3h0M2093.1 1678.2h0M2093.7 1685.4h0M2091.1 1693.9h0M2093.6 1702.7h0M2092.8 1708.1h0M2092.9 1717.1h0M2093.1 1725.7h0M2091.6 1732.2h0M2092.7 1737.4h0M2092.2 1745.4h0M2093.3 1752.2h0M2092.9 1760.1h0M2093.7 1768.7h0M2091.7 1775.3h0M2092.4 1782.3h0M2092.7 1788.4h0M2091.7 1793.6h0M2111.2 1683.5h0M2112.4 1689.7h0M2113.8 1696.8h0M2112.6 1702.7h0M2113.2 1707.9h0M2113.4 1713.4h0M2114.1 1721.9h0M2112.6 1728.9h0M2112 1736.8h0M2113.4 1743.9h0M2112.8 1749.2h0M2113.9 1754.7h0M2111.2 1763.4h0M2113.7 1772h0M2113.8 1779h0M2112.1 1784.9h0M2113.4 1792h0M2106 1797.2h0M2101.5 1613.6h0M2108.6 1627.7h0M2096 1492.7h0M2101 1614.4h0M2109 1627h0M2096 1514.5h0m0 4.32h0m0 4.32h0m0 4.32h0m0 4.32h0m0 4.32h0m0 4.32h0m0 4.32h0m0 4.32h0m0 4.32h0m0 4.32h0m0 4.32h0m0 4.32h0m0 4.32h0m0 4.32h0m0 4.32h0m0 4.32h0m0 4.32h0" fill="none" stroke="#4682b4" stroke-width="9.8" stroke-linecap="round"/>
<path d="M112.2 1497.5H2117.2" stroke="#e8181f" stroke-width="2.45" stroke-dasharray="7.5 7.53" stroke-dashoffset="-0.35" fill="none"/>
<path d="M96.6 1049.5H112.2V1813M96.6 1798.5H2116.2V1813M96.6 1723.2H112.2M96.6 1648H112.2M96.6 1572.7H112.2M96.6 1497.5H112.2M96.6 1422.2H112.2M96.6 1346.9H112.2M96.6 1271.7H112.2M96.6 1196.4H112.2M96.6 1121.2H112.2M429.4 1798.5V1813M745.8 1798.5V1813M1062.4 1798.5V1813M1379.2 1798.5V1813M1696.7 1798.5V1813M2013.4 1798.5V1813" stroke="#888888" stroke-width="2.2" fill="none"/>
<g class="tk" text-anchor="end" transform="scale(0.965 1)">
<text x="92.8" y="1808.3">0</text>
<text x="92.8" y="1733">2</text>
<text x="92.8" y="1657.8">4</text>
<text x="92.8" y="1582.5">6</text>
<text x="92.8" y="1507.3">8</text>
<text x="92.8" y="1432">10</text>
<text x="92.8" y="1356.7">12</text>
<text x="92.8" y="1281.5">14</text>
<text x="92.8" y="1206.2">16</text>
<text x="92.8" y="1131">18</text>
</g><g class="tk xl" text-anchor="middle" transform="scale(0.98 1)">
<text x="204" y="1849.6">1</text>
<text x="378.8" y="1849.6">2</text>
<text x="535.4" y="1849.6">3</text>
<text x="673.7" y="1849.6">4</text>
<text x="805.6" y="1849.6">5</text>
<text x="930.8" y="1849.6">6</text>
<text x="1047.3" y="1849.6">7</text>
<text x="1155.8" y="1849.6">8</text>
<text x="1257.9" y="1849.6">9</text>
<text x="1355.3" y="1849.6">10</text>
<text x="1452.1" y="1849.6">11</text>
<text x="1547.9" y="1849.6">12</text>
<text x="1636.4" y="1849.6">13</text>
<text x="1715.5" y="1849.6">14</text>
<text x="1789.9" y="1849.6">15</text>
<text x="1858.4" y="1849.6">16</text>
<text x="1919.3" y="1849.6">17</text>
<text x="1975.6" y="1849.6">18</text>
<text x="2024.6" y="1849.6">19</text>
<text x="2067.4" y="1849.6">20</text>
<text x="2107.1" y="1849.6">21</text>
<text x="2141.8" y="1849.6">22</text>
</g>
<text class="at" text-anchor="middle" x="1114" y="1886.7">Chromosome</text>
<text class="at" style="font-size:29.8px" text-anchor="middle" transform="translate(25 1425) rotate(-90)">-log10 P-value</text>
<g class="an" text-anchor="middle" transform="scale(0.952 1)">
<text x="133.2" y="1314.6" clip-path="url(#k1798_0)">1</text>
<text x="420.5" y="1024.8">4</text>
<text x="1222.7" y="1327.3">9</text>
<text x="1433.6" y="1024.8" clip-path="url(#k1798_3)">10</text>
<text x="2205.9" y="1472.2" clip-path="url(#k1798_4)">16</text>
</g>
<defs><clipPath id="k1798_0"><path d="M117.51 1272.6H148.87V1309.01H117.51ZM131.17 1308.01H137.23V1317.6H131.17Z"/></clipPath><clipPath id="k1798_3"><path d="M1406.26 982.8H1460.97V1019.21H1406.26ZM1419.91 1018.21H1425.97V1027.8H1419.91ZM1433.61 1018.21H1460.97V1027.8H1433.61Z"/></clipPath><clipPath id="k1798_4"><path d="M2178.52 1430.2H2233.24V1466.61H2178.52ZM2192.18 1465.61H2198.24V1475.2H2192.18ZM2205.88 1465.61H2233.24V1475.2H2205.88Z"/></clipPath></defs>
<text class="ti" text-anchor="middle" style="letter-spacing:0.6px" transform="scale(0.9867 1)" x="1112.6" y="1021.4">LVESV (MTAG9)</text>
<text class="le" style="font-size:73.2px" transform="scale(0.94 1)" x="18.9" y="1024.8">B</text>
<g filter="url(#bl)">
<path d="M1712.3 1392.4L2019.2 1290.3" stroke="#e8414a" stroke-width="1.4" stroke-dasharray="2.5 2.9" fill="none"/>
<path d="M1712.3 1392.4L1758.9 1376.3L1787.1 1366.5L1805.3 1359.3L1826.2 1349.5L1851.9 1336.6L1865.4 1328.3L1875.2 1319.5L1881 1313.7L1886.9 1308.8L1892.8 1303.9L1898.7 1301.9L1902.6 1298L1906.5 1290.2L1910.4 1282.3L1914.3 1280.4L1917.3 1275.5L1920.2 1272.5L1921.2 1264.7L1922.1 1257.9L1926.1 1251L1929 1245.1L1930 1237.3L1931.9 1229.5L1932.3 1223.6" stroke="#6b6b6b" stroke-opacity="0.9" stroke-width="3.7" stroke-linecap="round" stroke-linejoin="round" fill="none"/>
<path d="M1932.9 1215.8L1937.8 1210.9L1941.7 1205L1942.7 1202.1" stroke="#6b6b6b" stroke-opacity="0.9" stroke-width="3.7" stroke-linecap="round" stroke-linejoin="round" fill="none"/>
<path d="M1943.1 1196.2L1943.7 1184.4L1945.6 1180.5L1950.5 1176.6L1953.5 1166.8L1957.4 1159L1961.3 1153.1L1965.2 1148.2L1969.1 1142.3L1975 1136.5" stroke="#6b6b6b" stroke-opacity="0.9" stroke-width="3.7" stroke-linecap="round" stroke-linejoin="round" fill="none"/>
<path d="M1979.9 1113L1985.8 1110L1987.2 1107.1" stroke="#6b6b6b" stroke-opacity="0.9" stroke-width="3.7" stroke-linecap="round" stroke-linejoin="round" fill="none"/>
<path d="M1990.7 1101.2L1995.6 1098.7L1998.1 1095.3" stroke="#6b6b6b" stroke-opacity="0.9" stroke-width="3.7" stroke-linecap="round" stroke-linejoin="round" fill="none"/>
<path d="M1932.1 1218.7h0M1976 1127.7h0M1978.9 1124.1h0M2002 1087.5h0M2006.3 1087.5h0M2011.8 1087.5h0M2020.6 1085h0" stroke="#6b6b6b" stroke-width="3.5" stroke-linecap="round" fill="none"/>
<path d="M1706.8 1083H1712.3V1392.4M1706.8 1392.4H2023.8V1397.9M1706.8 1361.5H1712.3M1706.8 1330.5H1712.3M1706.8 1299.6H1712.3M1706.8 1268.6H1712.3M1706.8 1237.7H1712.3M1706.8 1206.8H1712.3M1706.8 1175.8H1712.3M1706.8 1144.9H1712.3M1706.8 1113.9H1712.3M1706.8 1083H1712.3M1712.3 1392.4V1397.9M1758.8 1392.4V1397.9M1805.3 1392.4V1397.9M1851.8 1392.4V1397.9M1898.3 1392.4V1397.9M1944.8 1392.4V1397.9M1991.3 1392.4V1397.9" stroke="#858585" stroke-width="1.5" fill="none"/>
<g class="qt" text-anchor="end">
<text x="1703" y="1396.5">0</text>
<text x="1703" y="1365.6">2</text>
<text x="1703" y="1334.6">4</text>
<text x="1703" y="1303.7">6</text>
<text x="1703" y="1272.7">8</text>
<text x="1703" y="1241.8">10</text>
<text x="1703" y="1210.9">12</text>
<text x="1703" y="1179.9">14</text>
<text x="1703" y="1149">16</text>
<text x="1703" y="1118">18</text>
<text x="1703" y="1087.1">20</text>
</g><g class="qt" text-anchor="middle">
<text x="1712.3" y="1410.7">0</text>
<text x="1758.8" y="1410.7">1</text>
<text x="1805.3" y="1410.7">2</text>
<text x="1851.8" y="1410.7">3</text>
<text x="1898.3" y="1410.7">4</text>
<text x="1944.8" y="1410.7">5</text>
<text x="1991.3" y="1410.7">6</text>
</g>
<text class="qa" text-anchor="middle" x="1868" y="1429.4">Expected -log10 P-value</text>
<text class="qa" text-anchor="middle" transform="translate(1675.5 1237) rotate(-90)">Observed -log10 P-value</text>
</g>
</svg>
</body>
</html>
